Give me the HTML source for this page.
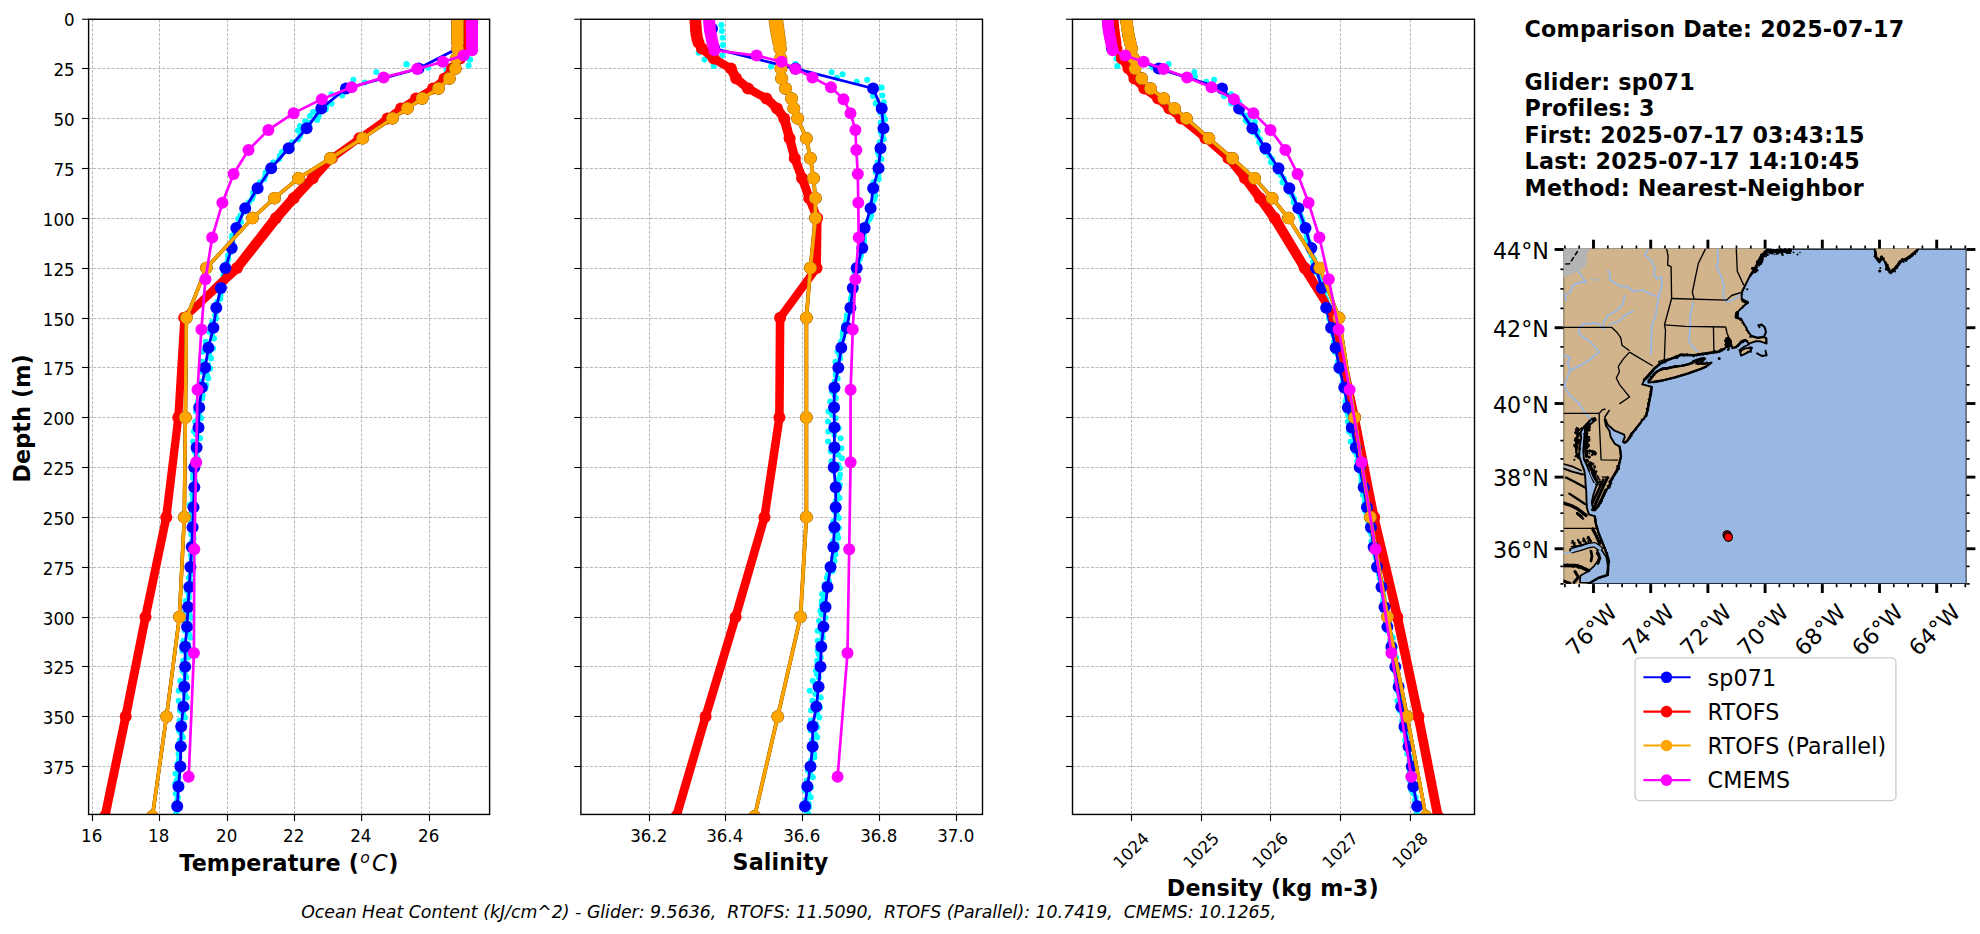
<!DOCTYPE html>
<html lang="en"><head><meta charset="utf-8"><title>Glider vs model comparison 2025-07-17</title>
<style>html,body{margin:0;padding:0;background:#fff}svg{display:block}text{white-space:pre}</style></head><body>
<svg width="1980" height="934" viewBox="0 0 1980 934">
<rect width="1980" height="934" fill="#fff"/>
<clipPath id="clip1"><rect x="88.6" y="19.25" width="401" height="795.2"/></clipPath>
<g stroke="#b0b0b0" stroke-width="0.9" stroke-dasharray="3.05 1.55" fill="none">
<line x1="92.5" y1="19.25" x2="92.5" y2="814.45"/>
<line x1="159.5" y1="19.25" x2="159.5" y2="814.45"/>
<line x1="227.5" y1="19.25" x2="227.5" y2="814.45"/>
<line x1="294.5" y1="19.25" x2="294.5" y2="814.45"/>
<line x1="361.6" y1="19.25" x2="361.6" y2="814.45"/>
<line x1="429.5" y1="19.25" x2="429.5" y2="814.45"/>
<line x1="88.6" y1="68.5" x2="489.6" y2="68.5"/>
<line x1="88.6" y1="118.5" x2="489.6" y2="118.5"/>
<line x1="88.6" y1="168.5" x2="489.6" y2="168.5"/>
<line x1="88.6" y1="218.5" x2="489.6" y2="218.5"/>
<line x1="88.6" y1="268.5" x2="489.6" y2="268.5"/>
<line x1="88.6" y1="318.5" x2="489.6" y2="318.5"/>
<line x1="88.6" y1="367.5" x2="489.6" y2="367.5"/>
<line x1="88.6" y1="417.5" x2="489.6" y2="417.5"/>
<line x1="88.6" y1="467.5" x2="489.6" y2="467.5"/>
<line x1="88.6" y1="517.5" x2="489.6" y2="517.5"/>
<line x1="88.6" y1="567.5" x2="489.6" y2="567.5"/>
<line x1="88.6" y1="617.5" x2="489.6" y2="617.5"/>
<line x1="88.6" y1="666.5" x2="489.6" y2="666.5"/>
<line x1="88.6" y1="716.5" x2="489.6" y2="716.5"/>
<line x1="88.6" y1="766.5" x2="489.6" y2="766.5"/>
</g>
<g clip-path="url(#clip1)">
<g fill="#00ffff">
<circle cx="324.94" cy="102.45" r="3"/>
<circle cx="316.29" cy="112.42" r="3"/>
<circle cx="308.81" cy="122.39" r="3"/>
<circle cx="301.18" cy="132.36" r="3"/>
<circle cx="292.11" cy="142.33" r="3"/>
<circle cx="281.86" cy="152.3" r="3"/>
<circle cx="273.34" cy="162.27" r="3"/>
<circle cx="265.71" cy="172.24" r="3"/>
<circle cx="260.01" cy="182.21" r="3"/>
<circle cx="253.31" cy="192.18" r="3"/>
<circle cx="248.85" cy="202.15" r="3"/>
<circle cx="243.83" cy="212.12" r="3"/>
<circle cx="241.02" cy="222.09" r="3"/>
<circle cx="236.73" cy="232.06" r="3"/>
<circle cx="232.29" cy="242.03" r="3"/>
<circle cx="230.8" cy="252" r="3"/>
<circle cx="227.34" cy="261.97" r="3"/>
<circle cx="224.21" cy="271.94" r="3"/>
<circle cx="222.52" cy="281.91" r="3"/>
<circle cx="219.89" cy="291.88" r="3"/>
<circle cx="217.37" cy="301.85" r="3"/>
<circle cx="215.81" cy="311.82" r="3"/>
<circle cx="212.22" cy="321.79" r="3"/>
<circle cx="209.24" cy="331.76" r="3"/>
<circle cx="205.77" cy="341.73" r="3"/>
<circle cx="202.75" cy="351.7" r="3"/>
<circle cx="202.24" cy="361.67" r="3"/>
<circle cx="201.23" cy="371.64" r="3"/>
<circle cx="201.05" cy="381.61" r="3"/>
<circle cx="199.16" cy="391.58" r="3"/>
<circle cx="197.8" cy="401.55" r="3"/>
<circle cx="195.89" cy="411.52" r="3"/>
<circle cx="195.17" cy="421.49" r="3"/>
<circle cx="193.91" cy="431.46" r="3"/>
<circle cx="193.04" cy="441.43" r="3"/>
<circle cx="194.52" cy="451.4" r="3"/>
<circle cx="194.75" cy="461.37" r="3"/>
<circle cx="194.93" cy="471.34" r="3"/>
<circle cx="195.28" cy="481.31" r="3"/>
<circle cx="194.26" cy="491.28" r="3"/>
<circle cx="193.14" cy="501.25" r="3"/>
<circle cx="192.23" cy="511.22" r="3"/>
<circle cx="191.1" cy="521.19" r="3"/>
<circle cx="192.35" cy="531.16" r="3"/>
<circle cx="191.94" cy="541.13" r="3"/>
<circle cx="193.15" cy="551.1" r="3"/>
<circle cx="192.06" cy="561.07" r="3"/>
<circle cx="192.39" cy="571.04" r="3"/>
<circle cx="190.7" cy="581.01" r="3"/>
<circle cx="187.11" cy="590.98" r="3"/>
<circle cx="185.63" cy="600.95" r="3"/>
<circle cx="185.69" cy="610.92" r="3"/>
<circle cx="184.22" cy="620.89" r="3"/>
<circle cx="184.99" cy="630.86" r="3"/>
<circle cx="183.43" cy="640.83" r="3"/>
<circle cx="182.46" cy="650.8" r="3"/>
<circle cx="183.26" cy="660.77" r="3"/>
<circle cx="182.57" cy="670.74" r="3"/>
<circle cx="180.16" cy="680.71" r="3"/>
<circle cx="178.68" cy="690.68" r="3"/>
<circle cx="178.68" cy="700.65" r="3"/>
<circle cx="179.93" cy="710.62" r="3"/>
<circle cx="179.61" cy="720.59" r="3"/>
<circle cx="178.83" cy="730.56" r="3"/>
<circle cx="179.73" cy="740.53" r="3"/>
<circle cx="179.45" cy="750.5" r="3"/>
<circle cx="178.84" cy="760.47" r="3"/>
<circle cx="179.3" cy="770.44" r="3"/>
<circle cx="176.84" cy="780.41" r="3"/>
<circle cx="177.06" cy="790.38" r="3"/>
<circle cx="177.04" cy="800.35" r="3"/>
<circle cx="177.24" cy="810.32" r="3"/>
<circle cx="326.37" cy="105.84" r="3"/>
<circle cx="318.65" cy="115.81" r="3"/>
<circle cx="309.44" cy="125.78" r="3"/>
<circle cx="300.23" cy="135.75" r="3"/>
<circle cx="289.53" cy="145.72" r="3"/>
<circle cx="279.92" cy="155.69" r="3"/>
<circle cx="272.33" cy="165.66" r="3"/>
<circle cx="265.05" cy="175.63" r="3"/>
<circle cx="257.89" cy="185.6" r="3"/>
<circle cx="253.16" cy="195.57" r="3"/>
<circle cx="245.57" cy="205.54" r="3"/>
<circle cx="240.44" cy="215.51" r="3"/>
<circle cx="236.04" cy="225.48" r="3"/>
<circle cx="232.05" cy="235.45" r="3"/>
<circle cx="228.53" cy="245.42" r="3"/>
<circle cx="227.98" cy="255.39" r="3"/>
<circle cx="224.45" cy="265.36" r="3"/>
<circle cx="223.39" cy="275.33" r="3"/>
<circle cx="223.2" cy="285.3" r="3"/>
<circle cx="220.43" cy="295.27" r="3"/>
<circle cx="217.84" cy="305.24" r="3"/>
<circle cx="215.17" cy="315.21" r="3"/>
<circle cx="213.32" cy="325.18" r="3"/>
<circle cx="212.11" cy="335.15" r="3"/>
<circle cx="209.54" cy="345.12" r="3"/>
<circle cx="209.35" cy="355.09" r="3"/>
<circle cx="208.14" cy="365.06" r="3"/>
<circle cx="207.03" cy="375.03" r="3"/>
<circle cx="206.04" cy="385" r="3"/>
<circle cx="202.69" cy="394.97" r="3"/>
<circle cx="200.29" cy="404.94" r="3"/>
<circle cx="199.2" cy="414.91" r="3"/>
<circle cx="196.96" cy="424.88" r="3"/>
<circle cx="196.22" cy="434.85" r="3"/>
<circle cx="197.26" cy="444.82" r="3"/>
<circle cx="196.41" cy="454.79" r="3"/>
<circle cx="194.12" cy="464.76" r="3"/>
<circle cx="193.1" cy="474.73" r="3"/>
<circle cx="193.16" cy="484.7" r="3"/>
<circle cx="192.2" cy="494.67" r="3"/>
<circle cx="189.69" cy="504.64" r="3"/>
<circle cx="190.85" cy="514.61" r="3"/>
<circle cx="191.06" cy="524.58" r="3"/>
<circle cx="191.23" cy="534.55" r="3"/>
<circle cx="191.49" cy="544.52" r="3"/>
<circle cx="190.85" cy="554.49" r="3"/>
<circle cx="190.05" cy="564.46" r="3"/>
<circle cx="190.88" cy="574.43" r="3"/>
<circle cx="188.43" cy="584.4" r="3"/>
<circle cx="188.68" cy="594.37" r="3"/>
<circle cx="187.7" cy="604.34" r="3"/>
<circle cx="189.36" cy="614.31" r="3"/>
<circle cx="189.61" cy="624.28" r="3"/>
<circle cx="189.03" cy="634.25" r="3"/>
<circle cx="188.02" cy="644.22" r="3"/>
<circle cx="188.31" cy="654.19" r="3"/>
<circle cx="185.98" cy="664.16" r="3"/>
<circle cx="184.97" cy="674.13" r="3"/>
<circle cx="184.61" cy="684.1" r="3"/>
<circle cx="184.72" cy="694.07" r="3"/>
<circle cx="184.22" cy="704.04" r="3"/>
<circle cx="183.12" cy="714.01" r="3"/>
<circle cx="183.44" cy="723.98" r="3"/>
<circle cx="181.1" cy="733.95" r="3"/>
<circle cx="179.47" cy="743.92" r="3"/>
<circle cx="178.48" cy="753.89" r="3"/>
<circle cx="177.57" cy="763.86" r="3"/>
<circle cx="175.61" cy="773.83" r="3"/>
<circle cx="175.2" cy="783.8" r="3"/>
<circle cx="175.71" cy="793.77" r="3"/>
<circle cx="176.42" cy="803.74" r="3"/>
<circle cx="175.99" cy="813.71" r="3"/>
<circle cx="325.75" cy="109.23" r="3"/>
<circle cx="317.5" cy="119.2" r="3"/>
<circle cx="308.09" cy="129.17" r="3"/>
<circle cx="298.19" cy="139.14" r="3"/>
<circle cx="288.6" cy="149.11" r="3"/>
<circle cx="279.13" cy="159.08" r="3"/>
<circle cx="270.83" cy="169.05" r="3"/>
<circle cx="264.4" cy="179.02" r="3"/>
<circle cx="259.36" cy="188.99" r="3"/>
<circle cx="252.07" cy="198.96" r="3"/>
<circle cx="245.48" cy="208.93" r="3"/>
<circle cx="238.12" cy="218.9" r="3"/>
<circle cx="234.54" cy="228.87" r="3"/>
<circle cx="232.13" cy="238.84" r="3"/>
<circle cx="231.13" cy="248.81" r="3"/>
<circle cx="228.35" cy="258.78" r="3"/>
<circle cx="227.68" cy="268.75" r="3"/>
<circle cx="224.1" cy="278.72" r="3"/>
<circle cx="222.7" cy="288.69" r="3"/>
<circle cx="220.31" cy="298.66" r="3"/>
<circle cx="217.98" cy="308.63" r="3"/>
<circle cx="216.22" cy="318.6" r="3"/>
<circle cx="215.26" cy="328.57" r="3"/>
<circle cx="214.04" cy="338.54" r="3"/>
<circle cx="213.03" cy="348.51" r="3"/>
<circle cx="211.03" cy="358.48" r="3"/>
<circle cx="210.11" cy="368.45" r="3"/>
<circle cx="208.25" cy="378.42" r="3"/>
<circle cx="205.51" cy="388.39" r="3"/>
<circle cx="202.29" cy="398.36" r="3"/>
<circle cx="201.25" cy="408.33" r="3"/>
<circle cx="201.08" cy="418.3" r="3"/>
<circle cx="200.56" cy="428.27" r="3"/>
<circle cx="200.19" cy="438.24" r="3"/>
<circle cx="198.81" cy="448.21" r="3"/>
<circle cx="197.5" cy="458.18" r="3"/>
<circle cx="195.39" cy="468.15" r="3"/>
<circle cx="193.04" cy="478.12" r="3"/>
<circle cx="193.14" cy="488.09" r="3"/>
<circle cx="193.12" cy="498.06" r="3"/>
<circle cx="192.89" cy="508.03" r="3"/>
<circle cx="193.03" cy="518" r="3"/>
<circle cx="192.85" cy="527.97" r="3"/>
<circle cx="193.66" cy="537.94" r="3"/>
<circle cx="192.87" cy="547.91" r="3"/>
<circle cx="191.47" cy="557.88" r="3"/>
<circle cx="191.08" cy="567.85" r="3"/>
<circle cx="188.82" cy="577.82" r="3"/>
<circle cx="190.04" cy="587.79" r="3"/>
<circle cx="189" cy="597.76" r="3"/>
<circle cx="190.85" cy="607.73" r="3"/>
<circle cx="191.27" cy="617.7" r="3"/>
<circle cx="190.81" cy="627.67" r="3"/>
<circle cx="190.63" cy="637.64" r="3"/>
<circle cx="188.64" cy="647.61" r="3"/>
<circle cx="188.02" cy="657.58" r="3"/>
<circle cx="188.06" cy="667.55" r="3"/>
<circle cx="186.33" cy="677.52" r="3"/>
<circle cx="185.94" cy="687.49" r="3"/>
<circle cx="186.71" cy="697.46" r="3"/>
<circle cx="187.31" cy="707.43" r="3"/>
<circle cx="184.98" cy="717.4" r="3"/>
<circle cx="182.94" cy="727.37" r="3"/>
<circle cx="182.87" cy="737.34" r="3"/>
<circle cx="180.89" cy="747.31" r="3"/>
<circle cx="179.48" cy="757.28" r="3"/>
<circle cx="180.06" cy="767.25" r="3"/>
<circle cx="178.51" cy="777.22" r="3"/>
<circle cx="179.01" cy="787.19" r="3"/>
<circle cx="177.94" cy="797.16" r="3"/>
<circle cx="177.79" cy="807.13" r="3"/>
<circle cx="406.4" cy="64.3" r="3"/>
<circle cx="428.1" cy="67.7" r="3"/>
<circle cx="470.1" cy="59.5" r="3"/>
<circle cx="468.6" cy="65.5" r="3"/>
<circle cx="446.5" cy="70" r="3"/>
<circle cx="469.8" cy="59.4" r="3"/>
<circle cx="406.6" cy="64.3" r="3"/>
<circle cx="376.3" cy="71.9" r="3"/>
<circle cx="353.3" cy="79.8" r="3"/>
<circle cx="365.1" cy="82.4" r="3"/>
<circle cx="342.1" cy="95.6" r="3"/>
<circle cx="331.5" cy="94.3" r="3"/>
<circle cx="331.5" cy="103.8" r="3"/>
<circle cx="313.1" cy="112.1" r="3"/>
<circle cx="305.2" cy="121.3" r="3"/>
<circle cx="317.1" cy="120" r="3"/>
<circle cx="298" cy="130.5" r="3"/>
<circle cx="322" cy="108" r="3"/>
<circle cx="300" cy="126" r="3"/>
<circle cx="310" cy="116" r="3"/>
</g>
<polyline points="457.5,28.67 457.5,48.61 418.5,68.55 346,88.49 321.3,108.43 306.6,128.37 288.7,148.31 271.2,168.25 257.6,188.19 245.2,208.13 236.3,228.07 231.7,248.01 225.4,267.95 220.9,287.89 216.3,307.83 213.4,327.77 208.4,347.71 205.1,367.65 201.8,387.59 199.2,407.53 198.5,427.47 196.6,447.41 194.3,467.35 194.3,487.29 193.5,507.23 192.6,527.17 191.7,547.11 190.4,567.05 189.3,586.99 188,606.93 187,626.87 185.1,646.81 185.1,666.75 184.3,686.69 183.4,706.63 181.2,726.57 180.8,746.51 180.4,766.45 178.5,786.39 177.2,806.33" fill="none" stroke="#0000ff" stroke-width="2.8" stroke-linejoin="round"/>
<polyline points="461.1,18.7 461.1,22.69 461.1,26.68 461.1,30.66 461.1,34.65 461.1,38.64 461.1,42.63 461.1,48.61 459.6,58.58 451.6,68.55 444.1,78.52 432.6,88.49 415.6,98.46 400.6,108.43 387.1,118.4 359,138.34 331.1,158.28 310.8,178.22 291.3,198.16 273.5,218.1 234.9,267.95 183.6,317.8 177.5,417.5 165.3,517.2 144.4,616.9 124.5,716.6 103.8,816.3" fill="none" stroke="#ff0000" stroke-width="6.6" stroke-linejoin="round" stroke-linecap="butt"/>
<polyline points="461.5,18.7 461.5,22.69 461.5,26.68 461.5,30.66 461.5,34.65 461.5,38.64 461.5,42.63 461.5,48.61 460,58.58 452,68.55 444.5,78.52 433,88.49 416,98.46 401,108.43 387.5,118.4 359.4,138.34 331.8,158.28 312.7,178.22 293.6,198.16 276,218.1 237,267.95 184.2,317.8 178.3,417.5 166.3,517.2 145.5,616.9 125.7,716.6 105,816.3" fill="none" stroke="#ff0000" stroke-width="6.6" stroke-linejoin="round" stroke-linecap="butt"/>
<polyline points="461.9,18.7 461.9,22.69 461.9,26.68 461.9,30.66 461.9,34.65 461.9,38.64 461.9,42.63 461.9,48.61 460.4,58.58 452.4,68.55 444.9,78.52 433.4,88.49 416.4,98.46 401.4,108.43 387.9,118.4 359.8,138.34 332.5,158.28 314.6,178.22 295.9,198.16 278.5,218.1 239.1,267.95 184.8,317.8 179.1,417.5 167.3,517.2 146.6,616.9 126.9,716.6 106.2,816.3" fill="none" stroke="#ff0000" stroke-width="6.6" stroke-linejoin="round" stroke-linecap="butt"/>
<g>
<circle cx="461.5" cy="18.7" r="6" fill="#ff0000"/>
<circle cx="461.5" cy="22.69" r="6" fill="#ff0000"/>
<circle cx="461.5" cy="26.68" r="6" fill="#ff0000"/>
<circle cx="461.5" cy="30.66" r="6" fill="#ff0000"/>
<circle cx="461.5" cy="34.65" r="6" fill="#ff0000"/>
<circle cx="461.5" cy="38.64" r="6" fill="#ff0000"/>
<circle cx="461.5" cy="42.63" r="6" fill="#ff0000"/>
<circle cx="461.5" cy="48.61" r="6" fill="#ff0000"/>
<circle cx="460" cy="58.58" r="6" fill="#ff0000"/>
<circle cx="452" cy="68.55" r="6" fill="#ff0000"/>
<circle cx="444.5" cy="78.52" r="6" fill="#ff0000"/>
<circle cx="433" cy="88.49" r="6" fill="#ff0000"/>
<circle cx="416" cy="98.46" r="6" fill="#ff0000"/>
<circle cx="401" cy="108.43" r="6" fill="#ff0000"/>
<circle cx="387.5" cy="118.4" r="6" fill="#ff0000"/>
<circle cx="359.4" cy="138.34" r="6" fill="#ff0000"/>
<circle cx="331.8" cy="158.28" r="6" fill="#ff0000"/>
<circle cx="312.7" cy="178.22" r="6" fill="#ff0000"/>
<circle cx="293.6" cy="198.16" r="6" fill="#ff0000"/>
<circle cx="276" cy="218.1" r="6" fill="#ff0000"/>
<circle cx="237" cy="267.95" r="6" fill="#ff0000"/>
<circle cx="184.2" cy="317.8" r="6" fill="#ff0000"/>
<circle cx="178.3" cy="417.5" r="6" fill="#ff0000"/>
<circle cx="166.3" cy="517.2" r="6" fill="#ff0000"/>
<circle cx="145.5" cy="616.9" r="6" fill="#ff0000"/>
<circle cx="125.7" cy="716.6" r="6" fill="#ff0000"/>
<circle cx="105" cy="816.3" r="6" fill="#ff0000"/>
</g>
<g>
<circle cx="457.5" cy="28.67" r="6" fill="#0000ff"/>
<circle cx="457.5" cy="48.61" r="6" fill="#0000ff"/>
<circle cx="418.5" cy="68.55" r="6" fill="#0000ff"/>
<circle cx="346" cy="88.49" r="6" fill="#0000ff"/>
<circle cx="321.3" cy="108.43" r="6" fill="#0000ff"/>
<circle cx="306.6" cy="128.37" r="6" fill="#0000ff"/>
<circle cx="288.7" cy="148.31" r="6" fill="#0000ff"/>
<circle cx="271.2" cy="168.25" r="6" fill="#0000ff"/>
<circle cx="257.6" cy="188.19" r="6" fill="#0000ff"/>
<circle cx="245.2" cy="208.13" r="6" fill="#0000ff"/>
<circle cx="236.3" cy="228.07" r="6" fill="#0000ff"/>
<circle cx="231.7" cy="248.01" r="6" fill="#0000ff"/>
<circle cx="225.4" cy="267.95" r="6" fill="#0000ff"/>
<circle cx="220.9" cy="287.89" r="6" fill="#0000ff"/>
<circle cx="216.3" cy="307.83" r="6" fill="#0000ff"/>
<circle cx="213.4" cy="327.77" r="6" fill="#0000ff"/>
<circle cx="208.4" cy="347.71" r="6" fill="#0000ff"/>
<circle cx="205.1" cy="367.65" r="6" fill="#0000ff"/>
<circle cx="201.8" cy="387.59" r="6" fill="#0000ff"/>
<circle cx="199.2" cy="407.53" r="6" fill="#0000ff"/>
<circle cx="198.5" cy="427.47" r="6" fill="#0000ff"/>
<circle cx="196.6" cy="447.41" r="6" fill="#0000ff"/>
<circle cx="194.3" cy="467.35" r="6" fill="#0000ff"/>
<circle cx="194.3" cy="487.29" r="6" fill="#0000ff"/>
<circle cx="193.5" cy="507.23" r="6" fill="#0000ff"/>
<circle cx="192.6" cy="527.17" r="6" fill="#0000ff"/>
<circle cx="191.7" cy="547.11" r="6" fill="#0000ff"/>
<circle cx="190.4" cy="567.05" r="6" fill="#0000ff"/>
<circle cx="189.3" cy="586.99" r="6" fill="#0000ff"/>
<circle cx="188" cy="606.93" r="6" fill="#0000ff"/>
<circle cx="187" cy="626.87" r="6" fill="#0000ff"/>
<circle cx="185.1" cy="646.81" r="6" fill="#0000ff"/>
<circle cx="185.1" cy="666.75" r="6" fill="#0000ff"/>
<circle cx="184.3" cy="686.69" r="6" fill="#0000ff"/>
<circle cx="183.4" cy="706.63" r="6" fill="#0000ff"/>
<circle cx="181.2" cy="726.57" r="6" fill="#0000ff"/>
<circle cx="180.8" cy="746.51" r="6" fill="#0000ff"/>
<circle cx="180.4" cy="766.45" r="6" fill="#0000ff"/>
<circle cx="178.5" cy="786.39" r="6" fill="#0000ff"/>
<circle cx="177.2" cy="806.33" r="6" fill="#0000ff"/>
</g>
<polyline points="457.5,18.7 457.5,22.69 457.5,26.68 457.5,30.66 457.5,34.65 457.5,38.64 457.5,42.63 457.5,48.61 456.3,58.58 455.4,68.55 449.4,78.52 438.5,88.49 422.2,98.46 407.4,108.43 392.5,118.4 362.7,138.34 330.5,158.28 298.6,178.22 274.5,198.16 252.5,218.1 206.4,267.95 186.4,317.8 185.4,417.5 184.3,517.2 179.4,616.9 166.5,716.6 152.4,816.3" fill="none" stroke="#b87a10" stroke-width="3.5" stroke-linejoin="round"/>
<polyline points="457.5,18.7 457.5,22.69 457.5,26.68 457.5,30.66 457.5,34.65 457.5,38.64 457.5,42.63 457.5,48.61 456.3,58.58 455.4,68.55 449.4,78.52 438.5,88.49 422.2,98.46 407.4,108.43 392.5,118.4 362.7,138.34 330.5,158.28 298.6,178.22 274.5,198.16 252.5,218.1 206.4,267.95 186.4,317.8 185.4,417.5 184.3,517.2 179.4,616.9 166.5,716.6 152.4,816.3" fill="none" stroke="#b87a10" stroke-width="3.5" stroke-linejoin="round"/>
<polyline points="457.5,18.7 457.5,22.69 457.5,26.68 457.5,30.66 457.5,34.65 457.5,38.64 457.5,42.63 457.5,48.61 456.3,58.58 455.4,68.55 449.4,78.52 438.5,88.49 422.2,98.46 407.4,108.43 392.5,118.4 362.7,138.34 330.5,158.28 298.6,178.22 274.5,198.16 252.5,218.1 206.4,267.95 186.4,317.8 185.4,417.5 184.3,517.2 179.4,616.9 166.5,716.6 152.4,816.3" fill="none" stroke="#b87a10" stroke-width="3.5" stroke-linejoin="round"/>
<g>
<circle cx="457.5" cy="18.7" r="6.25" fill="#b87a10"/>
<circle cx="457.5" cy="22.69" r="6.25" fill="#b87a10"/>
<circle cx="457.5" cy="26.68" r="6.25" fill="#b87a10"/>
<circle cx="457.5" cy="30.66" r="6.25" fill="#b87a10"/>
<circle cx="457.5" cy="34.65" r="6.25" fill="#b87a10"/>
<circle cx="457.5" cy="38.64" r="6.25" fill="#b87a10"/>
<circle cx="457.5" cy="42.63" r="6.25" fill="#b87a10"/>
<circle cx="457.5" cy="48.61" r="6.25" fill="#b87a10"/>
<circle cx="456.3" cy="58.58" r="6.25" fill="#b87a10"/>
<circle cx="455.4" cy="68.55" r="6.25" fill="#b87a10"/>
<circle cx="449.4" cy="78.52" r="6.25" fill="#b87a10"/>
<circle cx="438.5" cy="88.49" r="6.25" fill="#b87a10"/>
<circle cx="422.2" cy="98.46" r="6.25" fill="#b87a10"/>
<circle cx="407.4" cy="108.43" r="6.25" fill="#b87a10"/>
<circle cx="392.5" cy="118.4" r="6.25" fill="#b87a10"/>
<circle cx="362.7" cy="138.34" r="6.25" fill="#b87a10"/>
<circle cx="330.5" cy="158.28" r="6.25" fill="#b87a10"/>
<circle cx="298.6" cy="178.22" r="6.25" fill="#b87a10"/>
<circle cx="274.5" cy="198.16" r="6.25" fill="#b87a10"/>
<circle cx="252.5" cy="218.1" r="6.25" fill="#b87a10"/>
<circle cx="206.4" cy="267.95" r="6.25" fill="#b87a10"/>
<circle cx="186.4" cy="317.8" r="6.25" fill="#b87a10"/>
<circle cx="185.4" cy="417.5" r="6.25" fill="#b87a10"/>
<circle cx="184.3" cy="517.2" r="6.25" fill="#b87a10"/>
<circle cx="179.4" cy="616.9" r="6.25" fill="#b87a10"/>
<circle cx="166.5" cy="716.6" r="6.25" fill="#b87a10"/>
<circle cx="152.4" cy="816.3" r="6.25" fill="#b87a10"/>
<circle cx="457.5" cy="18.7" r="6.25" fill="#b87a10"/>
<circle cx="457.5" cy="22.69" r="6.25" fill="#b87a10"/>
<circle cx="457.5" cy="26.68" r="6.25" fill="#b87a10"/>
<circle cx="457.5" cy="30.66" r="6.25" fill="#b87a10"/>
<circle cx="457.5" cy="34.65" r="6.25" fill="#b87a10"/>
<circle cx="457.5" cy="38.64" r="6.25" fill="#b87a10"/>
<circle cx="457.5" cy="42.63" r="6.25" fill="#b87a10"/>
<circle cx="457.5" cy="48.61" r="6.25" fill="#b87a10"/>
<circle cx="456.3" cy="58.58" r="6.25" fill="#b87a10"/>
<circle cx="455.4" cy="68.55" r="6.25" fill="#b87a10"/>
<circle cx="449.4" cy="78.52" r="6.25" fill="#b87a10"/>
<circle cx="438.5" cy="88.49" r="6.25" fill="#b87a10"/>
<circle cx="422.2" cy="98.46" r="6.25" fill="#b87a10"/>
<circle cx="407.4" cy="108.43" r="6.25" fill="#b87a10"/>
<circle cx="392.5" cy="118.4" r="6.25" fill="#b87a10"/>
<circle cx="362.7" cy="138.34" r="6.25" fill="#b87a10"/>
<circle cx="330.5" cy="158.28" r="6.25" fill="#b87a10"/>
<circle cx="298.6" cy="178.22" r="6.25" fill="#b87a10"/>
<circle cx="274.5" cy="198.16" r="6.25" fill="#b87a10"/>
<circle cx="252.5" cy="218.1" r="6.25" fill="#b87a10"/>
<circle cx="206.4" cy="267.95" r="6.25" fill="#b87a10"/>
<circle cx="186.4" cy="317.8" r="6.25" fill="#b87a10"/>
<circle cx="185.4" cy="417.5" r="6.25" fill="#b87a10"/>
<circle cx="184.3" cy="517.2" r="6.25" fill="#b87a10"/>
<circle cx="179.4" cy="616.9" r="6.25" fill="#b87a10"/>
<circle cx="166.5" cy="716.6" r="6.25" fill="#b87a10"/>
<circle cx="152.4" cy="816.3" r="6.25" fill="#b87a10"/>
<circle cx="457.5" cy="18.7" r="6.25" fill="#b87a10"/>
<circle cx="457.5" cy="22.69" r="6.25" fill="#b87a10"/>
<circle cx="457.5" cy="26.68" r="6.25" fill="#b87a10"/>
<circle cx="457.5" cy="30.66" r="6.25" fill="#b87a10"/>
<circle cx="457.5" cy="34.65" r="6.25" fill="#b87a10"/>
<circle cx="457.5" cy="38.64" r="6.25" fill="#b87a10"/>
<circle cx="457.5" cy="42.63" r="6.25" fill="#b87a10"/>
<circle cx="457.5" cy="48.61" r="6.25" fill="#b87a10"/>
<circle cx="456.3" cy="58.58" r="6.25" fill="#b87a10"/>
<circle cx="455.4" cy="68.55" r="6.25" fill="#b87a10"/>
<circle cx="449.4" cy="78.52" r="6.25" fill="#b87a10"/>
<circle cx="438.5" cy="88.49" r="6.25" fill="#b87a10"/>
<circle cx="422.2" cy="98.46" r="6.25" fill="#b87a10"/>
<circle cx="407.4" cy="108.43" r="6.25" fill="#b87a10"/>
<circle cx="392.5" cy="118.4" r="6.25" fill="#b87a10"/>
<circle cx="362.7" cy="138.34" r="6.25" fill="#b87a10"/>
<circle cx="330.5" cy="158.28" r="6.25" fill="#b87a10"/>
<circle cx="298.6" cy="178.22" r="6.25" fill="#b87a10"/>
<circle cx="274.5" cy="198.16" r="6.25" fill="#b87a10"/>
<circle cx="252.5" cy="218.1" r="6.25" fill="#b87a10"/>
<circle cx="206.4" cy="267.95" r="6.25" fill="#b87a10"/>
<circle cx="186.4" cy="317.8" r="6.25" fill="#b87a10"/>
<circle cx="185.4" cy="417.5" r="6.25" fill="#b87a10"/>
<circle cx="184.3" cy="517.2" r="6.25" fill="#b87a10"/>
<circle cx="179.4" cy="616.9" r="6.25" fill="#b87a10"/>
<circle cx="166.5" cy="716.6" r="6.25" fill="#b87a10"/>
<circle cx="152.4" cy="816.3" r="6.25" fill="#b87a10"/>
</g>
<polyline points="457.5,18.7 457.5,22.69 457.5,26.68 457.5,30.66 457.5,34.65 457.5,38.64 457.5,42.63 457.5,48.61 456.3,58.58 455.4,68.55 449.4,78.52 438.5,88.49 422.2,98.46 407.4,108.43 392.5,118.4 362.7,138.34 330.5,158.28 298.6,178.22 274.5,198.16 252.5,218.1 206.4,267.95 186.4,317.8 185.4,417.5 184.3,517.2 179.4,616.9 166.5,716.6 152.4,816.3" fill="none" stroke="#ffa500" stroke-width="2.3" stroke-linejoin="round"/>
<polyline points="457.5,18.7 457.5,22.69 457.5,26.68 457.5,30.66 457.5,34.65 457.5,38.64 457.5,42.63 457.5,48.61 456.3,58.58 455.4,68.55 449.4,78.52 438.5,88.49 422.2,98.46 407.4,108.43 392.5,118.4 362.7,138.34 330.5,158.28 298.6,178.22 274.5,198.16 252.5,218.1 206.4,267.95 186.4,317.8 185.4,417.5 184.3,517.2 179.4,616.9 166.5,716.6 152.4,816.3" fill="none" stroke="#ffa500" stroke-width="2.3" stroke-linejoin="round"/>
<polyline points="457.5,18.7 457.5,22.69 457.5,26.68 457.5,30.66 457.5,34.65 457.5,38.64 457.5,42.63 457.5,48.61 456.3,58.58 455.4,68.55 449.4,78.52 438.5,88.49 422.2,98.46 407.4,108.43 392.5,118.4 362.7,138.34 330.5,158.28 298.6,178.22 274.5,198.16 252.5,218.1 206.4,267.95 186.4,317.8 185.4,417.5 184.3,517.2 179.4,616.9 166.5,716.6 152.4,816.3" fill="none" stroke="#ffa500" stroke-width="2.3" stroke-linejoin="round"/>
<g>
<circle cx="457.5" cy="18.7" r="5.6" fill="#ffa500"/>
<circle cx="457.5" cy="22.69" r="5.6" fill="#ffa500"/>
<circle cx="457.5" cy="26.68" r="5.6" fill="#ffa500"/>
<circle cx="457.5" cy="30.66" r="5.6" fill="#ffa500"/>
<circle cx="457.5" cy="34.65" r="5.6" fill="#ffa500"/>
<circle cx="457.5" cy="38.64" r="5.6" fill="#ffa500"/>
<circle cx="457.5" cy="42.63" r="5.6" fill="#ffa500"/>
<circle cx="457.5" cy="48.61" r="5.6" fill="#ffa500"/>
<circle cx="456.3" cy="58.58" r="5.6" fill="#ffa500"/>
<circle cx="455.4" cy="68.55" r="5.6" fill="#ffa500"/>
<circle cx="449.4" cy="78.52" r="5.6" fill="#ffa500"/>
<circle cx="438.5" cy="88.49" r="5.6" fill="#ffa500"/>
<circle cx="422.2" cy="98.46" r="5.6" fill="#ffa500"/>
<circle cx="407.4" cy="108.43" r="5.6" fill="#ffa500"/>
<circle cx="392.5" cy="118.4" r="5.6" fill="#ffa500"/>
<circle cx="362.7" cy="138.34" r="5.6" fill="#ffa500"/>
<circle cx="330.5" cy="158.28" r="5.6" fill="#ffa500"/>
<circle cx="298.6" cy="178.22" r="5.6" fill="#ffa500"/>
<circle cx="274.5" cy="198.16" r="5.6" fill="#ffa500"/>
<circle cx="252.5" cy="218.1" r="5.6" fill="#ffa500"/>
<circle cx="206.4" cy="267.95" r="5.6" fill="#ffa500"/>
<circle cx="186.4" cy="317.8" r="5.6" fill="#ffa500"/>
<circle cx="185.4" cy="417.5" r="5.6" fill="#ffa500"/>
<circle cx="184.3" cy="517.2" r="5.6" fill="#ffa500"/>
<circle cx="179.4" cy="616.9" r="5.6" fill="#ffa500"/>
<circle cx="166.5" cy="716.6" r="5.6" fill="#ffa500"/>
<circle cx="152.4" cy="816.3" r="5.6" fill="#ffa500"/>
<circle cx="457.5" cy="18.7" r="5.6" fill="#ffa500"/>
<circle cx="457.5" cy="22.69" r="5.6" fill="#ffa500"/>
<circle cx="457.5" cy="26.68" r="5.6" fill="#ffa500"/>
<circle cx="457.5" cy="30.66" r="5.6" fill="#ffa500"/>
<circle cx="457.5" cy="34.65" r="5.6" fill="#ffa500"/>
<circle cx="457.5" cy="38.64" r="5.6" fill="#ffa500"/>
<circle cx="457.5" cy="42.63" r="5.6" fill="#ffa500"/>
<circle cx="457.5" cy="48.61" r="5.6" fill="#ffa500"/>
<circle cx="456.3" cy="58.58" r="5.6" fill="#ffa500"/>
<circle cx="455.4" cy="68.55" r="5.6" fill="#ffa500"/>
<circle cx="449.4" cy="78.52" r="5.6" fill="#ffa500"/>
<circle cx="438.5" cy="88.49" r="5.6" fill="#ffa500"/>
<circle cx="422.2" cy="98.46" r="5.6" fill="#ffa500"/>
<circle cx="407.4" cy="108.43" r="5.6" fill="#ffa500"/>
<circle cx="392.5" cy="118.4" r="5.6" fill="#ffa500"/>
<circle cx="362.7" cy="138.34" r="5.6" fill="#ffa500"/>
<circle cx="330.5" cy="158.28" r="5.6" fill="#ffa500"/>
<circle cx="298.6" cy="178.22" r="5.6" fill="#ffa500"/>
<circle cx="274.5" cy="198.16" r="5.6" fill="#ffa500"/>
<circle cx="252.5" cy="218.1" r="5.6" fill="#ffa500"/>
<circle cx="206.4" cy="267.95" r="5.6" fill="#ffa500"/>
<circle cx="186.4" cy="317.8" r="5.6" fill="#ffa500"/>
<circle cx="185.4" cy="417.5" r="5.6" fill="#ffa500"/>
<circle cx="184.3" cy="517.2" r="5.6" fill="#ffa500"/>
<circle cx="179.4" cy="616.9" r="5.6" fill="#ffa500"/>
<circle cx="166.5" cy="716.6" r="5.6" fill="#ffa500"/>
<circle cx="152.4" cy="816.3" r="5.6" fill="#ffa500"/>
<circle cx="457.5" cy="18.7" r="5.6" fill="#ffa500"/>
<circle cx="457.5" cy="22.69" r="5.6" fill="#ffa500"/>
<circle cx="457.5" cy="26.68" r="5.6" fill="#ffa500"/>
<circle cx="457.5" cy="30.66" r="5.6" fill="#ffa500"/>
<circle cx="457.5" cy="34.65" r="5.6" fill="#ffa500"/>
<circle cx="457.5" cy="38.64" r="5.6" fill="#ffa500"/>
<circle cx="457.5" cy="42.63" r="5.6" fill="#ffa500"/>
<circle cx="457.5" cy="48.61" r="5.6" fill="#ffa500"/>
<circle cx="456.3" cy="58.58" r="5.6" fill="#ffa500"/>
<circle cx="455.4" cy="68.55" r="5.6" fill="#ffa500"/>
<circle cx="449.4" cy="78.52" r="5.6" fill="#ffa500"/>
<circle cx="438.5" cy="88.49" r="5.6" fill="#ffa500"/>
<circle cx="422.2" cy="98.46" r="5.6" fill="#ffa500"/>
<circle cx="407.4" cy="108.43" r="5.6" fill="#ffa500"/>
<circle cx="392.5" cy="118.4" r="5.6" fill="#ffa500"/>
<circle cx="362.7" cy="138.34" r="5.6" fill="#ffa500"/>
<circle cx="330.5" cy="158.28" r="5.6" fill="#ffa500"/>
<circle cx="298.6" cy="178.22" r="5.6" fill="#ffa500"/>
<circle cx="274.5" cy="198.16" r="5.6" fill="#ffa500"/>
<circle cx="252.5" cy="218.1" r="5.6" fill="#ffa500"/>
<circle cx="206.4" cy="267.95" r="5.6" fill="#ffa500"/>
<circle cx="186.4" cy="317.8" r="5.6" fill="#ffa500"/>
<circle cx="185.4" cy="417.5" r="5.6" fill="#ffa500"/>
<circle cx="184.3" cy="517.2" r="5.6" fill="#ffa500"/>
<circle cx="179.4" cy="616.9" r="5.6" fill="#ffa500"/>
<circle cx="166.5" cy="716.6" r="5.6" fill="#ffa500"/>
<circle cx="152.4" cy="816.3" r="5.6" fill="#ffa500"/>
</g>
<polyline points="472.1,19.68 472.1,21.77 472.1,23.98 472.1,26.32 472.1,28.83 472.1,31.54 472.1,34.51 472.1,37.78 472.1,41.43 472.1,45.56 472.1,50.23 463.6,55.59 442.8,61.77 417.2,68.97 383.6,77.4 351.6,87.35 321.8,99.14 293.6,113.16 268.4,129.89 248.5,149.93 233.6,173.93 222.4,202.81 212.2,237.5 205.4,279.26 201.4,329.46 197.5,389.84 196.2,462.33 194.3,549.18 193.9,653.05 188.7,776.84" fill="none" stroke="#ff00ff" stroke-width="2.7" stroke-linejoin="round"/>
<g>
<circle cx="472.1" cy="19.68" r="6" fill="#ff00ff"/>
<circle cx="472.1" cy="21.77" r="6" fill="#ff00ff"/>
<circle cx="472.1" cy="23.98" r="6" fill="#ff00ff"/>
<circle cx="472.1" cy="26.32" r="6" fill="#ff00ff"/>
<circle cx="472.1" cy="28.83" r="6" fill="#ff00ff"/>
<circle cx="472.1" cy="31.54" r="6" fill="#ff00ff"/>
<circle cx="472.1" cy="34.51" r="6" fill="#ff00ff"/>
<circle cx="472.1" cy="37.78" r="6" fill="#ff00ff"/>
<circle cx="472.1" cy="41.43" r="6" fill="#ff00ff"/>
<circle cx="472.1" cy="45.56" r="6" fill="#ff00ff"/>
<circle cx="472.1" cy="50.23" r="6" fill="#ff00ff"/>
<circle cx="463.6" cy="55.59" r="6" fill="#ff00ff"/>
<circle cx="442.8" cy="61.77" r="6" fill="#ff00ff"/>
<circle cx="417.2" cy="68.97" r="6" fill="#ff00ff"/>
<circle cx="383.6" cy="77.4" r="6" fill="#ff00ff"/>
<circle cx="351.6" cy="87.35" r="6" fill="#ff00ff"/>
<circle cx="321.8" cy="99.14" r="6" fill="#ff00ff"/>
<circle cx="293.6" cy="113.16" r="6" fill="#ff00ff"/>
<circle cx="268.4" cy="129.89" r="6" fill="#ff00ff"/>
<circle cx="248.5" cy="149.93" r="6" fill="#ff00ff"/>
<circle cx="233.6" cy="173.93" r="6" fill="#ff00ff"/>
<circle cx="222.4" cy="202.81" r="6" fill="#ff00ff"/>
<circle cx="212.2" cy="237.5" r="6" fill="#ff00ff"/>
<circle cx="205.4" cy="279.26" r="6" fill="#ff00ff"/>
<circle cx="201.4" cy="329.46" r="6" fill="#ff00ff"/>
<circle cx="197.5" cy="389.84" r="6" fill="#ff00ff"/>
<circle cx="196.2" cy="462.33" r="6" fill="#ff00ff"/>
<circle cx="194.3" cy="549.18" r="6" fill="#ff00ff"/>
<circle cx="193.9" cy="653.05" r="6" fill="#ff00ff"/>
<circle cx="188.7" cy="776.84" r="6" fill="#ff00ff"/>
</g>
</g>
<g stroke="#000" stroke-width="1.1" fill="none">
<line x1="92.5" y1="814.45" x2="92.5" y2="821.05"/>
<line x1="159.5" y1="814.45" x2="159.5" y2="821.05"/>
<line x1="227.5" y1="814.45" x2="227.5" y2="821.05"/>
<line x1="294.5" y1="814.45" x2="294.5" y2="821.05"/>
<line x1="361.6" y1="814.45" x2="361.6" y2="821.05"/>
<line x1="429.5" y1="814.45" x2="429.5" y2="821.05"/>
<line x1="82" y1="19.25" x2="88.6" y2="19.25"/>
<line x1="82" y1="68.5" x2="88.6" y2="68.5"/>
<line x1="82" y1="118.5" x2="88.6" y2="118.5"/>
<line x1="82" y1="168.5" x2="88.6" y2="168.5"/>
<line x1="82" y1="218.5" x2="88.6" y2="218.5"/>
<line x1="82" y1="268.5" x2="88.6" y2="268.5"/>
<line x1="82" y1="318.5" x2="88.6" y2="318.5"/>
<line x1="82" y1="367.5" x2="88.6" y2="367.5"/>
<line x1="82" y1="417.5" x2="88.6" y2="417.5"/>
<line x1="82" y1="467.5" x2="88.6" y2="467.5"/>
<line x1="82" y1="517.5" x2="88.6" y2="517.5"/>
<line x1="82" y1="567.5" x2="88.6" y2="567.5"/>
<line x1="82" y1="617.5" x2="88.6" y2="617.5"/>
<line x1="82" y1="666.5" x2="88.6" y2="666.5"/>
<line x1="82" y1="716.5" x2="88.6" y2="716.5"/>
<line x1="82" y1="766.5" x2="88.6" y2="766.5"/>
</g>
<rect x="88.6" y="19.25" width="401" height="795.2" fill="none" stroke="#000" stroke-width="1.4"/>
<g font-family="'DejaVu Sans','Liberation Sans',sans-serif" font-size="16.67" fill="#000">
<text transform="translate(91.7,841.9) scale(1,1.05)" text-anchor="middle">16</text>
<text transform="translate(158.7,841.9) scale(1,1.05)" text-anchor="middle">18</text>
<text transform="translate(226.7,841.9) scale(1,1.05)" text-anchor="middle">20</text>
<text transform="translate(293.7,841.9) scale(1,1.05)" text-anchor="middle">22</text>
<text transform="translate(360.8,841.9) scale(1,1.05)" text-anchor="middle">24</text>
<text transform="translate(428.7,841.9) scale(1,1.05)" text-anchor="middle">26</text>
<text transform="translate(74.6,26.45) scale(1,1.05)" text-anchor="end">0</text>
<text transform="translate(74.6,75.7) scale(1,1.05)" text-anchor="end">25</text>
<text transform="translate(74.6,125.7) scale(1,1.05)" text-anchor="end">50</text>
<text transform="translate(74.6,175.7) scale(1,1.05)" text-anchor="end">75</text>
<text transform="translate(74.6,225.7) scale(1,1.05)" text-anchor="end">100</text>
<text transform="translate(74.6,275.7) scale(1,1.05)" text-anchor="end">125</text>
<text transform="translate(74.6,325.7) scale(1,1.05)" text-anchor="end">150</text>
<text transform="translate(74.6,374.7) scale(1,1.05)" text-anchor="end">175</text>
<text transform="translate(74.6,424.7) scale(1,1.05)" text-anchor="end">200</text>
<text transform="translate(74.6,474.7) scale(1,1.05)" text-anchor="end">225</text>
<text transform="translate(74.6,524.7) scale(1,1.05)" text-anchor="end">250</text>
<text transform="translate(74.6,574.7) scale(1,1.05)" text-anchor="end">275</text>
<text transform="translate(74.6,624.7) scale(1,1.05)" text-anchor="end">300</text>
<text transform="translate(74.6,673.7) scale(1,1.05)" text-anchor="end">325</text>
<text transform="translate(74.6,723.7) scale(1,1.05)" text-anchor="end">350</text>
<text transform="translate(74.6,773.7) scale(1,1.05)" text-anchor="end">375</text>
</g>
<clipPath id="clip2"><rect x="580.9" y="19.25" width="401.6" height="795.2"/></clipPath>
<g stroke="#b0b0b0" stroke-width="0.9" stroke-dasharray="3.05 1.55" fill="none">
<line x1="649.5" y1="19.25" x2="649.5" y2="814.45"/>
<line x1="725.5" y1="19.25" x2="725.5" y2="814.45"/>
<line x1="802.5" y1="19.25" x2="802.5" y2="814.45"/>
<line x1="879.5" y1="19.25" x2="879.5" y2="814.45"/>
<line x1="956.5" y1="19.25" x2="956.5" y2="814.45"/>
<line x1="580.9" y1="68.5" x2="982.5" y2="68.5"/>
<line x1="580.9" y1="118.5" x2="982.5" y2="118.5"/>
<line x1="580.9" y1="168.5" x2="982.5" y2="168.5"/>
<line x1="580.9" y1="218.5" x2="982.5" y2="218.5"/>
<line x1="580.9" y1="268.5" x2="982.5" y2="268.5"/>
<line x1="580.9" y1="318.5" x2="982.5" y2="318.5"/>
<line x1="580.9" y1="367.5" x2="982.5" y2="367.5"/>
<line x1="580.9" y1="417.5" x2="982.5" y2="417.5"/>
<line x1="580.9" y1="467.5" x2="982.5" y2="467.5"/>
<line x1="580.9" y1="517.5" x2="982.5" y2="517.5"/>
<line x1="580.9" y1="567.5" x2="982.5" y2="567.5"/>
<line x1="580.9" y1="617.5" x2="982.5" y2="617.5"/>
<line x1="580.9" y1="666.5" x2="982.5" y2="666.5"/>
<line x1="580.9" y1="716.5" x2="982.5" y2="716.5"/>
<line x1="580.9" y1="766.5" x2="982.5" y2="766.5"/>
</g>
<g clip-path="url(#clip2)">
<g fill="#00ffff">
<circle cx="876.59" cy="102.45" r="3"/>
<circle cx="880.3" cy="112.42" r="3"/>
<circle cx="880.78" cy="122.39" r="3"/>
<circle cx="880.69" cy="132.36" r="3"/>
<circle cx="879.75" cy="142.33" r="3"/>
<circle cx="877.85" cy="152.3" r="3"/>
<circle cx="877.63" cy="162.27" r="3"/>
<circle cx="875.81" cy="172.24" r="3"/>
<circle cx="873.54" cy="182.21" r="3"/>
<circle cx="872.26" cy="192.18" r="3"/>
<circle cx="872.11" cy="202.15" r="3"/>
<circle cx="869.73" cy="212.12" r="3"/>
<circle cx="867.43" cy="222.09" r="3"/>
<circle cx="864.23" cy="232.06" r="3"/>
<circle cx="863.91" cy="242.03" r="3"/>
<circle cx="859.82" cy="252" r="3"/>
<circle cx="858.3" cy="261.97" r="3"/>
<circle cx="854.52" cy="271.94" r="3"/>
<circle cx="854.23" cy="281.91" r="3"/>
<circle cx="852.26" cy="291.88" r="3"/>
<circle cx="851.22" cy="301.85" r="3"/>
<circle cx="850.2" cy="311.82" r="3"/>
<circle cx="845.93" cy="321.79" r="3"/>
<circle cx="842.84" cy="331.76" r="3"/>
<circle cx="840.98" cy="341.73" r="3"/>
<circle cx="837.6" cy="351.7" r="3"/>
<circle cx="835.49" cy="361.67" r="3"/>
<circle cx="836.15" cy="371.64" r="3"/>
<circle cx="834.65" cy="381.61" r="3"/>
<circle cx="831.99" cy="391.58" r="3"/>
<circle cx="830.14" cy="401.55" r="3"/>
<circle cx="828.49" cy="411.52" r="3"/>
<circle cx="827.93" cy="421.49" r="3"/>
<circle cx="828.28" cy="431.46" r="3"/>
<circle cx="828.13" cy="441.43" r="3"/>
<circle cx="830.85" cy="451.4" r="3"/>
<circle cx="831.46" cy="461.37" r="3"/>
<circle cx="833.81" cy="471.34" r="3"/>
<circle cx="837.07" cy="481.31" r="3"/>
<circle cx="836.67" cy="491.28" r="3"/>
<circle cx="835.74" cy="501.25" r="3"/>
<circle cx="834.76" cy="511.22" r="3"/>
<circle cx="833.38" cy="521.19" r="3"/>
<circle cx="833.02" cy="531.16" r="3"/>
<circle cx="832.96" cy="541.13" r="3"/>
<circle cx="834.77" cy="551.1" r="3"/>
<circle cx="834.49" cy="561.07" r="3"/>
<circle cx="832.62" cy="571.04" r="3"/>
<circle cx="828.95" cy="581.01" r="3"/>
<circle cx="824.86" cy="590.98" r="3"/>
<circle cx="821.83" cy="600.95" r="3"/>
<circle cx="820.25" cy="610.92" r="3"/>
<circle cx="819.1" cy="620.89" r="3"/>
<circle cx="817.68" cy="630.86" r="3"/>
<circle cx="817.78" cy="640.83" r="3"/>
<circle cx="817.7" cy="650.8" r="3"/>
<circle cx="817.17" cy="660.77" r="3"/>
<circle cx="815.91" cy="670.74" r="3"/>
<circle cx="812.82" cy="680.71" r="3"/>
<circle cx="809.81" cy="690.68" r="3"/>
<circle cx="812.48" cy="700.65" r="3"/>
<circle cx="811.11" cy="710.62" r="3"/>
<circle cx="810.85" cy="720.59" r="3"/>
<circle cx="810.6" cy="730.56" r="3"/>
<circle cx="811.99" cy="740.53" r="3"/>
<circle cx="811.74" cy="750.5" r="3"/>
<circle cx="811.07" cy="760.47" r="3"/>
<circle cx="807.85" cy="770.44" r="3"/>
<circle cx="806.81" cy="780.41" r="3"/>
<circle cx="804.92" cy="790.38" r="3"/>
<circle cx="805.72" cy="800.35" r="3"/>
<circle cx="804.91" cy="810.32" r="3"/>
<circle cx="880.31" cy="105.84" r="3"/>
<circle cx="883.14" cy="115.81" r="3"/>
<circle cx="882.88" cy="125.78" r="3"/>
<circle cx="882.5" cy="135.75" r="3"/>
<circle cx="880.16" cy="145.72" r="3"/>
<circle cx="879.11" cy="155.69" r="3"/>
<circle cx="878.88" cy="165.66" r="3"/>
<circle cx="878.37" cy="175.63" r="3"/>
<circle cx="875.61" cy="185.6" r="3"/>
<circle cx="875.5" cy="195.57" r="3"/>
<circle cx="872.72" cy="205.54" r="3"/>
<circle cx="871.22" cy="215.51" r="3"/>
<circle cx="866.31" cy="225.48" r="3"/>
<circle cx="863.53" cy="235.45" r="3"/>
<circle cx="863" cy="245.42" r="3"/>
<circle cx="860.9" cy="255.39" r="3"/>
<circle cx="856.58" cy="265.36" r="3"/>
<circle cx="855.29" cy="275.33" r="3"/>
<circle cx="854.46" cy="285.3" r="3"/>
<circle cx="851.87" cy="295.27" r="3"/>
<circle cx="849.73" cy="305.24" r="3"/>
<circle cx="846.73" cy="315.21" r="3"/>
<circle cx="844.3" cy="325.18" r="3"/>
<circle cx="842.65" cy="335.15" r="3"/>
<circle cx="840.84" cy="345.12" r="3"/>
<circle cx="839.69" cy="355.09" r="3"/>
<circle cx="837.95" cy="365.06" r="3"/>
<circle cx="835.66" cy="375.03" r="3"/>
<circle cx="834.4" cy="385" r="3"/>
<circle cx="834.43" cy="394.97" r="3"/>
<circle cx="832.95" cy="404.94" r="3"/>
<circle cx="832.22" cy="414.91" r="3"/>
<circle cx="832.11" cy="424.88" r="3"/>
<circle cx="834.32" cy="434.85" r="3"/>
<circle cx="836.36" cy="444.82" r="3"/>
<circle cx="838.33" cy="454.79" r="3"/>
<circle cx="838.29" cy="464.76" r="3"/>
<circle cx="840.13" cy="474.73" r="3"/>
<circle cx="839.87" cy="484.7" r="3"/>
<circle cx="837.18" cy="494.67" r="3"/>
<circle cx="836.35" cy="504.64" r="3"/>
<circle cx="836.82" cy="514.61" r="3"/>
<circle cx="835.62" cy="524.58" r="3"/>
<circle cx="837.41" cy="534.55" r="3"/>
<circle cx="836.68" cy="544.52" r="3"/>
<circle cx="835.52" cy="554.49" r="3"/>
<circle cx="832.68" cy="564.46" r="3"/>
<circle cx="828.07" cy="574.43" r="3"/>
<circle cx="824.59" cy="584.4" r="3"/>
<circle cx="822.02" cy="594.37" r="3"/>
<circle cx="821.66" cy="604.34" r="3"/>
<circle cx="821.51" cy="614.31" r="3"/>
<circle cx="820.68" cy="624.28" r="3"/>
<circle cx="822.14" cy="634.25" r="3"/>
<circle cx="820.32" cy="644.22" r="3"/>
<circle cx="818.7" cy="654.19" r="3"/>
<circle cx="817.55" cy="664.16" r="3"/>
<circle cx="816.95" cy="674.13" r="3"/>
<circle cx="815.17" cy="684.1" r="3"/>
<circle cx="815.37" cy="694.07" r="3"/>
<circle cx="817.03" cy="704.04" r="3"/>
<circle cx="817" cy="714.01" r="3"/>
<circle cx="815.9" cy="723.98" r="3"/>
<circle cx="815.12" cy="733.95" r="3"/>
<circle cx="815.1" cy="743.92" r="3"/>
<circle cx="814.19" cy="753.89" r="3"/>
<circle cx="812.25" cy="763.86" r="3"/>
<circle cx="810.24" cy="773.83" r="3"/>
<circle cx="808.68" cy="783.8" r="3"/>
<circle cx="808.35" cy="793.77" r="3"/>
<circle cx="808.74" cy="803.74" r="3"/>
<circle cx="808.33" cy="813.71" r="3"/>
<circle cx="884.08" cy="109.23" r="3"/>
<circle cx="885.11" cy="119.2" r="3"/>
<circle cx="885.22" cy="129.17" r="3"/>
<circle cx="883.74" cy="139.14" r="3"/>
<circle cx="882.53" cy="149.11" r="3"/>
<circle cx="881.41" cy="159.08" r="3"/>
<circle cx="881.59" cy="169.05" r="3"/>
<circle cx="878.76" cy="179.02" r="3"/>
<circle cx="875.83" cy="188.99" r="3"/>
<circle cx="874.67" cy="198.96" r="3"/>
<circle cx="872.38" cy="208.93" r="3"/>
<circle cx="869.74" cy="218.9" r="3"/>
<circle cx="865.77" cy="228.87" r="3"/>
<circle cx="864.12" cy="238.84" r="3"/>
<circle cx="863.21" cy="248.81" r="3"/>
<circle cx="859.78" cy="258.78" r="3"/>
<circle cx="858.08" cy="268.75" r="3"/>
<circle cx="856.27" cy="278.72" r="3"/>
<circle cx="853.15" cy="288.69" r="3"/>
<circle cx="850.78" cy="298.66" r="3"/>
<circle cx="849.08" cy="308.63" r="3"/>
<circle cx="846.79" cy="318.6" r="3"/>
<circle cx="845.86" cy="328.57" r="3"/>
<circle cx="842.61" cy="338.54" r="3"/>
<circle cx="840.62" cy="348.51" r="3"/>
<circle cx="840.2" cy="358.48" r="3"/>
<circle cx="839.68" cy="368.45" r="3"/>
<circle cx="837.68" cy="378.42" r="3"/>
<circle cx="835.3" cy="388.39" r="3"/>
<circle cx="835.83" cy="398.36" r="3"/>
<circle cx="834.84" cy="408.33" r="3"/>
<circle cx="835.63" cy="418.3" r="3"/>
<circle cx="838.69" cy="428.27" r="3"/>
<circle cx="840.59" cy="438.24" r="3"/>
<circle cx="841.25" cy="448.21" r="3"/>
<circle cx="841.91" cy="458.18" r="3"/>
<circle cx="839.95" cy="468.15" r="3"/>
<circle cx="839.15" cy="478.12" r="3"/>
<circle cx="838.88" cy="488.09" r="3"/>
<circle cx="839.54" cy="498.06" r="3"/>
<circle cx="837.97" cy="508.03" r="3"/>
<circle cx="838.92" cy="518" r="3"/>
<circle cx="838.86" cy="527.97" r="3"/>
<circle cx="838.14" cy="537.94" r="3"/>
<circle cx="836.87" cy="547.91" r="3"/>
<circle cx="833.01" cy="557.88" r="3"/>
<circle cx="830.79" cy="567.85" r="3"/>
<circle cx="826.89" cy="577.82" r="3"/>
<circle cx="825.39" cy="587.79" r="3"/>
<circle cx="824.01" cy="597.76" r="3"/>
<circle cx="824.97" cy="607.73" r="3"/>
<circle cx="825.53" cy="617.7" r="3"/>
<circle cx="825.57" cy="627.67" r="3"/>
<circle cx="822.92" cy="637.64" r="3"/>
<circle cx="821.32" cy="647.61" r="3"/>
<circle cx="820.78" cy="657.58" r="3"/>
<circle cx="820.09" cy="667.55" r="3"/>
<circle cx="818.84" cy="677.52" r="3"/>
<circle cx="820.38" cy="687.49" r="3"/>
<circle cx="820.71" cy="697.46" r="3"/>
<circle cx="820.05" cy="707.43" r="3"/>
<circle cx="819.32" cy="717.4" r="3"/>
<circle cx="817.36" cy="727.37" r="3"/>
<circle cx="817.2" cy="737.34" r="3"/>
<circle cx="815.47" cy="747.31" r="3"/>
<circle cx="814.29" cy="757.28" r="3"/>
<circle cx="812.8" cy="767.25" r="3"/>
<circle cx="812.72" cy="777.22" r="3"/>
<circle cx="811.14" cy="787.19" r="3"/>
<circle cx="810.7" cy="797.16" r="3"/>
<circle cx="808.95" cy="807.13" r="3"/>
<circle cx="721.4" cy="25.1" r="3"/>
<circle cx="721.9" cy="31.1" r="3"/>
<circle cx="722.7" cy="37.7" r="3"/>
<circle cx="723" cy="44.9" r="3"/>
<circle cx="722.3" cy="55.4" r="3"/>
<circle cx="698.6" cy="52.8" r="3"/>
<circle cx="704.5" cy="59.4" r="3"/>
<circle cx="713.8" cy="66" r="3"/>
<circle cx="771.1" cy="66.6" r="3"/>
<circle cx="795.4" cy="64" r="3"/>
<circle cx="831.6" cy="72.2" r="3"/>
<circle cx="836.9" cy="77.8" r="3"/>
<circle cx="842.6" cy="74.3" r="3"/>
<circle cx="856.7" cy="81.8" r="3"/>
<circle cx="867.2" cy="79.8" r="3"/>
<circle cx="881.7" cy="87.4" r="3"/>
<circle cx="882.4" cy="95.6" r="3"/>
<circle cx="873.1" cy="96.3" r="3"/>
<circle cx="875.8" cy="103.5" r="3"/>
<circle cx="883.7" cy="102.2" r="3"/>
</g>
<polyline points="712,28.67 714.3,48.61 795.5,68.55 873.1,88.49 881.7,108.43 883.5,128.37 880.5,148.31 878.5,168.25 873.2,188.19 870.6,208.13 864.6,228.07 862.3,248.01 856.7,267.95 852.8,287.89 850.4,307.83 846.9,327.77 841.3,347.71 838.3,367.65 834.4,387.59 834.1,407.53 834.4,427.47 834.4,447.41 833.7,467.35 835.7,487.29 835.7,507.23 834.4,527.17 833.4,547.11 830.5,567.05 827.5,586.99 825.5,606.93 823.5,626.87 821.3,646.81 820.5,666.75 818.6,686.69 816.3,706.63 812.6,726.57 812.6,746.51 810.5,766.45 807.3,786.39 805,806.33" fill="none" stroke="#0000ff" stroke-width="2.8" stroke-linejoin="round"/>
<polyline points="693.7,18.7 693.9,22.69 694.2,26.68 694.4,30.66 694.9,34.65 695.7,38.64 696.9,42.63 700.3,48.61 711.9,58.58 729,68.55 734.3,78.52 746.1,88.49 764.5,98.46 775.1,108.43 782.5,118.4 788.2,138.34 793.5,158.28 800.8,178.22 808.1,198.16 816.1,218.1 815.6,267.95 779.1,317.8 778.4,417.5 763.5,517.2 734.5,616.9 704.5,716.6 675.3,816.3" fill="none" stroke="#ff0000" stroke-width="6.6" stroke-linejoin="round" stroke-linecap="butt"/>
<polyline points="695.3,18.7 695.5,22.69 695.8,26.68 696,30.66 696.5,34.65 697.3,38.64 698.5,42.63 701.9,48.61 713.8,58.58 730.9,68.55 736.2,78.52 748,88.49 766.4,98.46 777,108.43 784.2,118.4 789.6,138.34 794.8,158.28 802.1,178.22 809.3,198.16 817.2,218.1 816.6,267.95 780.1,317.8 779.4,417.5 764.5,517.2 735.6,616.9 705.6,716.6 676.4,816.3" fill="none" stroke="#ff0000" stroke-width="6.6" stroke-linejoin="round" stroke-linecap="butt"/>
<polyline points="696.9,18.7 697.1,22.69 697.4,26.68 697.6,30.66 698.1,34.65 698.9,38.64 700.1,42.63 703.5,48.61 715.7,58.58 732.8,68.55 738.1,78.52 749.9,88.49 768.3,98.46 778.9,108.43 785.9,118.4 791,138.34 796.1,158.28 803.4,178.22 810.5,198.16 818.3,218.1 817.6,267.95 781.1,317.8 780.4,417.5 765.5,517.2 736.7,616.9 706.7,716.6 677.5,816.3" fill="none" stroke="#ff0000" stroke-width="6.6" stroke-linejoin="round" stroke-linecap="butt"/>
<g>
<circle cx="695.3" cy="18.7" r="6" fill="#ff0000"/>
<circle cx="695.5" cy="22.69" r="6" fill="#ff0000"/>
<circle cx="695.8" cy="26.68" r="6" fill="#ff0000"/>
<circle cx="696" cy="30.66" r="6" fill="#ff0000"/>
<circle cx="696.5" cy="34.65" r="6" fill="#ff0000"/>
<circle cx="697.3" cy="38.64" r="6" fill="#ff0000"/>
<circle cx="698.5" cy="42.63" r="6" fill="#ff0000"/>
<circle cx="701.9" cy="48.61" r="6" fill="#ff0000"/>
<circle cx="713.8" cy="58.58" r="6" fill="#ff0000"/>
<circle cx="730.9" cy="68.55" r="6" fill="#ff0000"/>
<circle cx="736.2" cy="78.52" r="6" fill="#ff0000"/>
<circle cx="748" cy="88.49" r="6" fill="#ff0000"/>
<circle cx="766.4" cy="98.46" r="6" fill="#ff0000"/>
<circle cx="777" cy="108.43" r="6" fill="#ff0000"/>
<circle cx="784.2" cy="118.4" r="6" fill="#ff0000"/>
<circle cx="789.6" cy="138.34" r="6" fill="#ff0000"/>
<circle cx="794.8" cy="158.28" r="6" fill="#ff0000"/>
<circle cx="802.1" cy="178.22" r="6" fill="#ff0000"/>
<circle cx="809.3" cy="198.16" r="6" fill="#ff0000"/>
<circle cx="817.2" cy="218.1" r="6" fill="#ff0000"/>
<circle cx="816.6" cy="267.95" r="6" fill="#ff0000"/>
<circle cx="780.1" cy="317.8" r="6" fill="#ff0000"/>
<circle cx="779.4" cy="417.5" r="6" fill="#ff0000"/>
<circle cx="764.5" cy="517.2" r="6" fill="#ff0000"/>
<circle cx="735.6" cy="616.9" r="6" fill="#ff0000"/>
<circle cx="705.6" cy="716.6" r="6" fill="#ff0000"/>
<circle cx="676.4" cy="816.3" r="6" fill="#ff0000"/>
</g>
<g>
<circle cx="712" cy="28.67" r="6" fill="#0000ff"/>
<circle cx="714.3" cy="48.61" r="6" fill="#0000ff"/>
<circle cx="795.5" cy="68.55" r="6" fill="#0000ff"/>
<circle cx="873.1" cy="88.49" r="6" fill="#0000ff"/>
<circle cx="881.7" cy="108.43" r="6" fill="#0000ff"/>
<circle cx="883.5" cy="128.37" r="6" fill="#0000ff"/>
<circle cx="880.5" cy="148.31" r="6" fill="#0000ff"/>
<circle cx="878.5" cy="168.25" r="6" fill="#0000ff"/>
<circle cx="873.2" cy="188.19" r="6" fill="#0000ff"/>
<circle cx="870.6" cy="208.13" r="6" fill="#0000ff"/>
<circle cx="864.6" cy="228.07" r="6" fill="#0000ff"/>
<circle cx="862.3" cy="248.01" r="6" fill="#0000ff"/>
<circle cx="856.7" cy="267.95" r="6" fill="#0000ff"/>
<circle cx="852.8" cy="287.89" r="6" fill="#0000ff"/>
<circle cx="850.4" cy="307.83" r="6" fill="#0000ff"/>
<circle cx="846.9" cy="327.77" r="6" fill="#0000ff"/>
<circle cx="841.3" cy="347.71" r="6" fill="#0000ff"/>
<circle cx="838.3" cy="367.65" r="6" fill="#0000ff"/>
<circle cx="834.4" cy="387.59" r="6" fill="#0000ff"/>
<circle cx="834.1" cy="407.53" r="6" fill="#0000ff"/>
<circle cx="834.4" cy="427.47" r="6" fill="#0000ff"/>
<circle cx="834.4" cy="447.41" r="6" fill="#0000ff"/>
<circle cx="833.7" cy="467.35" r="6" fill="#0000ff"/>
<circle cx="835.7" cy="487.29" r="6" fill="#0000ff"/>
<circle cx="835.7" cy="507.23" r="6" fill="#0000ff"/>
<circle cx="834.4" cy="527.17" r="6" fill="#0000ff"/>
<circle cx="833.4" cy="547.11" r="6" fill="#0000ff"/>
<circle cx="830.5" cy="567.05" r="6" fill="#0000ff"/>
<circle cx="827.5" cy="586.99" r="6" fill="#0000ff"/>
<circle cx="825.5" cy="606.93" r="6" fill="#0000ff"/>
<circle cx="823.5" cy="626.87" r="6" fill="#0000ff"/>
<circle cx="821.3" cy="646.81" r="6" fill="#0000ff"/>
<circle cx="820.5" cy="666.75" r="6" fill="#0000ff"/>
<circle cx="818.6" cy="686.69" r="6" fill="#0000ff"/>
<circle cx="816.3" cy="706.63" r="6" fill="#0000ff"/>
<circle cx="812.6" cy="726.57" r="6" fill="#0000ff"/>
<circle cx="812.6" cy="746.51" r="6" fill="#0000ff"/>
<circle cx="810.5" cy="766.45" r="6" fill="#0000ff"/>
<circle cx="807.3" cy="786.39" r="6" fill="#0000ff"/>
<circle cx="805" cy="806.33" r="6" fill="#0000ff"/>
</g>
<polyline points="774.5,18.7 775,22.69 775.6,26.68 776.2,30.66 776.9,34.65 777.7,38.64 778.5,42.63 779.5,48.61 780.2,58.58 780.5,68.55 781.3,78.52 785.2,88.49 791.2,98.46 793.5,108.43 797.3,118.4 806.2,138.34 810.2,158.28 813.3,178.22 815.2,198.16 815.2,218.1 810.2,267.95 806.2,317.8 806.2,417.5 806.2,517.2 800.3,616.9 777.5,716.6 754.4,816.3" fill="none" stroke="#b87a10" stroke-width="3.5" stroke-linejoin="round"/>
<polyline points="775.7,18.7 776.2,22.69 776.8,26.68 777.4,30.66 778,34.65 778.7,38.64 779.4,42.63 780.2,48.61 780.7,58.58 780.9,68.55 781.6,78.52 785.5,88.49 791.5,98.46 793.8,108.43 797.6,118.4 806.4,138.34 810.4,158.28 813.5,178.22 815.4,198.16 815.4,218.1 810.4,267.95 806.4,317.8 806.4,417.5 806.4,517.2 800.5,616.9 777.7,716.6 754.6,816.3" fill="none" stroke="#b87a10" stroke-width="3.5" stroke-linejoin="round"/>
<polyline points="776.9,18.7 777.4,22.69 778,26.68 778.6,30.66 779.1,34.65 779.7,38.64 780.3,42.63 780.9,48.61 781.2,58.58 781.3,68.55 781.9,78.52 785.8,88.49 791.8,98.46 794.1,108.43 797.9,118.4 806.6,138.34 810.6,158.28 813.7,178.22 815.6,198.16 815.6,218.1 810.6,267.95 806.6,317.8 806.6,417.5 806.6,517.2 800.7,616.9 777.9,716.6 754.8,816.3" fill="none" stroke="#b87a10" stroke-width="3.5" stroke-linejoin="round"/>
<g>
<circle cx="774.5" cy="18.7" r="6.25" fill="#b87a10"/>
<circle cx="775" cy="22.69" r="6.25" fill="#b87a10"/>
<circle cx="775.6" cy="26.68" r="6.25" fill="#b87a10"/>
<circle cx="776.2" cy="30.66" r="6.25" fill="#b87a10"/>
<circle cx="776.9" cy="34.65" r="6.25" fill="#b87a10"/>
<circle cx="777.7" cy="38.64" r="6.25" fill="#b87a10"/>
<circle cx="778.5" cy="42.63" r="6.25" fill="#b87a10"/>
<circle cx="779.5" cy="48.61" r="6.25" fill="#b87a10"/>
<circle cx="780.2" cy="58.58" r="6.25" fill="#b87a10"/>
<circle cx="780.5" cy="68.55" r="6.25" fill="#b87a10"/>
<circle cx="781.3" cy="78.52" r="6.25" fill="#b87a10"/>
<circle cx="785.2" cy="88.49" r="6.25" fill="#b87a10"/>
<circle cx="791.2" cy="98.46" r="6.25" fill="#b87a10"/>
<circle cx="793.5" cy="108.43" r="6.25" fill="#b87a10"/>
<circle cx="797.3" cy="118.4" r="6.25" fill="#b87a10"/>
<circle cx="806.2" cy="138.34" r="6.25" fill="#b87a10"/>
<circle cx="810.2" cy="158.28" r="6.25" fill="#b87a10"/>
<circle cx="813.3" cy="178.22" r="6.25" fill="#b87a10"/>
<circle cx="815.2" cy="198.16" r="6.25" fill="#b87a10"/>
<circle cx="815.2" cy="218.1" r="6.25" fill="#b87a10"/>
<circle cx="810.2" cy="267.95" r="6.25" fill="#b87a10"/>
<circle cx="806.2" cy="317.8" r="6.25" fill="#b87a10"/>
<circle cx="806.2" cy="417.5" r="6.25" fill="#b87a10"/>
<circle cx="806.2" cy="517.2" r="6.25" fill="#b87a10"/>
<circle cx="800.3" cy="616.9" r="6.25" fill="#b87a10"/>
<circle cx="777.5" cy="716.6" r="6.25" fill="#b87a10"/>
<circle cx="754.4" cy="816.3" r="6.25" fill="#b87a10"/>
<circle cx="775.7" cy="18.7" r="6.25" fill="#b87a10"/>
<circle cx="776.2" cy="22.69" r="6.25" fill="#b87a10"/>
<circle cx="776.8" cy="26.68" r="6.25" fill="#b87a10"/>
<circle cx="777.4" cy="30.66" r="6.25" fill="#b87a10"/>
<circle cx="778" cy="34.65" r="6.25" fill="#b87a10"/>
<circle cx="778.7" cy="38.64" r="6.25" fill="#b87a10"/>
<circle cx="779.4" cy="42.63" r="6.25" fill="#b87a10"/>
<circle cx="780.2" cy="48.61" r="6.25" fill="#b87a10"/>
<circle cx="780.7" cy="58.58" r="6.25" fill="#b87a10"/>
<circle cx="780.9" cy="68.55" r="6.25" fill="#b87a10"/>
<circle cx="781.6" cy="78.52" r="6.25" fill="#b87a10"/>
<circle cx="785.5" cy="88.49" r="6.25" fill="#b87a10"/>
<circle cx="791.5" cy="98.46" r="6.25" fill="#b87a10"/>
<circle cx="793.8" cy="108.43" r="6.25" fill="#b87a10"/>
<circle cx="797.6" cy="118.4" r="6.25" fill="#b87a10"/>
<circle cx="806.4" cy="138.34" r="6.25" fill="#b87a10"/>
<circle cx="810.4" cy="158.28" r="6.25" fill="#b87a10"/>
<circle cx="813.5" cy="178.22" r="6.25" fill="#b87a10"/>
<circle cx="815.4" cy="198.16" r="6.25" fill="#b87a10"/>
<circle cx="815.4" cy="218.1" r="6.25" fill="#b87a10"/>
<circle cx="810.4" cy="267.95" r="6.25" fill="#b87a10"/>
<circle cx="806.4" cy="317.8" r="6.25" fill="#b87a10"/>
<circle cx="806.4" cy="417.5" r="6.25" fill="#b87a10"/>
<circle cx="806.4" cy="517.2" r="6.25" fill="#b87a10"/>
<circle cx="800.5" cy="616.9" r="6.25" fill="#b87a10"/>
<circle cx="777.7" cy="716.6" r="6.25" fill="#b87a10"/>
<circle cx="754.6" cy="816.3" r="6.25" fill="#b87a10"/>
<circle cx="776.9" cy="18.7" r="6.25" fill="#b87a10"/>
<circle cx="777.4" cy="22.69" r="6.25" fill="#b87a10"/>
<circle cx="778" cy="26.68" r="6.25" fill="#b87a10"/>
<circle cx="778.6" cy="30.66" r="6.25" fill="#b87a10"/>
<circle cx="779.1" cy="34.65" r="6.25" fill="#b87a10"/>
<circle cx="779.7" cy="38.64" r="6.25" fill="#b87a10"/>
<circle cx="780.3" cy="42.63" r="6.25" fill="#b87a10"/>
<circle cx="780.9" cy="48.61" r="6.25" fill="#b87a10"/>
<circle cx="781.2" cy="58.58" r="6.25" fill="#b87a10"/>
<circle cx="781.3" cy="68.55" r="6.25" fill="#b87a10"/>
<circle cx="781.9" cy="78.52" r="6.25" fill="#b87a10"/>
<circle cx="785.8" cy="88.49" r="6.25" fill="#b87a10"/>
<circle cx="791.8" cy="98.46" r="6.25" fill="#b87a10"/>
<circle cx="794.1" cy="108.43" r="6.25" fill="#b87a10"/>
<circle cx="797.9" cy="118.4" r="6.25" fill="#b87a10"/>
<circle cx="806.6" cy="138.34" r="6.25" fill="#b87a10"/>
<circle cx="810.6" cy="158.28" r="6.25" fill="#b87a10"/>
<circle cx="813.7" cy="178.22" r="6.25" fill="#b87a10"/>
<circle cx="815.6" cy="198.16" r="6.25" fill="#b87a10"/>
<circle cx="815.6" cy="218.1" r="6.25" fill="#b87a10"/>
<circle cx="810.6" cy="267.95" r="6.25" fill="#b87a10"/>
<circle cx="806.6" cy="317.8" r="6.25" fill="#b87a10"/>
<circle cx="806.6" cy="417.5" r="6.25" fill="#b87a10"/>
<circle cx="806.6" cy="517.2" r="6.25" fill="#b87a10"/>
<circle cx="800.7" cy="616.9" r="6.25" fill="#b87a10"/>
<circle cx="777.9" cy="716.6" r="6.25" fill="#b87a10"/>
<circle cx="754.8" cy="816.3" r="6.25" fill="#b87a10"/>
</g>
<polyline points="774.5,18.7 775,22.69 775.6,26.68 776.2,30.66 776.9,34.65 777.7,38.64 778.5,42.63 779.5,48.61 780.2,58.58 780.5,68.55 781.3,78.52 785.2,88.49 791.2,98.46 793.5,108.43 797.3,118.4 806.2,138.34 810.2,158.28 813.3,178.22 815.2,198.16 815.2,218.1 810.2,267.95 806.2,317.8 806.2,417.5 806.2,517.2 800.3,616.9 777.5,716.6 754.4,816.3" fill="none" stroke="#ffa500" stroke-width="2.3" stroke-linejoin="round"/>
<polyline points="775.7,18.7 776.2,22.69 776.8,26.68 777.4,30.66 778,34.65 778.7,38.64 779.4,42.63 780.2,48.61 780.7,58.58 780.9,68.55 781.6,78.52 785.5,88.49 791.5,98.46 793.8,108.43 797.6,118.4 806.4,138.34 810.4,158.28 813.5,178.22 815.4,198.16 815.4,218.1 810.4,267.95 806.4,317.8 806.4,417.5 806.4,517.2 800.5,616.9 777.7,716.6 754.6,816.3" fill="none" stroke="#ffa500" stroke-width="2.3" stroke-linejoin="round"/>
<polyline points="776.9,18.7 777.4,22.69 778,26.68 778.6,30.66 779.1,34.65 779.7,38.64 780.3,42.63 780.9,48.61 781.2,58.58 781.3,68.55 781.9,78.52 785.8,88.49 791.8,98.46 794.1,108.43 797.9,118.4 806.6,138.34 810.6,158.28 813.7,178.22 815.6,198.16 815.6,218.1 810.6,267.95 806.6,317.8 806.6,417.5 806.6,517.2 800.7,616.9 777.9,716.6 754.8,816.3" fill="none" stroke="#ffa500" stroke-width="2.3" stroke-linejoin="round"/>
<g>
<circle cx="774.5" cy="18.7" r="5.6" fill="#ffa500"/>
<circle cx="775" cy="22.69" r="5.6" fill="#ffa500"/>
<circle cx="775.6" cy="26.68" r="5.6" fill="#ffa500"/>
<circle cx="776.2" cy="30.66" r="5.6" fill="#ffa500"/>
<circle cx="776.9" cy="34.65" r="5.6" fill="#ffa500"/>
<circle cx="777.7" cy="38.64" r="5.6" fill="#ffa500"/>
<circle cx="778.5" cy="42.63" r="5.6" fill="#ffa500"/>
<circle cx="779.5" cy="48.61" r="5.6" fill="#ffa500"/>
<circle cx="780.2" cy="58.58" r="5.6" fill="#ffa500"/>
<circle cx="780.5" cy="68.55" r="5.6" fill="#ffa500"/>
<circle cx="781.3" cy="78.52" r="5.6" fill="#ffa500"/>
<circle cx="785.2" cy="88.49" r="5.6" fill="#ffa500"/>
<circle cx="791.2" cy="98.46" r="5.6" fill="#ffa500"/>
<circle cx="793.5" cy="108.43" r="5.6" fill="#ffa500"/>
<circle cx="797.3" cy="118.4" r="5.6" fill="#ffa500"/>
<circle cx="806.2" cy="138.34" r="5.6" fill="#ffa500"/>
<circle cx="810.2" cy="158.28" r="5.6" fill="#ffa500"/>
<circle cx="813.3" cy="178.22" r="5.6" fill="#ffa500"/>
<circle cx="815.2" cy="198.16" r="5.6" fill="#ffa500"/>
<circle cx="815.2" cy="218.1" r="5.6" fill="#ffa500"/>
<circle cx="810.2" cy="267.95" r="5.6" fill="#ffa500"/>
<circle cx="806.2" cy="317.8" r="5.6" fill="#ffa500"/>
<circle cx="806.2" cy="417.5" r="5.6" fill="#ffa500"/>
<circle cx="806.2" cy="517.2" r="5.6" fill="#ffa500"/>
<circle cx="800.3" cy="616.9" r="5.6" fill="#ffa500"/>
<circle cx="777.5" cy="716.6" r="5.6" fill="#ffa500"/>
<circle cx="754.4" cy="816.3" r="5.6" fill="#ffa500"/>
<circle cx="775.7" cy="18.7" r="5.6" fill="#ffa500"/>
<circle cx="776.2" cy="22.69" r="5.6" fill="#ffa500"/>
<circle cx="776.8" cy="26.68" r="5.6" fill="#ffa500"/>
<circle cx="777.4" cy="30.66" r="5.6" fill="#ffa500"/>
<circle cx="778" cy="34.65" r="5.6" fill="#ffa500"/>
<circle cx="778.7" cy="38.64" r="5.6" fill="#ffa500"/>
<circle cx="779.4" cy="42.63" r="5.6" fill="#ffa500"/>
<circle cx="780.2" cy="48.61" r="5.6" fill="#ffa500"/>
<circle cx="780.7" cy="58.58" r="5.6" fill="#ffa500"/>
<circle cx="780.9" cy="68.55" r="5.6" fill="#ffa500"/>
<circle cx="781.6" cy="78.52" r="5.6" fill="#ffa500"/>
<circle cx="785.5" cy="88.49" r="5.6" fill="#ffa500"/>
<circle cx="791.5" cy="98.46" r="5.6" fill="#ffa500"/>
<circle cx="793.8" cy="108.43" r="5.6" fill="#ffa500"/>
<circle cx="797.6" cy="118.4" r="5.6" fill="#ffa500"/>
<circle cx="806.4" cy="138.34" r="5.6" fill="#ffa500"/>
<circle cx="810.4" cy="158.28" r="5.6" fill="#ffa500"/>
<circle cx="813.5" cy="178.22" r="5.6" fill="#ffa500"/>
<circle cx="815.4" cy="198.16" r="5.6" fill="#ffa500"/>
<circle cx="815.4" cy="218.1" r="5.6" fill="#ffa500"/>
<circle cx="810.4" cy="267.95" r="5.6" fill="#ffa500"/>
<circle cx="806.4" cy="317.8" r="5.6" fill="#ffa500"/>
<circle cx="806.4" cy="417.5" r="5.6" fill="#ffa500"/>
<circle cx="806.4" cy="517.2" r="5.6" fill="#ffa500"/>
<circle cx="800.5" cy="616.9" r="5.6" fill="#ffa500"/>
<circle cx="777.7" cy="716.6" r="5.6" fill="#ffa500"/>
<circle cx="754.6" cy="816.3" r="5.6" fill="#ffa500"/>
<circle cx="776.9" cy="18.7" r="5.6" fill="#ffa500"/>
<circle cx="777.4" cy="22.69" r="5.6" fill="#ffa500"/>
<circle cx="778" cy="26.68" r="5.6" fill="#ffa500"/>
<circle cx="778.6" cy="30.66" r="5.6" fill="#ffa500"/>
<circle cx="779.1" cy="34.65" r="5.6" fill="#ffa500"/>
<circle cx="779.7" cy="38.64" r="5.6" fill="#ffa500"/>
<circle cx="780.3" cy="42.63" r="5.6" fill="#ffa500"/>
<circle cx="780.9" cy="48.61" r="5.6" fill="#ffa500"/>
<circle cx="781.2" cy="58.58" r="5.6" fill="#ffa500"/>
<circle cx="781.3" cy="68.55" r="5.6" fill="#ffa500"/>
<circle cx="781.9" cy="78.52" r="5.6" fill="#ffa500"/>
<circle cx="785.8" cy="88.49" r="5.6" fill="#ffa500"/>
<circle cx="791.8" cy="98.46" r="5.6" fill="#ffa500"/>
<circle cx="794.1" cy="108.43" r="5.6" fill="#ffa500"/>
<circle cx="797.9" cy="118.4" r="5.6" fill="#ffa500"/>
<circle cx="806.6" cy="138.34" r="5.6" fill="#ffa500"/>
<circle cx="810.6" cy="158.28" r="5.6" fill="#ffa500"/>
<circle cx="813.7" cy="178.22" r="5.6" fill="#ffa500"/>
<circle cx="815.6" cy="198.16" r="5.6" fill="#ffa500"/>
<circle cx="815.6" cy="218.1" r="5.6" fill="#ffa500"/>
<circle cx="810.6" cy="267.95" r="5.6" fill="#ffa500"/>
<circle cx="806.6" cy="317.8" r="5.6" fill="#ffa500"/>
<circle cx="806.6" cy="417.5" r="5.6" fill="#ffa500"/>
<circle cx="806.6" cy="517.2" r="5.6" fill="#ffa500"/>
<circle cx="800.7" cy="616.9" r="5.6" fill="#ffa500"/>
<circle cx="777.9" cy="716.6" r="5.6" fill="#ffa500"/>
<circle cx="754.8" cy="816.3" r="5.6" fill="#ffa500"/>
</g>
<polyline points="709.2,19.68 709.3,21.77 709.4,23.98 709.6,26.32 709.8,28.83 710.2,31.54 710.8,34.51 711.5,37.78 712.3,41.43 713.3,45.56 714.4,50.23 756.6,55.59 781.6,61.77 795.4,68.97 812.5,77.4 831,87.35 843.5,99.14 850.5,113.16 855.4,129.89 856.3,149.93 857.8,173.93 858.3,202.81 858.7,237.5 855.4,279.26 852.8,329.46 850.6,389.84 850.6,462.33 849.2,549.18 847.5,653.05 837.6,776.84" fill="none" stroke="#ff00ff" stroke-width="2.7" stroke-linejoin="round"/>
<g>
<circle cx="709.2" cy="19.68" r="6" fill="#ff00ff"/>
<circle cx="709.3" cy="21.77" r="6" fill="#ff00ff"/>
<circle cx="709.4" cy="23.98" r="6" fill="#ff00ff"/>
<circle cx="709.6" cy="26.32" r="6" fill="#ff00ff"/>
<circle cx="709.8" cy="28.83" r="6" fill="#ff00ff"/>
<circle cx="710.2" cy="31.54" r="6" fill="#ff00ff"/>
<circle cx="710.8" cy="34.51" r="6" fill="#ff00ff"/>
<circle cx="711.5" cy="37.78" r="6" fill="#ff00ff"/>
<circle cx="712.3" cy="41.43" r="6" fill="#ff00ff"/>
<circle cx="713.3" cy="45.56" r="6" fill="#ff00ff"/>
<circle cx="714.4" cy="50.23" r="6" fill="#ff00ff"/>
<circle cx="756.6" cy="55.59" r="6" fill="#ff00ff"/>
<circle cx="781.6" cy="61.77" r="6" fill="#ff00ff"/>
<circle cx="795.4" cy="68.97" r="6" fill="#ff00ff"/>
<circle cx="812.5" cy="77.4" r="6" fill="#ff00ff"/>
<circle cx="831" cy="87.35" r="6" fill="#ff00ff"/>
<circle cx="843.5" cy="99.14" r="6" fill="#ff00ff"/>
<circle cx="850.5" cy="113.16" r="6" fill="#ff00ff"/>
<circle cx="855.4" cy="129.89" r="6" fill="#ff00ff"/>
<circle cx="856.3" cy="149.93" r="6" fill="#ff00ff"/>
<circle cx="857.8" cy="173.93" r="6" fill="#ff00ff"/>
<circle cx="858.3" cy="202.81" r="6" fill="#ff00ff"/>
<circle cx="858.7" cy="237.5" r="6" fill="#ff00ff"/>
<circle cx="855.4" cy="279.26" r="6" fill="#ff00ff"/>
<circle cx="852.8" cy="329.46" r="6" fill="#ff00ff"/>
<circle cx="850.6" cy="389.84" r="6" fill="#ff00ff"/>
<circle cx="850.6" cy="462.33" r="6" fill="#ff00ff"/>
<circle cx="849.2" cy="549.18" r="6" fill="#ff00ff"/>
<circle cx="847.5" cy="653.05" r="6" fill="#ff00ff"/>
<circle cx="837.6" cy="776.84" r="6" fill="#ff00ff"/>
</g>
</g>
<g stroke="#000" stroke-width="1.1" fill="none">
<line x1="649.5" y1="814.45" x2="649.5" y2="821.05"/>
<line x1="725.5" y1="814.45" x2="725.5" y2="821.05"/>
<line x1="802.5" y1="814.45" x2="802.5" y2="821.05"/>
<line x1="879.5" y1="814.45" x2="879.5" y2="821.05"/>
<line x1="956.5" y1="814.45" x2="956.5" y2="821.05"/>
<line x1="574.3" y1="19.25" x2="580.9" y2="19.25"/>
<line x1="574.3" y1="68.5" x2="580.9" y2="68.5"/>
<line x1="574.3" y1="118.5" x2="580.9" y2="118.5"/>
<line x1="574.3" y1="168.5" x2="580.9" y2="168.5"/>
<line x1="574.3" y1="218.5" x2="580.9" y2="218.5"/>
<line x1="574.3" y1="268.5" x2="580.9" y2="268.5"/>
<line x1="574.3" y1="318.5" x2="580.9" y2="318.5"/>
<line x1="574.3" y1="367.5" x2="580.9" y2="367.5"/>
<line x1="574.3" y1="417.5" x2="580.9" y2="417.5"/>
<line x1="574.3" y1="467.5" x2="580.9" y2="467.5"/>
<line x1="574.3" y1="517.5" x2="580.9" y2="517.5"/>
<line x1="574.3" y1="567.5" x2="580.9" y2="567.5"/>
<line x1="574.3" y1="617.5" x2="580.9" y2="617.5"/>
<line x1="574.3" y1="666.5" x2="580.9" y2="666.5"/>
<line x1="574.3" y1="716.5" x2="580.9" y2="716.5"/>
<line x1="574.3" y1="766.5" x2="580.9" y2="766.5"/>
</g>
<rect x="580.9" y="19.25" width="401.6" height="795.2" fill="none" stroke="#000" stroke-width="1.4"/>
<g font-family="'DejaVu Sans','Liberation Sans',sans-serif" font-size="16.67" fill="#000">
<text transform="translate(648.7,841.9) scale(1,1.05)" text-anchor="middle">36.2</text>
<text transform="translate(724.7,841.9) scale(1,1.05)" text-anchor="middle">36.4</text>
<text transform="translate(801.7,841.9) scale(1,1.05)" text-anchor="middle">36.6</text>
<text transform="translate(878.7,841.9) scale(1,1.05)" text-anchor="middle">36.8</text>
<text transform="translate(955.7,841.9) scale(1,1.05)" text-anchor="middle">37.0</text>
</g>
<clipPath id="clip3"><rect x="1072.5" y="19.25" width="402" height="795.2"/></clipPath>
<g stroke="#b0b0b0" stroke-width="0.9" stroke-dasharray="3.05 1.55" fill="none">
<line x1="1131.5" y1="19.25" x2="1131.5" y2="814.45"/>
<line x1="1201.5" y1="19.25" x2="1201.5" y2="814.45"/>
<line x1="1270.5" y1="19.25" x2="1270.5" y2="814.45"/>
<line x1="1340.5" y1="19.25" x2="1340.5" y2="814.45"/>
<line x1="1410.4" y1="19.25" x2="1410.4" y2="814.45"/>
<line x1="1072.5" y1="68.5" x2="1474.5" y2="68.5"/>
<line x1="1072.5" y1="118.5" x2="1474.5" y2="118.5"/>
<line x1="1072.5" y1="168.5" x2="1474.5" y2="168.5"/>
<line x1="1072.5" y1="218.5" x2="1474.5" y2="218.5"/>
<line x1="1072.5" y1="268.5" x2="1474.5" y2="268.5"/>
<line x1="1072.5" y1="318.5" x2="1474.5" y2="318.5"/>
<line x1="1072.5" y1="367.5" x2="1474.5" y2="367.5"/>
<line x1="1072.5" y1="417.5" x2="1474.5" y2="417.5"/>
<line x1="1072.5" y1="467.5" x2="1474.5" y2="467.5"/>
<line x1="1072.5" y1="517.5" x2="1474.5" y2="517.5"/>
<line x1="1072.5" y1="567.5" x2="1474.5" y2="567.5"/>
<line x1="1072.5" y1="617.5" x2="1474.5" y2="617.5"/>
<line x1="1072.5" y1="666.5" x2="1474.5" y2="666.5"/>
<line x1="1072.5" y1="716.5" x2="1474.5" y2="716.5"/>
<line x1="1072.5" y1="766.5" x2="1474.5" y2="766.5"/>
</g>
<g clip-path="url(#clip3)">
<g fill="#00ffff">
<circle cx="1232.69" cy="102.45" r="3"/>
<circle cx="1240.83" cy="112.42" r="3"/>
<circle cx="1248.02" cy="122.39" r="3"/>
<circle cx="1253.14" cy="132.36" r="3"/>
<circle cx="1259.21" cy="142.33" r="3"/>
<circle cx="1264.86" cy="152.3" r="3"/>
<circle cx="1271" cy="162.27" r="3"/>
<circle cx="1277.93" cy="172.24" r="3"/>
<circle cx="1282.46" cy="182.21" r="3"/>
<circle cx="1289.01" cy="192.18" r="3"/>
<circle cx="1293.7" cy="202.15" r="3"/>
<circle cx="1298.63" cy="212.12" r="3"/>
<circle cx="1302.73" cy="222.09" r="3"/>
<circle cx="1306.71" cy="232.06" r="3"/>
<circle cx="1308.81" cy="242.03" r="3"/>
<circle cx="1310.06" cy="252" r="3"/>
<circle cx="1313.01" cy="261.97" r="3"/>
<circle cx="1315.83" cy="271.94" r="3"/>
<circle cx="1320.98" cy="281.91" r="3"/>
<circle cx="1324.2" cy="291.88" r="3"/>
<circle cx="1326.74" cy="301.85" r="3"/>
<circle cx="1328.93" cy="311.82" r="3"/>
<circle cx="1330.63" cy="321.79" r="3"/>
<circle cx="1332.64" cy="331.76" r="3"/>
<circle cx="1333.95" cy="341.73" r="3"/>
<circle cx="1334.69" cy="351.7" r="3"/>
<circle cx="1337.85" cy="361.67" r="3"/>
<circle cx="1339.56" cy="371.64" r="3"/>
<circle cx="1342.85" cy="381.61" r="3"/>
<circle cx="1344.62" cy="391.58" r="3"/>
<circle cx="1345.66" cy="401.55" r="3"/>
<circle cx="1346.6" cy="411.52" r="3"/>
<circle cx="1347.88" cy="421.49" r="3"/>
<circle cx="1349.11" cy="431.46" r="3"/>
<circle cx="1350.7" cy="441.43" r="3"/>
<circle cx="1354.52" cy="451.4" r="3"/>
<circle cx="1357.1" cy="461.37" r="3"/>
<circle cx="1360.06" cy="471.34" r="3"/>
<circle cx="1361.76" cy="481.31" r="3"/>
<circle cx="1363.26" cy="491.28" r="3"/>
<circle cx="1364.96" cy="501.25" r="3"/>
<circle cx="1365.19" cy="511.22" r="3"/>
<circle cx="1368.22" cy="521.19" r="3"/>
<circle cx="1369.9" cy="531.16" r="3"/>
<circle cx="1371.5" cy="541.13" r="3"/>
<circle cx="1373.92" cy="551.1" r="3"/>
<circle cx="1376.91" cy="561.07" r="3"/>
<circle cx="1378.48" cy="571.04" r="3"/>
<circle cx="1380.86" cy="581.01" r="3"/>
<circle cx="1382.53" cy="590.98" r="3"/>
<circle cx="1383.04" cy="600.95" r="3"/>
<circle cx="1383.69" cy="610.92" r="3"/>
<circle cx="1385.95" cy="620.89" r="3"/>
<circle cx="1387.47" cy="630.86" r="3"/>
<circle cx="1389.85" cy="640.83" r="3"/>
<circle cx="1391.84" cy="650.8" r="3"/>
<circle cx="1393.79" cy="660.77" r="3"/>
<circle cx="1394.29" cy="670.74" r="3"/>
<circle cx="1396.19" cy="680.71" r="3"/>
<circle cx="1397.54" cy="690.68" r="3"/>
<circle cx="1397.36" cy="700.65" r="3"/>
<circle cx="1399.59" cy="710.62" r="3"/>
<circle cx="1402.14" cy="720.59" r="3"/>
<circle cx="1402.66" cy="730.56" r="3"/>
<circle cx="1405.14" cy="740.53" r="3"/>
<circle cx="1408.24" cy="750.5" r="3"/>
<circle cx="1409.56" cy="760.47" r="3"/>
<circle cx="1410" cy="770.44" r="3"/>
<circle cx="1409.57" cy="780.41" r="3"/>
<circle cx="1411.54" cy="790.38" r="3"/>
<circle cx="1415.07" cy="800.35" r="3"/>
<circle cx="1417.18" cy="810.32" r="3"/>
<circle cx="1237.52" cy="105.84" r="3"/>
<circle cx="1245.84" cy="115.81" r="3"/>
<circle cx="1250.96" cy="125.78" r="3"/>
<circle cx="1257.32" cy="135.75" r="3"/>
<circle cx="1261.79" cy="145.72" r="3"/>
<circle cx="1269.43" cy="155.69" r="3"/>
<circle cx="1275.15" cy="165.66" r="3"/>
<circle cx="1281.43" cy="175.63" r="3"/>
<circle cx="1286.34" cy="185.6" r="3"/>
<circle cx="1292.32" cy="195.57" r="3"/>
<circle cx="1296.85" cy="205.54" r="3"/>
<circle cx="1300.44" cy="215.51" r="3"/>
<circle cx="1303.12" cy="225.48" r="3"/>
<circle cx="1306.58" cy="235.45" r="3"/>
<circle cx="1308.71" cy="245.42" r="3"/>
<circle cx="1311.54" cy="255.39" r="3"/>
<circle cx="1314.41" cy="265.36" r="3"/>
<circle cx="1319.14" cy="275.33" r="3"/>
<circle cx="1321.63" cy="285.3" r="3"/>
<circle cx="1324.48" cy="295.27" r="3"/>
<circle cx="1326.16" cy="305.24" r="3"/>
<circle cx="1329.24" cy="315.21" r="3"/>
<circle cx="1331.12" cy="325.18" r="3"/>
<circle cx="1333.3" cy="335.15" r="3"/>
<circle cx="1334.82" cy="345.12" r="3"/>
<circle cx="1338.09" cy="355.09" r="3"/>
<circle cx="1340.22" cy="365.06" r="3"/>
<circle cx="1342.18" cy="375.03" r="3"/>
<circle cx="1344.16" cy="385" r="3"/>
<circle cx="1347.38" cy="394.97" r="3"/>
<circle cx="1346.52" cy="404.94" r="3"/>
<circle cx="1348.04" cy="414.91" r="3"/>
<circle cx="1349.57" cy="424.88" r="3"/>
<circle cx="1352.31" cy="434.85" r="3"/>
<circle cx="1353.64" cy="444.82" r="3"/>
<circle cx="1356.75" cy="454.79" r="3"/>
<circle cx="1358.59" cy="464.76" r="3"/>
<circle cx="1361.22" cy="474.73" r="3"/>
<circle cx="1361" cy="484.7" r="3"/>
<circle cx="1362.82" cy="494.67" r="3"/>
<circle cx="1364.5" cy="504.64" r="3"/>
<circle cx="1367.5" cy="514.61" r="3"/>
<circle cx="1369.19" cy="524.58" r="3"/>
<circle cx="1371.48" cy="534.55" r="3"/>
<circle cx="1374.01" cy="544.52" r="3"/>
<circle cx="1375.31" cy="554.49" r="3"/>
<circle cx="1376.49" cy="564.46" r="3"/>
<circle cx="1379.23" cy="574.43" r="3"/>
<circle cx="1381.96" cy="584.4" r="3"/>
<circle cx="1383.21" cy="594.37" r="3"/>
<circle cx="1384.04" cy="604.34" r="3"/>
<circle cx="1386.96" cy="614.31" r="3"/>
<circle cx="1389.42" cy="624.28" r="3"/>
<circle cx="1390.54" cy="634.25" r="3"/>
<circle cx="1393.19" cy="644.22" r="3"/>
<circle cx="1394.19" cy="654.19" r="3"/>
<circle cx="1395.12" cy="664.16" r="3"/>
<circle cx="1396.14" cy="674.13" r="3"/>
<circle cx="1397.13" cy="684.1" r="3"/>
<circle cx="1398.73" cy="694.07" r="3"/>
<circle cx="1399.66" cy="704.04" r="3"/>
<circle cx="1402.27" cy="714.01" r="3"/>
<circle cx="1403.42" cy="723.98" r="3"/>
<circle cx="1406.4" cy="733.95" r="3"/>
<circle cx="1407.46" cy="743.92" r="3"/>
<circle cx="1407.24" cy="753.89" r="3"/>
<circle cx="1409.84" cy="763.86" r="3"/>
<circle cx="1409.49" cy="773.83" r="3"/>
<circle cx="1411.16" cy="783.8" r="3"/>
<circle cx="1413.64" cy="793.77" r="3"/>
<circle cx="1415.9" cy="803.74" r="3"/>
<circle cx="1416.85" cy="813.71" r="3"/>
<circle cx="1241.29" cy="109.23" r="3"/>
<circle cx="1248.6" cy="119.2" r="3"/>
<circle cx="1252.82" cy="129.17" r="3"/>
<circle cx="1260.04" cy="139.14" r="3"/>
<circle cx="1265.04" cy="149.11" r="3"/>
<circle cx="1271.91" cy="159.08" r="3"/>
<circle cx="1278.93" cy="169.05" r="3"/>
<circle cx="1283.97" cy="179.02" r="3"/>
<circle cx="1289.54" cy="188.99" r="3"/>
<circle cx="1294.18" cy="198.96" r="3"/>
<circle cx="1298.19" cy="208.93" r="3"/>
<circle cx="1302.11" cy="218.9" r="3"/>
<circle cx="1305.65" cy="228.87" r="3"/>
<circle cx="1306.92" cy="238.84" r="3"/>
<circle cx="1311.44" cy="248.81" r="3"/>
<circle cx="1313.82" cy="258.78" r="3"/>
<circle cx="1318.28" cy="268.75" r="3"/>
<circle cx="1320.65" cy="278.72" r="3"/>
<circle cx="1324.63" cy="288.69" r="3"/>
<circle cx="1325.81" cy="298.66" r="3"/>
<circle cx="1326.86" cy="308.63" r="3"/>
<circle cx="1329.01" cy="318.6" r="3"/>
<circle cx="1332.26" cy="328.57" r="3"/>
<circle cx="1336.37" cy="338.54" r="3"/>
<circle cx="1337.82" cy="348.51" r="3"/>
<circle cx="1340.71" cy="358.48" r="3"/>
<circle cx="1342.31" cy="368.45" r="3"/>
<circle cx="1344.2" cy="378.42" r="3"/>
<circle cx="1346.73" cy="388.39" r="3"/>
<circle cx="1346.59" cy="398.36" r="3"/>
<circle cx="1348.96" cy="408.33" r="3"/>
<circle cx="1350.78" cy="418.3" r="3"/>
<circle cx="1353.55" cy="428.27" r="3"/>
<circle cx="1355.04" cy="438.24" r="3"/>
<circle cx="1357.92" cy="448.21" r="3"/>
<circle cx="1358.59" cy="458.18" r="3"/>
<circle cx="1360.16" cy="468.15" r="3"/>
<circle cx="1361.5" cy="478.12" r="3"/>
<circle cx="1363.37" cy="488.09" r="3"/>
<circle cx="1365.05" cy="498.06" r="3"/>
<circle cx="1365.56" cy="508.03" r="3"/>
<circle cx="1368.28" cy="518" r="3"/>
<circle cx="1371.72" cy="527.97" r="3"/>
<circle cx="1374.11" cy="537.94" r="3"/>
<circle cx="1375.01" cy="547.91" r="3"/>
<circle cx="1376" cy="557.88" r="3"/>
<circle cx="1378.74" cy="567.85" r="3"/>
<circle cx="1379.54" cy="577.82" r="3"/>
<circle cx="1381.58" cy="587.79" r="3"/>
<circle cx="1383.66" cy="597.76" r="3"/>
<circle cx="1385.94" cy="607.73" r="3"/>
<circle cx="1389.46" cy="617.7" r="3"/>
<circle cx="1389.98" cy="627.67" r="3"/>
<circle cx="1392.97" cy="637.64" r="3"/>
<circle cx="1394.65" cy="647.61" r="3"/>
<circle cx="1396.17" cy="657.58" r="3"/>
<circle cx="1397.23" cy="667.55" r="3"/>
<circle cx="1398" cy="677.52" r="3"/>
<circle cx="1400.25" cy="687.49" r="3"/>
<circle cx="1402.33" cy="697.46" r="3"/>
<circle cx="1403.6" cy="707.43" r="3"/>
<circle cx="1404.2" cy="717.4" r="3"/>
<circle cx="1406.19" cy="727.37" r="3"/>
<circle cx="1406.02" cy="737.34" r="3"/>
<circle cx="1407.6" cy="747.31" r="3"/>
<circle cx="1410.2" cy="757.28" r="3"/>
<circle cx="1410.79" cy="767.25" r="3"/>
<circle cx="1411.61" cy="777.22" r="3"/>
<circle cx="1414.11" cy="787.19" r="3"/>
<circle cx="1415.87" cy="797.16" r="3"/>
<circle cx="1416.89" cy="807.13" r="3"/>
<circle cx="1116.6" cy="58.7" r="3"/>
<circle cx="1117.3" cy="66" r="3"/>
<circle cx="1168.7" cy="64" r="3"/>
<circle cx="1152.2" cy="67.3" r="3"/>
<circle cx="1194.4" cy="71.9" r="3"/>
<circle cx="1195" cy="76.5" r="3"/>
<circle cx="1214.1" cy="79.8" r="3"/>
<circle cx="1206.2" cy="81.8" r="3"/>
<circle cx="1224" cy="96.3" r="3"/>
<circle cx="1231.2" cy="94.3" r="3"/>
<circle cx="1231.2" cy="103.5" r="3"/>
<circle cx="1241.8" cy="112.7" r="3"/>
<circle cx="1239.1" cy="102.2" r="3"/>
<circle cx="1245.7" cy="120.6" r="3"/>
<circle cx="1254.9" cy="122" r="3"/>
<circle cx="1257.6" cy="131.2" r="3"/>
</g>
<polyline points="1108.8,28.67 1112,48.61 1158.8,68.55 1222,88.49 1239.1,108.43 1252.4,128.37 1265.4,148.31 1278.5,168.25 1289.3,188.19 1298.3,208.13 1305.5,228.07 1311.3,248.01 1315.9,267.95 1321.8,287.89 1326.2,307.83 1331.1,327.77 1335.6,347.71 1339.3,367.65 1344.3,387.59 1347.9,407.53 1351.8,427.47 1355.8,447.41 1359.7,467.35 1363.7,487.29 1367,507.23 1370.9,527.17 1373.6,547.11 1377,567.05 1381.5,586.99 1384.5,606.93 1387.4,626.87 1391.4,646.81 1395.3,666.75 1398.6,686.69 1401.2,706.63 1404.5,726.57 1408.5,746.51 1411.8,766.45 1413.3,786.39 1417.2,806.33" fill="none" stroke="#0000ff" stroke-width="2.8" stroke-linejoin="round"/>
<polyline points="1112,18.7 1112.3,22.69 1112.7,26.68 1113.2,30.66 1113.7,34.65 1114.3,38.64 1114.9,42.63 1115.8,48.61 1120.9,58.58 1127.3,68.55 1133.2,78.52 1143.1,88.49 1156.9,98.46 1168.1,108.43 1180.2,118.4 1204.7,138.34 1227.6,158.28 1243.4,178.22 1258.1,198.16 1272.4,218.1 1302.9,267.95 1334.2,317.8 1354.6,417.5 1373.1,517.2 1395.8,616.9 1416.9,716.6 1436.4,816.3" fill="none" stroke="#ff0000" stroke-width="6.6" stroke-linejoin="round" stroke-linecap="butt"/>
<polyline points="1112.6,18.7 1112.9,22.69 1113.3,26.68 1113.8,30.66 1114.3,34.65 1114.9,38.64 1115.5,42.63 1116.4,48.61 1121.9,58.58 1128.5,68.55 1134.4,78.52 1144.3,88.49 1158.1,98.46 1169.3,108.43 1181.2,118.4 1205.4,138.34 1228.5,158.28 1245,178.22 1260.1,198.16 1274.6,218.1 1304.7,267.95 1334.4,317.8 1355.1,417.5 1374.2,517.2 1397.3,616.9 1418.4,716.6 1437.9,816.3" fill="none" stroke="#ff0000" stroke-width="6.6" stroke-linejoin="round" stroke-linecap="butt"/>
<polyline points="1113.2,18.7 1113.5,22.69 1113.9,26.68 1114.4,30.66 1114.9,34.65 1115.5,38.64 1116.1,42.63 1117,48.61 1122.9,58.58 1129.7,68.55 1135.6,78.52 1145.5,88.49 1159.3,98.46 1170.5,108.43 1182.2,118.4 1206.1,138.34 1229.4,158.28 1246.6,178.22 1262.1,198.16 1276.8,218.1 1306.5,267.95 1334.6,317.8 1355.6,417.5 1375.3,517.2 1398.8,616.9 1419.9,716.6 1439.4,816.3" fill="none" stroke="#ff0000" stroke-width="6.6" stroke-linejoin="round" stroke-linecap="butt"/>
<g>
<circle cx="1112.6" cy="18.7" r="6" fill="#ff0000"/>
<circle cx="1112.9" cy="22.69" r="6" fill="#ff0000"/>
<circle cx="1113.3" cy="26.68" r="6" fill="#ff0000"/>
<circle cx="1113.8" cy="30.66" r="6" fill="#ff0000"/>
<circle cx="1114.3" cy="34.65" r="6" fill="#ff0000"/>
<circle cx="1114.9" cy="38.64" r="6" fill="#ff0000"/>
<circle cx="1115.5" cy="42.63" r="6" fill="#ff0000"/>
<circle cx="1116.4" cy="48.61" r="6" fill="#ff0000"/>
<circle cx="1121.9" cy="58.58" r="6" fill="#ff0000"/>
<circle cx="1128.5" cy="68.55" r="6" fill="#ff0000"/>
<circle cx="1134.4" cy="78.52" r="6" fill="#ff0000"/>
<circle cx="1144.3" cy="88.49" r="6" fill="#ff0000"/>
<circle cx="1158.1" cy="98.46" r="6" fill="#ff0000"/>
<circle cx="1169.3" cy="108.43" r="6" fill="#ff0000"/>
<circle cx="1181.2" cy="118.4" r="6" fill="#ff0000"/>
<circle cx="1205.4" cy="138.34" r="6" fill="#ff0000"/>
<circle cx="1228.5" cy="158.28" r="6" fill="#ff0000"/>
<circle cx="1245" cy="178.22" r="6" fill="#ff0000"/>
<circle cx="1260.1" cy="198.16" r="6" fill="#ff0000"/>
<circle cx="1274.6" cy="218.1" r="6" fill="#ff0000"/>
<circle cx="1304.7" cy="267.95" r="6" fill="#ff0000"/>
<circle cx="1334.4" cy="317.8" r="6" fill="#ff0000"/>
<circle cx="1355.1" cy="417.5" r="6" fill="#ff0000"/>
<circle cx="1374.2" cy="517.2" r="6" fill="#ff0000"/>
<circle cx="1397.3" cy="616.9" r="6" fill="#ff0000"/>
<circle cx="1418.4" cy="716.6" r="6" fill="#ff0000"/>
<circle cx="1437.9" cy="816.3" r="6" fill="#ff0000"/>
</g>
<g>
<circle cx="1108.8" cy="28.67" r="6" fill="#0000ff"/>
<circle cx="1112" cy="48.61" r="6" fill="#0000ff"/>
<circle cx="1158.8" cy="68.55" r="6" fill="#0000ff"/>
<circle cx="1222" cy="88.49" r="6" fill="#0000ff"/>
<circle cx="1239.1" cy="108.43" r="6" fill="#0000ff"/>
<circle cx="1252.4" cy="128.37" r="6" fill="#0000ff"/>
<circle cx="1265.4" cy="148.31" r="6" fill="#0000ff"/>
<circle cx="1278.5" cy="168.25" r="6" fill="#0000ff"/>
<circle cx="1289.3" cy="188.19" r="6" fill="#0000ff"/>
<circle cx="1298.3" cy="208.13" r="6" fill="#0000ff"/>
<circle cx="1305.5" cy="228.07" r="6" fill="#0000ff"/>
<circle cx="1311.3" cy="248.01" r="6" fill="#0000ff"/>
<circle cx="1315.9" cy="267.95" r="6" fill="#0000ff"/>
<circle cx="1321.8" cy="287.89" r="6" fill="#0000ff"/>
<circle cx="1326.2" cy="307.83" r="6" fill="#0000ff"/>
<circle cx="1331.1" cy="327.77" r="6" fill="#0000ff"/>
<circle cx="1335.6" cy="347.71" r="6" fill="#0000ff"/>
<circle cx="1339.3" cy="367.65" r="6" fill="#0000ff"/>
<circle cx="1344.3" cy="387.59" r="6" fill="#0000ff"/>
<circle cx="1347.9" cy="407.53" r="6" fill="#0000ff"/>
<circle cx="1351.8" cy="427.47" r="6" fill="#0000ff"/>
<circle cx="1355.8" cy="447.41" r="6" fill="#0000ff"/>
<circle cx="1359.7" cy="467.35" r="6" fill="#0000ff"/>
<circle cx="1363.7" cy="487.29" r="6" fill="#0000ff"/>
<circle cx="1367" cy="507.23" r="6" fill="#0000ff"/>
<circle cx="1370.9" cy="527.17" r="6" fill="#0000ff"/>
<circle cx="1373.6" cy="547.11" r="6" fill="#0000ff"/>
<circle cx="1377" cy="567.05" r="6" fill="#0000ff"/>
<circle cx="1381.5" cy="586.99" r="6" fill="#0000ff"/>
<circle cx="1384.5" cy="606.93" r="6" fill="#0000ff"/>
<circle cx="1387.4" cy="626.87" r="6" fill="#0000ff"/>
<circle cx="1391.4" cy="646.81" r="6" fill="#0000ff"/>
<circle cx="1395.3" cy="666.75" r="6" fill="#0000ff"/>
<circle cx="1398.6" cy="686.69" r="6" fill="#0000ff"/>
<circle cx="1401.2" cy="706.63" r="6" fill="#0000ff"/>
<circle cx="1404.5" cy="726.57" r="6" fill="#0000ff"/>
<circle cx="1408.5" cy="746.51" r="6" fill="#0000ff"/>
<circle cx="1411.8" cy="766.45" r="6" fill="#0000ff"/>
<circle cx="1413.3" cy="786.39" r="6" fill="#0000ff"/>
<circle cx="1417.2" cy="806.33" r="6" fill="#0000ff"/>
</g>
<polyline points="1126.3,18.7 1126.7,22.69 1127.2,26.68 1127.8,30.66 1128.4,34.65 1129.2,38.64 1130.2,42.63 1131.8,48.61 1133.8,58.58 1135.1,68.55 1141.7,78.52 1150.6,88.49 1163.8,98.46 1174.6,108.43 1186.4,118.4 1209,138.34 1232.4,158.28 1254.6,178.22 1272.2,198.16 1288.4,218.1 1319.9,267.95 1339,317.8 1354.5,417.5 1370.3,517.2 1387.4,616.9 1407.2,716.6 1425.9,816.3" fill="none" stroke="#b87a10" stroke-width="3.5" stroke-linejoin="round"/>
<polyline points="1126.3,18.7 1126.7,22.69 1127.2,26.68 1127.8,30.66 1128.4,34.65 1129.2,38.64 1130.2,42.63 1131.8,48.61 1133.8,58.58 1135.1,68.55 1141.7,78.52 1150.6,88.49 1163.8,98.46 1174.6,108.43 1186.4,118.4 1209,138.34 1232.4,158.28 1254.6,178.22 1272.2,198.16 1288.4,218.1 1319.9,267.95 1339,317.8 1354.5,417.5 1370.3,517.2 1387.4,616.9 1407.2,716.6 1425.9,816.3" fill="none" stroke="#b87a10" stroke-width="3.5" stroke-linejoin="round"/>
<polyline points="1126.3,18.7 1126.7,22.69 1127.2,26.68 1127.8,30.66 1128.4,34.65 1129.2,38.64 1130.2,42.63 1131.8,48.61 1133.8,58.58 1135.1,68.55 1141.7,78.52 1150.6,88.49 1163.8,98.46 1174.6,108.43 1186.4,118.4 1209,138.34 1232.4,158.28 1254.6,178.22 1272.2,198.16 1288.4,218.1 1319.9,267.95 1339,317.8 1354.5,417.5 1370.3,517.2 1387.4,616.9 1407.2,716.6 1425.9,816.3" fill="none" stroke="#b87a10" stroke-width="3.5" stroke-linejoin="round"/>
<g>
<circle cx="1126.3" cy="18.7" r="6.25" fill="#b87a10"/>
<circle cx="1126.7" cy="22.69" r="6.25" fill="#b87a10"/>
<circle cx="1127.2" cy="26.68" r="6.25" fill="#b87a10"/>
<circle cx="1127.8" cy="30.66" r="6.25" fill="#b87a10"/>
<circle cx="1128.4" cy="34.65" r="6.25" fill="#b87a10"/>
<circle cx="1129.2" cy="38.64" r="6.25" fill="#b87a10"/>
<circle cx="1130.2" cy="42.63" r="6.25" fill="#b87a10"/>
<circle cx="1131.8" cy="48.61" r="6.25" fill="#b87a10"/>
<circle cx="1133.8" cy="58.58" r="6.25" fill="#b87a10"/>
<circle cx="1135.1" cy="68.55" r="6.25" fill="#b87a10"/>
<circle cx="1141.7" cy="78.52" r="6.25" fill="#b87a10"/>
<circle cx="1150.6" cy="88.49" r="6.25" fill="#b87a10"/>
<circle cx="1163.8" cy="98.46" r="6.25" fill="#b87a10"/>
<circle cx="1174.6" cy="108.43" r="6.25" fill="#b87a10"/>
<circle cx="1186.4" cy="118.4" r="6.25" fill="#b87a10"/>
<circle cx="1209" cy="138.34" r="6.25" fill="#b87a10"/>
<circle cx="1232.4" cy="158.28" r="6.25" fill="#b87a10"/>
<circle cx="1254.6" cy="178.22" r="6.25" fill="#b87a10"/>
<circle cx="1272.2" cy="198.16" r="6.25" fill="#b87a10"/>
<circle cx="1288.4" cy="218.1" r="6.25" fill="#b87a10"/>
<circle cx="1319.9" cy="267.95" r="6.25" fill="#b87a10"/>
<circle cx="1339" cy="317.8" r="6.25" fill="#b87a10"/>
<circle cx="1354.5" cy="417.5" r="6.25" fill="#b87a10"/>
<circle cx="1370.3" cy="517.2" r="6.25" fill="#b87a10"/>
<circle cx="1387.4" cy="616.9" r="6.25" fill="#b87a10"/>
<circle cx="1407.2" cy="716.6" r="6.25" fill="#b87a10"/>
<circle cx="1425.9" cy="816.3" r="6.25" fill="#b87a10"/>
<circle cx="1126.3" cy="18.7" r="6.25" fill="#b87a10"/>
<circle cx="1126.7" cy="22.69" r="6.25" fill="#b87a10"/>
<circle cx="1127.2" cy="26.68" r="6.25" fill="#b87a10"/>
<circle cx="1127.8" cy="30.66" r="6.25" fill="#b87a10"/>
<circle cx="1128.4" cy="34.65" r="6.25" fill="#b87a10"/>
<circle cx="1129.2" cy="38.64" r="6.25" fill="#b87a10"/>
<circle cx="1130.2" cy="42.63" r="6.25" fill="#b87a10"/>
<circle cx="1131.8" cy="48.61" r="6.25" fill="#b87a10"/>
<circle cx="1133.8" cy="58.58" r="6.25" fill="#b87a10"/>
<circle cx="1135.1" cy="68.55" r="6.25" fill="#b87a10"/>
<circle cx="1141.7" cy="78.52" r="6.25" fill="#b87a10"/>
<circle cx="1150.6" cy="88.49" r="6.25" fill="#b87a10"/>
<circle cx="1163.8" cy="98.46" r="6.25" fill="#b87a10"/>
<circle cx="1174.6" cy="108.43" r="6.25" fill="#b87a10"/>
<circle cx="1186.4" cy="118.4" r="6.25" fill="#b87a10"/>
<circle cx="1209" cy="138.34" r="6.25" fill="#b87a10"/>
<circle cx="1232.4" cy="158.28" r="6.25" fill="#b87a10"/>
<circle cx="1254.6" cy="178.22" r="6.25" fill="#b87a10"/>
<circle cx="1272.2" cy="198.16" r="6.25" fill="#b87a10"/>
<circle cx="1288.4" cy="218.1" r="6.25" fill="#b87a10"/>
<circle cx="1319.9" cy="267.95" r="6.25" fill="#b87a10"/>
<circle cx="1339" cy="317.8" r="6.25" fill="#b87a10"/>
<circle cx="1354.5" cy="417.5" r="6.25" fill="#b87a10"/>
<circle cx="1370.3" cy="517.2" r="6.25" fill="#b87a10"/>
<circle cx="1387.4" cy="616.9" r="6.25" fill="#b87a10"/>
<circle cx="1407.2" cy="716.6" r="6.25" fill="#b87a10"/>
<circle cx="1425.9" cy="816.3" r="6.25" fill="#b87a10"/>
<circle cx="1126.3" cy="18.7" r="6.25" fill="#b87a10"/>
<circle cx="1126.7" cy="22.69" r="6.25" fill="#b87a10"/>
<circle cx="1127.2" cy="26.68" r="6.25" fill="#b87a10"/>
<circle cx="1127.8" cy="30.66" r="6.25" fill="#b87a10"/>
<circle cx="1128.4" cy="34.65" r="6.25" fill="#b87a10"/>
<circle cx="1129.2" cy="38.64" r="6.25" fill="#b87a10"/>
<circle cx="1130.2" cy="42.63" r="6.25" fill="#b87a10"/>
<circle cx="1131.8" cy="48.61" r="6.25" fill="#b87a10"/>
<circle cx="1133.8" cy="58.58" r="6.25" fill="#b87a10"/>
<circle cx="1135.1" cy="68.55" r="6.25" fill="#b87a10"/>
<circle cx="1141.7" cy="78.52" r="6.25" fill="#b87a10"/>
<circle cx="1150.6" cy="88.49" r="6.25" fill="#b87a10"/>
<circle cx="1163.8" cy="98.46" r="6.25" fill="#b87a10"/>
<circle cx="1174.6" cy="108.43" r="6.25" fill="#b87a10"/>
<circle cx="1186.4" cy="118.4" r="6.25" fill="#b87a10"/>
<circle cx="1209" cy="138.34" r="6.25" fill="#b87a10"/>
<circle cx="1232.4" cy="158.28" r="6.25" fill="#b87a10"/>
<circle cx="1254.6" cy="178.22" r="6.25" fill="#b87a10"/>
<circle cx="1272.2" cy="198.16" r="6.25" fill="#b87a10"/>
<circle cx="1288.4" cy="218.1" r="6.25" fill="#b87a10"/>
<circle cx="1319.9" cy="267.95" r="6.25" fill="#b87a10"/>
<circle cx="1339" cy="317.8" r="6.25" fill="#b87a10"/>
<circle cx="1354.5" cy="417.5" r="6.25" fill="#b87a10"/>
<circle cx="1370.3" cy="517.2" r="6.25" fill="#b87a10"/>
<circle cx="1387.4" cy="616.9" r="6.25" fill="#b87a10"/>
<circle cx="1407.2" cy="716.6" r="6.25" fill="#b87a10"/>
<circle cx="1425.9" cy="816.3" r="6.25" fill="#b87a10"/>
</g>
<polyline points="1126.3,18.7 1126.7,22.69 1127.2,26.68 1127.8,30.66 1128.4,34.65 1129.2,38.64 1130.2,42.63 1131.8,48.61 1133.8,58.58 1135.1,68.55 1141.7,78.52 1150.6,88.49 1163.8,98.46 1174.6,108.43 1186.4,118.4 1209,138.34 1232.4,158.28 1254.6,178.22 1272.2,198.16 1288.4,218.1 1319.9,267.95 1339,317.8 1354.5,417.5 1370.3,517.2 1387.4,616.9 1407.2,716.6 1425.9,816.3" fill="none" stroke="#ffa500" stroke-width="2.3" stroke-linejoin="round"/>
<polyline points="1126.3,18.7 1126.7,22.69 1127.2,26.68 1127.8,30.66 1128.4,34.65 1129.2,38.64 1130.2,42.63 1131.8,48.61 1133.8,58.58 1135.1,68.55 1141.7,78.52 1150.6,88.49 1163.8,98.46 1174.6,108.43 1186.4,118.4 1209,138.34 1232.4,158.28 1254.6,178.22 1272.2,198.16 1288.4,218.1 1319.9,267.95 1339,317.8 1354.5,417.5 1370.3,517.2 1387.4,616.9 1407.2,716.6 1425.9,816.3" fill="none" stroke="#ffa500" stroke-width="2.3" stroke-linejoin="round"/>
<polyline points="1126.3,18.7 1126.7,22.69 1127.2,26.68 1127.8,30.66 1128.4,34.65 1129.2,38.64 1130.2,42.63 1131.8,48.61 1133.8,58.58 1135.1,68.55 1141.7,78.52 1150.6,88.49 1163.8,98.46 1174.6,108.43 1186.4,118.4 1209,138.34 1232.4,158.28 1254.6,178.22 1272.2,198.16 1288.4,218.1 1319.9,267.95 1339,317.8 1354.5,417.5 1370.3,517.2 1387.4,616.9 1407.2,716.6 1425.9,816.3" fill="none" stroke="#ffa500" stroke-width="2.3" stroke-linejoin="round"/>
<g>
<circle cx="1126.3" cy="18.7" r="5.6" fill="#ffa500"/>
<circle cx="1126.7" cy="22.69" r="5.6" fill="#ffa500"/>
<circle cx="1127.2" cy="26.68" r="5.6" fill="#ffa500"/>
<circle cx="1127.8" cy="30.66" r="5.6" fill="#ffa500"/>
<circle cx="1128.4" cy="34.65" r="5.6" fill="#ffa500"/>
<circle cx="1129.2" cy="38.64" r="5.6" fill="#ffa500"/>
<circle cx="1130.2" cy="42.63" r="5.6" fill="#ffa500"/>
<circle cx="1131.8" cy="48.61" r="5.6" fill="#ffa500"/>
<circle cx="1133.8" cy="58.58" r="5.6" fill="#ffa500"/>
<circle cx="1135.1" cy="68.55" r="5.6" fill="#ffa500"/>
<circle cx="1141.7" cy="78.52" r="5.6" fill="#ffa500"/>
<circle cx="1150.6" cy="88.49" r="5.6" fill="#ffa500"/>
<circle cx="1163.8" cy="98.46" r="5.6" fill="#ffa500"/>
<circle cx="1174.6" cy="108.43" r="5.6" fill="#ffa500"/>
<circle cx="1186.4" cy="118.4" r="5.6" fill="#ffa500"/>
<circle cx="1209" cy="138.34" r="5.6" fill="#ffa500"/>
<circle cx="1232.4" cy="158.28" r="5.6" fill="#ffa500"/>
<circle cx="1254.6" cy="178.22" r="5.6" fill="#ffa500"/>
<circle cx="1272.2" cy="198.16" r="5.6" fill="#ffa500"/>
<circle cx="1288.4" cy="218.1" r="5.6" fill="#ffa500"/>
<circle cx="1319.9" cy="267.95" r="5.6" fill="#ffa500"/>
<circle cx="1339" cy="317.8" r="5.6" fill="#ffa500"/>
<circle cx="1354.5" cy="417.5" r="5.6" fill="#ffa500"/>
<circle cx="1370.3" cy="517.2" r="5.6" fill="#ffa500"/>
<circle cx="1387.4" cy="616.9" r="5.6" fill="#ffa500"/>
<circle cx="1407.2" cy="716.6" r="5.6" fill="#ffa500"/>
<circle cx="1425.9" cy="816.3" r="5.6" fill="#ffa500"/>
<circle cx="1126.3" cy="18.7" r="5.6" fill="#ffa500"/>
<circle cx="1126.7" cy="22.69" r="5.6" fill="#ffa500"/>
<circle cx="1127.2" cy="26.68" r="5.6" fill="#ffa500"/>
<circle cx="1127.8" cy="30.66" r="5.6" fill="#ffa500"/>
<circle cx="1128.4" cy="34.65" r="5.6" fill="#ffa500"/>
<circle cx="1129.2" cy="38.64" r="5.6" fill="#ffa500"/>
<circle cx="1130.2" cy="42.63" r="5.6" fill="#ffa500"/>
<circle cx="1131.8" cy="48.61" r="5.6" fill="#ffa500"/>
<circle cx="1133.8" cy="58.58" r="5.6" fill="#ffa500"/>
<circle cx="1135.1" cy="68.55" r="5.6" fill="#ffa500"/>
<circle cx="1141.7" cy="78.52" r="5.6" fill="#ffa500"/>
<circle cx="1150.6" cy="88.49" r="5.6" fill="#ffa500"/>
<circle cx="1163.8" cy="98.46" r="5.6" fill="#ffa500"/>
<circle cx="1174.6" cy="108.43" r="5.6" fill="#ffa500"/>
<circle cx="1186.4" cy="118.4" r="5.6" fill="#ffa500"/>
<circle cx="1209" cy="138.34" r="5.6" fill="#ffa500"/>
<circle cx="1232.4" cy="158.28" r="5.6" fill="#ffa500"/>
<circle cx="1254.6" cy="178.22" r="5.6" fill="#ffa500"/>
<circle cx="1272.2" cy="198.16" r="5.6" fill="#ffa500"/>
<circle cx="1288.4" cy="218.1" r="5.6" fill="#ffa500"/>
<circle cx="1319.9" cy="267.95" r="5.6" fill="#ffa500"/>
<circle cx="1339" cy="317.8" r="5.6" fill="#ffa500"/>
<circle cx="1354.5" cy="417.5" r="5.6" fill="#ffa500"/>
<circle cx="1370.3" cy="517.2" r="5.6" fill="#ffa500"/>
<circle cx="1387.4" cy="616.9" r="5.6" fill="#ffa500"/>
<circle cx="1407.2" cy="716.6" r="5.6" fill="#ffa500"/>
<circle cx="1425.9" cy="816.3" r="5.6" fill="#ffa500"/>
<circle cx="1126.3" cy="18.7" r="5.6" fill="#ffa500"/>
<circle cx="1126.7" cy="22.69" r="5.6" fill="#ffa500"/>
<circle cx="1127.2" cy="26.68" r="5.6" fill="#ffa500"/>
<circle cx="1127.8" cy="30.66" r="5.6" fill="#ffa500"/>
<circle cx="1128.4" cy="34.65" r="5.6" fill="#ffa500"/>
<circle cx="1129.2" cy="38.64" r="5.6" fill="#ffa500"/>
<circle cx="1130.2" cy="42.63" r="5.6" fill="#ffa500"/>
<circle cx="1131.8" cy="48.61" r="5.6" fill="#ffa500"/>
<circle cx="1133.8" cy="58.58" r="5.6" fill="#ffa500"/>
<circle cx="1135.1" cy="68.55" r="5.6" fill="#ffa500"/>
<circle cx="1141.7" cy="78.52" r="5.6" fill="#ffa500"/>
<circle cx="1150.6" cy="88.49" r="5.6" fill="#ffa500"/>
<circle cx="1163.8" cy="98.46" r="5.6" fill="#ffa500"/>
<circle cx="1174.6" cy="108.43" r="5.6" fill="#ffa500"/>
<circle cx="1186.4" cy="118.4" r="5.6" fill="#ffa500"/>
<circle cx="1209" cy="138.34" r="5.6" fill="#ffa500"/>
<circle cx="1232.4" cy="158.28" r="5.6" fill="#ffa500"/>
<circle cx="1254.6" cy="178.22" r="5.6" fill="#ffa500"/>
<circle cx="1272.2" cy="198.16" r="5.6" fill="#ffa500"/>
<circle cx="1288.4" cy="218.1" r="5.6" fill="#ffa500"/>
<circle cx="1319.9" cy="267.95" r="5.6" fill="#ffa500"/>
<circle cx="1339" cy="317.8" r="5.6" fill="#ffa500"/>
<circle cx="1354.5" cy="417.5" r="5.6" fill="#ffa500"/>
<circle cx="1370.3" cy="517.2" r="5.6" fill="#ffa500"/>
<circle cx="1387.4" cy="616.9" r="5.6" fill="#ffa500"/>
<circle cx="1407.2" cy="716.6" r="5.6" fill="#ffa500"/>
<circle cx="1425.9" cy="816.3" r="5.6" fill="#ffa500"/>
</g>
<polyline points="1107.7,19.68 1107.8,21.77 1108,23.98 1108.2,26.32 1108.5,28.83 1108.9,31.54 1109.4,34.51 1110,37.78 1110.8,41.43 1111.7,45.56 1112.7,50.23 1125.2,55.59 1143.6,61.77 1163.4,68.97 1187.1,77.4 1211.5,87.35 1233.9,99.14 1253.4,113.16 1270.5,129.89 1285.4,149.93 1297.6,173.93 1308.6,202.81 1319.4,237.5 1328.8,279.26 1338.6,329.46 1349.6,389.84 1361.6,462.33 1375.5,549.18 1391.4,653.05 1411.3,776.84" fill="none" stroke="#ff00ff" stroke-width="2.7" stroke-linejoin="round"/>
<g>
<circle cx="1107.7" cy="19.68" r="6" fill="#ff00ff"/>
<circle cx="1107.8" cy="21.77" r="6" fill="#ff00ff"/>
<circle cx="1108" cy="23.98" r="6" fill="#ff00ff"/>
<circle cx="1108.2" cy="26.32" r="6" fill="#ff00ff"/>
<circle cx="1108.5" cy="28.83" r="6" fill="#ff00ff"/>
<circle cx="1108.9" cy="31.54" r="6" fill="#ff00ff"/>
<circle cx="1109.4" cy="34.51" r="6" fill="#ff00ff"/>
<circle cx="1110" cy="37.78" r="6" fill="#ff00ff"/>
<circle cx="1110.8" cy="41.43" r="6" fill="#ff00ff"/>
<circle cx="1111.7" cy="45.56" r="6" fill="#ff00ff"/>
<circle cx="1112.7" cy="50.23" r="6" fill="#ff00ff"/>
<circle cx="1125.2" cy="55.59" r="6" fill="#ff00ff"/>
<circle cx="1143.6" cy="61.77" r="6" fill="#ff00ff"/>
<circle cx="1163.4" cy="68.97" r="6" fill="#ff00ff"/>
<circle cx="1187.1" cy="77.4" r="6" fill="#ff00ff"/>
<circle cx="1211.5" cy="87.35" r="6" fill="#ff00ff"/>
<circle cx="1233.9" cy="99.14" r="6" fill="#ff00ff"/>
<circle cx="1253.4" cy="113.16" r="6" fill="#ff00ff"/>
<circle cx="1270.5" cy="129.89" r="6" fill="#ff00ff"/>
<circle cx="1285.4" cy="149.93" r="6" fill="#ff00ff"/>
<circle cx="1297.6" cy="173.93" r="6" fill="#ff00ff"/>
<circle cx="1308.6" cy="202.81" r="6" fill="#ff00ff"/>
<circle cx="1319.4" cy="237.5" r="6" fill="#ff00ff"/>
<circle cx="1328.8" cy="279.26" r="6" fill="#ff00ff"/>
<circle cx="1338.6" cy="329.46" r="6" fill="#ff00ff"/>
<circle cx="1349.6" cy="389.84" r="6" fill="#ff00ff"/>
<circle cx="1361.6" cy="462.33" r="6" fill="#ff00ff"/>
<circle cx="1375.5" cy="549.18" r="6" fill="#ff00ff"/>
<circle cx="1391.4" cy="653.05" r="6" fill="#ff00ff"/>
<circle cx="1411.3" cy="776.84" r="6" fill="#ff00ff"/>
</g>
</g>
<g stroke="#000" stroke-width="1.1" fill="none">
<line x1="1131.5" y1="814.45" x2="1131.5" y2="821.05"/>
<line x1="1201.5" y1="814.45" x2="1201.5" y2="821.05"/>
<line x1="1270.5" y1="814.45" x2="1270.5" y2="821.05"/>
<line x1="1340.5" y1="814.45" x2="1340.5" y2="821.05"/>
<line x1="1410.4" y1="814.45" x2="1410.4" y2="821.05"/>
<line x1="1065.9" y1="19.25" x2="1072.5" y2="19.25"/>
<line x1="1065.9" y1="68.5" x2="1072.5" y2="68.5"/>
<line x1="1065.9" y1="118.5" x2="1072.5" y2="118.5"/>
<line x1="1065.9" y1="168.5" x2="1072.5" y2="168.5"/>
<line x1="1065.9" y1="218.5" x2="1072.5" y2="218.5"/>
<line x1="1065.9" y1="268.5" x2="1072.5" y2="268.5"/>
<line x1="1065.9" y1="318.5" x2="1072.5" y2="318.5"/>
<line x1="1065.9" y1="367.5" x2="1072.5" y2="367.5"/>
<line x1="1065.9" y1="417.5" x2="1072.5" y2="417.5"/>
<line x1="1065.9" y1="467.5" x2="1072.5" y2="467.5"/>
<line x1="1065.9" y1="517.5" x2="1072.5" y2="517.5"/>
<line x1="1065.9" y1="567.5" x2="1072.5" y2="567.5"/>
<line x1="1065.9" y1="617.5" x2="1072.5" y2="617.5"/>
<line x1="1065.9" y1="666.5" x2="1072.5" y2="666.5"/>
<line x1="1065.9" y1="716.5" x2="1072.5" y2="716.5"/>
<line x1="1065.9" y1="766.5" x2="1072.5" y2="766.5"/>
</g>
<rect x="1072.5" y="19.25" width="402" height="795.2" fill="none" stroke="#000" stroke-width="1.4"/>
<g font-family="'DejaVu Sans','Liberation Sans',sans-serif" font-size="16.67" fill="#000">
<text transform="translate(1130.9,850.2) rotate(-45)" text-anchor="middle" y="6.1">1024</text>
<text transform="translate(1200.9,850.2) rotate(-45)" text-anchor="middle" y="6.1">1025</text>
<text transform="translate(1269.9,850.2) rotate(-45)" text-anchor="middle" y="6.1">1026</text>
<text transform="translate(1339.9,850.2) rotate(-45)" text-anchor="middle" y="6.1">1027</text>
<text transform="translate(1409.8,850.2) rotate(-45)" text-anchor="middle" y="6.1">1028</text>
</g>
<g font-family="'DejaVu Sans','Liberation Sans',sans-serif" font-weight="bold" font-size="22.22" fill="#000" letter-spacing="0.15">
<text transform="translate(30.1,418.3) rotate(-90)" text-anchor="middle">Depth (m)</text>
<text x="179.3" y="871.4">Temperature (<tspan font-weight="normal" font-style="italic" font-size="15.55" dy="-8.1" dx="1.2">o</tspan><tspan font-weight="normal" font-style="italic" dy="8.1" dx="2.2">C</tspan><tspan dx="0.6">)</tspan></text>
<text x="780.5" y="870.2" text-anchor="middle">Salinity</text>
<text x="1272.8" y="895.9" text-anchor="middle">Density (kg m-3)</text>
</g>
<g font-family="'DejaVu Sans','Liberation Sans',sans-serif" font-weight="bold" font-size="22.22" fill="#000" letter-spacing="0.21">
<text x="1524.6" y="36.6">Comparison Date: 2025-07-17</text>
<text x="1524.6" y="89.7">Glider: sp071</text>
<text x="1524.6" y="116">Profiles: 3</text>
<text x="1524.6" y="142.6">First: 2025-07-17 03:43:15</text>
<text x="1524.6" y="169.3">Last: 2025-07-17 14:10:45</text>
<text x="1524.6" y="195.7">Method: Nearest-Neighbor</text>
</g>
<text x="301.2" y="917.6" font-family="'DejaVu Sans','Liberation Sans',sans-serif" font-style="italic" font-size="17.33" fill="#000" xml:space="preserve">Ocean Heat Content (kJ/cm^2) - Glider: 9.5636,  RTOFS: 11.5090,  RTOFS (Parallel): 10.7419,  CMEMS: 10.1265,</text>
<clipPath id="mapclip"><rect x="1563.5" y="248.6" width="403" height="335.5"/></clipPath>
<g clip-path="url(#mapclip)">
<rect x="1563.5" y="248.6" width="403" height="335.5" fill="#98b7e2"/>
<g fill="#d2b48c" stroke="#000" stroke-width="1.9" stroke-linejoin="round">
<polygon points="1563.5,248.9 1767.9,248.9 1764.0,253.0 1760.3,257.7 1757.2,264.0 1754.0,270.3 1750.2,275.4 1746.4,283.0 1742.6,290.5 1741.4,295.6 1742.6,300.6 1747.7,302.5 1741.4,308.2 1736.3,313.3 1736.3,317.1 1741.4,319.6 1745.2,325.9 1747.7,331.0 1751.5,336.0 1757.8,337.9 1764.1,337.0 1766.3,338.6 1766.3,343.4 1760.0,341.3 1755.3,341.3 1748.9,343.6 1745.2,339.8 1741.4,341.1 1737.6,346.1 1732.5,348.2 1731.2,344.0 1729.6,338.6 1727.3,339.5 1726.8,346.0 1724.3,348.9 1719.2,351.5 1706.6,353.4 1694.0,355.3 1681.3,354.6 1675.0,357.2 1666.2,360.3 1659.9,363.5 1654.8,367.9 1649.7,373.6 1644.7,379.3 1642.2,384.3 1647.2,385.6 1651.6,386.8 1651.0,393.2 1649.1,400.7 1647.9,408.3 1646.0,415.9 1640.9,422.2 1635.8,428.5 1630.8,434.9 1627.0,441.2 1624.8,442.9 1622.9,441.6 1624.8,437.1 1624.2,434.6 1614.6,430.7 1607.8,424.8 1605.6,419.6 1604.7,419.6 1606.0,425.8 1609.4,430.7 1610.7,437.1 1614.6,443.6 1619.7,446.6 1621.0,456.4 1618.4,466.7 1613.3,477.0 1608.1,487.3 1603.0,497.5 1597.8,506.5 1593.6,510.2 1591.7,502.7 1593.3,495.0 1595.9,487.3 1598.5,482.1 1596.6,480.8 1594.0,482.1 1591.7,477.0 1589.5,471.8 1586.9,465.4 1583.9,459.0 1583.3,450.0 1583.9,442.3 1584.5,434.6 1585.8,429.4 1590.1,424.5 1595.9,419.8 1594.6,417.9 1588.8,421.7 1583.7,426.9 1580.7,432.0 1581.1,438.4 1579.6,447.4 1579.2,456.4 1581.8,464.1 1584.3,470.6 1585.2,477.0 1585.6,484.7 1586.3,492.4 1586.5,500.1 1586.9,507.8 1588.8,514.3 1594.6,516.2 1595.7,523.4 1598.7,533.5 1602.8,543.7 1606.8,553.9 1608.9,561.0 1608.0,575.2 1598.7,578.0 1589.0,584.0 1563.5,584.0"/>
<polygon points="1648.5,380.5 1656.1,371.9 1662.4,368.4 1668.7,367.6 1675.0,366.4 1681.3,365.6 1687.6,364.3 1694.0,361.8 1700.3,359.9 1705.3,358.6 1702.0,361.8 1697.7,364.0 1704.1,363.7 1711.6,362.6 1706.0,366.6 1700.3,369.2 1687.6,373.6 1675.0,377.4 1662.4,380.5 1653.5,382.0 1648.5,382.6"/>
<polygon points="1874.6,248.9 1875.3,256.4 1879.1,261.5 1881.6,256.4 1885.4,262.7 1887.9,269.1 1890.4,272.8 1894.2,269.7 1898.0,265.3 1900.5,261.5 1906.9,258.9 1911.9,255.2 1917.0,250.7 1918.2,248.9"/>
<polygon points="1740.0,351.2 1745.0,348.4 1752.0,347.7 1750.0,351.0 1744.0,354.3 1741.0,355.6"/>
</g>
<g stroke="#d2b48c" stroke-width="2.4" fill="none">
<polyline points="1588.0,584.0 1563.5,584.0 1563.5,248.9 1765.5,248.9"/>
<polyline points="1876.5,248.9 1916.5,248.9"/>
</g>
<polygon points="1560.0,245.0 1590.3,245.0 1590.3,248.9 1586.8,254.1 1587.3,263.2 1583.2,268.2 1577.2,271.3 1572.1,274.3 1563.5,277.8 1560.0,278.5" fill="#b4b4b4"/>
<polyline points="1577.7,251.1 1569.6,263.7 1563.5,264.2" fill="none" stroke="#000" stroke-width="1.6" stroke-dasharray="5 2.2"/>
<ellipse cx="1595.4" cy="279.6" rx="5" ry="1.1" fill="#b4b4b4" transform="rotate(8 1595.4 279.6)"/>
<g fill="none" stroke="#98b7e2" stroke-width="1.75" stroke-linejoin="round" stroke-linecap="round">
<polyline points="1647.9,249.6 1644.8,255.1 1650.9,260.2 1654.9,268.2 1653.9,274.3 1657.0,278.8 1661.5,276.8 1662.0,284.4 1659.0,295.5 1657.0,304.6 1656.0,314.7 1651.9,324.8 1651.4,338.0 1651.0,354.0"/>
<polyline points="1608.0,270.8 1610.5,275.3 1609.5,279.4 1620.6,286.4 1626.7,286.4 1633.7,291.5 1642.8,290.0 1650.9,294.5 1658.0,296.5"/>
<polyline points="1693.3,302.6 1690.3,314.7 1690.3,324.8 1689.3,338.0 1689.5,342.6 1697.1,351.5"/>
<polyline points="1717.6,249.1 1718.1,263.2 1716.1,265.7 1721.6,277.3 1724.1,286.4 1723.1,294.5 1725.7,301.6 1731.7,300.6 1739.8,295.5"/>
<polyline points="1578.2,270.8 1584.2,279.4 1586.3,282.4 1581.2,281.9 1573.1,285.4 1570.1,292.5 1565.1,294.5 1566.1,300.6"/>
<polyline points="1624.6,296.0 1622.6,304.6 1616.6,310.7 1607.5,315.7 1603.4,322.8 1603.9,328.8 1598.4,323.8 1593.3,322.8 1589.3,323.8 1584.2,323.3 1579.2,327.8 1579.2,333.9 1584.2,338.0 1590.4,342.0 1599.2,352.1 1589.1,360.3 1580.3,365.4 1570.2,370.4"/>
<polyline points="1632.7,311.2 1624.6,315.7 1619.6,320.8 1609.5,324.8"/>
<polyline points="1563.5,355.9 1570.2,357.2 1567.6,362.8 1570.2,370.4 1566.4,379.3 1564.5,386.8 1570.2,395.7 1579.0,403.3 1585.3,413.4 1591.6,419.7"/>
</g>
<g fill="#000">
<circle cx="1575.8" cy="438.6" r="0.9"/>
<circle cx="1576.7" cy="444.4" r="1.3"/>
<circle cx="1577.8" cy="428.5" r="0.9"/>
<circle cx="1579.3" cy="441.0" r="1.0"/>
<circle cx="1579.7" cy="448.2" r="1.2"/>
<circle cx="1574.3" cy="459.8" r="1.1"/>
<circle cx="1575.9" cy="432.3" r="1.5"/>
<circle cx="1578.4" cy="434.0" r="1.1"/>
<circle cx="1575.0" cy="444.8" r="1.0"/>
<circle cx="1576.8" cy="449.5" r="1.3"/>
<circle cx="1576.4" cy="443.0" r="1.4"/>
<circle cx="1578.2" cy="435.9" r="1.6"/>
<circle cx="1576.0" cy="452.1" r="0.9"/>
<circle cx="1579.0" cy="440.8" r="1.2"/>
<circle cx="1579.0" cy="429.7" r="1.3"/>
<circle cx="1575.9" cy="456.3" r="1.3"/>
<circle cx="1577.1" cy="447.1" r="1.7"/>
<circle cx="1578.4" cy="442.5" r="1.4"/>
<circle cx="1579.9" cy="449.2" r="1.1"/>
<circle cx="1578.5" cy="439.6" r="1.2"/>
<circle cx="1575.9" cy="432.7" r="1.5"/>
<circle cx="1576.6" cy="432.0" r="1.6"/>
<circle cx="1577.8" cy="430.7" r="1.6"/>
<circle cx="1578.9" cy="453.9" r="1.2"/>
<circle cx="1579.7" cy="440.2" r="0.9"/>
<circle cx="1576.5" cy="433.2" r="1.2"/>
<circle cx="1576.0" cy="446.1" r="1.2"/>
<circle cx="1578.0" cy="440.5" r="1.4"/>
<circle cx="1578.1" cy="444.8" r="0.8"/>
<circle cx="1578.4" cy="457.4" r="1.5"/>
<circle cx="1577.1" cy="439.9" r="1.4"/>
<circle cx="1575.8" cy="429.5" r="0.9"/>
<circle cx="1575.3" cy="438.1" r="0.9"/>
<circle cx="1577.3" cy="430.5" r="1.6"/>
<circle cx="1575.4" cy="447.3" r="1.1"/>
<circle cx="1575.6" cy="440.2" r="1.7"/>
<circle cx="1577.4" cy="442.2" r="0.9"/>
<circle cx="1576.4" cy="439.5" r="0.9"/>
<circle cx="1580.6" cy="428.8" r="0.9"/>
<circle cx="1574.8" cy="445.4" r="1.7"/>
<circle cx="1578.0" cy="455.2" r="1.1"/>
<circle cx="1579.4" cy="433.4" r="1.5"/>
<circle cx="1576.2" cy="439.0" r="1.7"/>
<circle cx="1578.6" cy="455.8" r="1.5"/>
<circle cx="1578.0" cy="435.0" r="0.8"/>
<circle cx="1577.0" cy="428.5" r="1.4"/>
<circle cx="1586.5" cy="461.0" r="1.7"/>
<circle cx="1586.1" cy="459.8" r="1.0"/>
<circle cx="1585.6" cy="431.7" r="1.6"/>
<circle cx="1586.7" cy="456.2" r="1.5"/>
<circle cx="1588.0" cy="427.9" r="1.5"/>
<circle cx="1586.8" cy="452.0" r="1.5"/>
<circle cx="1588.6" cy="437.4" r="1.2"/>
<circle cx="1589.3" cy="439.6" r="1.0"/>
<circle cx="1585.4" cy="429.5" r="1.5"/>
<circle cx="1588.8" cy="430.3" r="1.4"/>
<circle cx="1587.3" cy="436.7" r="0.8"/>
<circle cx="1587.5" cy="460.9" r="1.6"/>
<circle cx="1588.9" cy="441.0" r="1.0"/>
<circle cx="1586.1" cy="433.2" r="1.3"/>
<circle cx="1586.7" cy="433.3" r="1.6"/>
<circle cx="1586.9" cy="437.6" r="1.6"/>
<circle cx="1589.2" cy="440.0" r="1.3"/>
<circle cx="1584.5" cy="443.8" r="1.0"/>
<circle cx="1588.8" cy="423.6" r="1.2"/>
<circle cx="1587.2" cy="451.3" r="1.3"/>
<circle cx="1588.4" cy="444.5" r="1.3"/>
<circle cx="1586.0" cy="433.9" r="1.3"/>
<circle cx="1588.3" cy="446.0" r="1.2"/>
<circle cx="1587.0" cy="447.3" r="1.4"/>
<circle cx="1587.2" cy="441.2" r="1.6"/>
<circle cx="1588.8" cy="451.3" r="1.0"/>
<circle cx="1589.2" cy="445.8" r="0.9"/>
<circle cx="1586.9" cy="427.9" r="1.0"/>
<circle cx="1588.1" cy="427.2" r="1.6"/>
<circle cx="1588.3" cy="430.1" r="0.9"/>
<circle cx="1589.2" cy="457.1" r="1.7"/>
<circle cx="1587.0" cy="439.9" r="1.5"/>
<circle cx="1586.8" cy="430.2" r="1.1"/>
<circle cx="1586.2" cy="431.8" r="0.8"/>
<circle cx="1586.7" cy="444.3" r="1.1"/>
<circle cx="1587.0" cy="447.0" r="1.7"/>
<circle cx="1589.3" cy="453.3" r="1.0"/>
<circle cx="1588.7" cy="425.1" r="0.9"/>
<circle cx="1589.1" cy="440.6" r="1.0"/>
<circle cx="1589.3" cy="429.8" r="1.4"/>
<circle cx="1584.9" cy="427.7" r="1.2"/>
<circle cx="1589.4" cy="427.0" r="1.5"/>
<circle cx="1589.0" cy="426.5" r="1.6"/>
<circle cx="1586.2" cy="441.3" r="1.6"/>
<circle cx="1585.2" cy="434.2" r="1.0"/>
<circle cx="1585.5" cy="427.4" r="1.0"/>
<circle cx="1586.1" cy="436.3" r="1.1"/>
<circle cx="1585.4" cy="442.8" r="0.8"/>
<circle cx="1584.7" cy="433.9" r="1.3"/>
<circle cx="1587.0" cy="431.9" r="0.9"/>
<circle cx="1586.5" cy="455.1" r="1.6"/>
<circle cx="1587.1" cy="439.2" r="1.7"/>
<circle cx="1588.8" cy="437.4" r="1.4"/>
<circle cx="1586.3" cy="438.7" r="0.9"/>
<circle cx="1588.4" cy="426.3" r="0.9"/>
<circle cx="1588.9" cy="427.8" r="1.4"/>
<circle cx="1585.8" cy="434.4" r="1.2"/>
<circle cx="1586.9" cy="429.6" r="1.7"/>
<circle cx="1587.0" cy="460.6" r="1.7"/>
<circle cx="1586.4" cy="435.0" r="1.1"/>
<circle cx="1588.3" cy="422.8" r="1.1"/>
<circle cx="1592.2" cy="418.4" r="1.0"/>
<circle cx="1591.2" cy="419.1" r="0.9"/>
<circle cx="1587.2" cy="424.7" r="1.2"/>
<circle cx="1587.0" cy="425.3" r="1.0"/>
<circle cx="1582.1" cy="428.2" r="1.2"/>
<circle cx="1593.6" cy="420.0" r="1.2"/>
<circle cx="1586.6" cy="425.0" r="1.1"/>
<circle cx="1589.0" cy="424.0" r="1.4"/>
<circle cx="1588.3" cy="424.5" r="1.3"/>
<circle cx="1589.3" cy="420.5" r="1.0"/>
<circle cx="1593.0" cy="420.0" r="1.2"/>
<circle cx="1587.3" cy="424.6" r="0.7"/>
<circle cx="1585.8" cy="426.2" r="1.1"/>
<circle cx="1593.3" cy="478.2" r="1.0"/>
<circle cx="1589.3" cy="464.2" r="1.0"/>
<circle cx="1599.5" cy="479.7" r="1.1"/>
<circle cx="1595.4" cy="473.9" r="1.3"/>
<circle cx="1593.2" cy="476.9" r="1.0"/>
<circle cx="1595.5" cy="479.9" r="0.8"/>
<circle cx="1589.2" cy="463.7" r="1.4"/>
<circle cx="1594.8" cy="478.2" r="1.2"/>
<circle cx="1591.9" cy="473.8" r="1.0"/>
<circle cx="1601.4" cy="484.7" r="1.2"/>
<circle cx="1600.2" cy="481.6" r="1.0"/>
<circle cx="1594.6" cy="466.6" r="1.3"/>
<circle cx="1591.4" cy="466.1" r="0.9"/>
<circle cx="1597.4" cy="482.3" r="1.4"/>
<circle cx="1594.5" cy="467.5" r="0.8"/>
<circle cx="1590.0" cy="462.0" r="1.0"/>
<circle cx="1590.3" cy="465.1" r="1.5"/>
<circle cx="1591.5" cy="462.6" r="0.9"/>
<circle cx="1599.6" cy="484.9" r="1.0"/>
<circle cx="1592.7" cy="471.7" r="1.3"/>
<circle cx="1592.8" cy="470.3" r="0.8"/>
<circle cx="1592.9" cy="464.1" r="1.5"/>
<circle cx="1590.8" cy="468.0" r="1.0"/>
<circle cx="1596.1" cy="471.6" r="1.4"/>
<circle cx="1598.2" cy="477.8" r="1.2"/>
<circle cx="1593.8" cy="479.6" r="1.2"/>
<circle cx="1597.6" cy="479.7" r="0.8"/>
<circle cx="1596.1" cy="484.2" r="1.1"/>
<circle cx="1594.1" cy="469.9" r="1.0"/>
<circle cx="1594.7" cy="477.8" r="1.1"/>
<circle cx="1589.5" cy="465.5" r="1.5"/>
<circle cx="1592.8" cy="474.6" r="1.6"/>
<circle cx="1591.9" cy="472.3" r="0.9"/>
<circle cx="1590.6" cy="469.8" r="1.0"/>
<circle cx="1597.5" cy="476.1" r="1.1"/>
<circle cx="1593.9" cy="471.7" r="1.1"/>
<circle cx="1589.2" cy="464.2" r="0.9"/>
<circle cx="1595.3" cy="474.7" r="1.0"/>
<circle cx="1590.9" cy="468.3" r="1.2"/>
<circle cx="1600.7" cy="485.5" r="0.8"/>
<circle cx="1591.5" cy="463.4" r="1.2"/>
<circle cx="1592.3" cy="475.9" r="1.5"/>
<circle cx="1599.6" cy="482.6" r="1.0"/>
<circle cx="1588.9" cy="464.7" r="1.3"/>
<circle cx="1599.8" cy="484.8" r="1.4"/>
<circle cx="1594.4" cy="472.2" r="1.4"/>
<circle cx="1594.6" cy="467.8" r="1.0"/>
<circle cx="1589.7" cy="465.3" r="1.4"/>
<circle cx="1588.4" cy="464.7" r="1.3"/>
<circle cx="1591.8" cy="471.5" r="0.8"/>
<circle cx="1592.2" cy="451.2" r="1.5"/>
<circle cx="1595.1" cy="453.0" r="1.2"/>
<circle cx="1596.1" cy="453.5" r="1.0"/>
<circle cx="1593.7" cy="451.4" r="1.2"/>
<circle cx="1595.1" cy="451.9" r="1.0"/>
<circle cx="1592.2" cy="451.0" r="1.1"/>
<circle cx="1595.3" cy="453.0" r="1.1"/>
<circle cx="1595.1" cy="454.4" r="1.2"/>
</g>
<g fill="none" stroke="#000" stroke-linecap="round" stroke-linejoin="round">
<polyline points="1586,432 1586.6,440 1585.6,448 1586.6,456" stroke-width="3.4"/>
<polyline points="1589.5,450.5 1594.3,452.6 1592,455" stroke-width="2.4"/>
<polyline points="1590,466 1593.5,472 1595.5,479" stroke-width="3.2"/>
<polyline points="1577.6,431 1577,440 1576,449 1577,456" stroke-width="2.2"/>
<polyline points="1607.5,477.5 1603,487 1598.6,497 1594.4,506.5 1592.6,509.8" stroke-width="3.0"/>
<polyline points="1603.4,479.5 1599.4,488 1595.6,496 1592.6,503" stroke-width="2.6"/>
<polyline points="1563.5,464 1572,466.3 1581,470.5" stroke-width="1.8"/>
<polyline points="1563.5,468.5 1572,471.6 1583,474.5" stroke-width="2.0"/>
<polyline points="1566,477.5 1574,481.5 1584.6,487.2" stroke-width="2.3"/>
<polyline points="1569.3,493.6 1576,498 1585,504" stroke-width="2.3"/>
<polyline points="1563.5,503 1571,505.5 1577,508.5 1586,515.4" stroke-width="3.4"/>
<polyline points="1577,513 1582,516.5" stroke-width="2.2"/>
</g>
<g fill="none" stroke="#98b7e2" stroke-linecap="round">
<polyline points="1563.5,466.3 1572,468.9 1581.5,472.4" stroke-width="1.1"/>
<polyline points="1590,472 1592.5,478 1595.6,483" stroke-width="1.0"/>
</g>
<polyline points="1572,550.5 1580.4,548.3 1588.5,545.6 1594.6,544.8 1600,548.5" fill="none" stroke="#000" stroke-width="5.6" stroke-linecap="round" stroke-linejoin="round"/>
<polygon points="1600.7,548.8 1606.3,556.9 1607.8,566.1 1606.8,574.7 1598.7,577.2 1589.6,582.8 1579.9,582.5 1580.4,575.7 1588.5,571.1 1594.1,566.1 1597.7,561 1599.7,554.9 1597,550.5" fill="#98b7e2" stroke="#000" stroke-width="1.7" stroke-linejoin="round"/>
<polyline points="1572.4,550.5 1580.4,548.3 1588.5,545.6 1594.6,544.8 1600,548.6" fill="none" stroke="#98b7e2" stroke-width="3.0" stroke-linecap="round" stroke-linejoin="round"/>
<polyline points="1564,552.5 1567,553.5 1570,552.2 1573,551.2" fill="none" stroke="#98b7e2" stroke-width="1.6" stroke-linecap="round"/>
<g fill="none" stroke="#000" stroke-linecap="round" stroke-linejoin="round">
<polyline points="1592.6,528.8 1596,535.2 1599.7,543.5" stroke-width="3.2"/>
<polyline points="1572.5,541 1575,546" stroke-width="2.3"/>
<polyline points="1578,540 1581,545" stroke-width="2.3"/>
<polyline points="1583.5,538.5 1586,543" stroke-width="2.3"/>
<polyline points="1588,537 1591,541.5" stroke-width="2.3"/>
<polyline points="1571.5,546.8 1580,545.6 1590,542.6" stroke-width="1.6"/>
<polyline points="1591,551.2 1592,556 1591,561" stroke-width="2.8"/>
<polyline points="1597,553 1600,558 1598,563.5" stroke-width="2.6"/>
<polyline points="1563.5,565.5 1575,565.6 1582,567.6 1588.5,570.6" stroke-width="3.6"/>
<polyline points="1575,571.5 1578.4,577.2 1574,582.5" stroke-width="3.0"/>
<polyline points="1563.5,581 1570,583.4" stroke-width="3.2"/>
<polyline points="1577,513.5 1583,518.6" stroke-width="2.4"/>
</g>
<g fill="none" stroke="#000" stroke-linecap="round" stroke-linejoin="round">
<polyline points="1768.5,250 1776,251.2 1783,250.4 1790,250.3" stroke-width="4.2"/>
<polyline points="1766,252 1761.5,256.5 1758.6,262" stroke-width="3.6"/>
<polyline points="1757,264.5 1753.5,271 1750,276" stroke-width="2.4"/>
<polyline points="1743,300.6 1747.4,302.5" stroke-width="3.4"/>
<polyline points="1737.2,313 1736.6,317" stroke-width="4"/>
<polyline points="1751.5,336 1757.8,337.9 1764.1,336.6 1766,332.2 1764.7,327.2 1761.6,324.6 1758.4,325.3 1759.6,327.2" stroke-width="2.1"/>
<polyline points="1766.3,338 1766.5,343.5" stroke-width="1.8"/>
<polyline points="1727.6,339 1727.2,346.2" stroke-width="4.6"/>
<polyline points="1730.5,341 1729.6,346" stroke-width="3"/>
<polyline points="1737,346.2 1741.8,341.8 1745.5,340.3" stroke-width="2.6"/>
<polyline points="1739.5,350 1744.5,346.4 1749,344.4" stroke-width="1.6"/>
<polyline points="1757.1,353.4 1762.2,356.1 1766.6,355.3 1765.5,350.8" stroke-width="2"/>
<polyline points="1693,361.5 1700.5,358.8 1704,358.2" stroke-width="2.6"/>
<polyline points="1724.3,348.9 1719.2,351.5 1706.6,353.4 1694,355.3 1681.3,354.8 1675,357.4 1666.2,360.6 1659.9,363.9 1654.8,368.2 1649.7,373.8 1644.7,379.5" stroke-width="2.6"/>
<polyline points="1648.8,381.3 1656.1,372.3 1662.4,368.8 1668.7,367.9 1675,366.7 1681.3,365.9 1687.6,364.6 1694,362.1" stroke-width="2.4"/>
<polyline points="1711,362.8 1706,366.6 1700.3,369.2 1687.6,373.6 1675,377.4 1662.4,380.5 1653.5,382" stroke-width="2.3"/>
<polyline points="1651.6,387 1651,393.2 1649.5,400" stroke-width="2.4"/>
<polyline points="1631,435 1627.2,441 1624.6,442.6" stroke-width="2.4"/>
<polyline points="1619.7,446.8 1621,456.4 1618.5,467" stroke-width="2.3"/>
<polyline points="1660,370 1668,368 1676,366.4" stroke-width="2.2"/>
<polyline points="1644,380 1648,376.5 1653,371" stroke-width="2.6"/>
<polyline points="1649.5,400 1648,408.5 1646.2,416" stroke-width="2.4"/>
<polyline points="1640.5,423 1636,428.5 1631,435" stroke-width="2.2"/>
<polyline points="1618.5,468 1614.6,474.5 1609.6,482" stroke-width="2.6"/>
<polyline points="1605.6,490 1602,498.5 1598.2,506 1594.6,510" stroke-width="3"/>
<polyline points="1602,488 1598.5,496 1596,503" stroke-width="1.6"/>
<polyline points="1594.8,516.4 1595.8,523.4 1598.8,533.5 1602.9,543.7 1606.9,553.9 1609,561" stroke-width="2.3"/>
<polyline points="1875.4,252 1876,257.5 1879.4,262 1881.6,257" stroke-width="2.8"/>
<polyline points="1885.6,263 1888,269.3 1890.6,272.6 1894.2,269.5 1898,265 1900.7,261.4 1907,258.7 1912,255 1916.6,250.8" stroke-width="3"/>
</g>
<g fill="#000">
<circle cx="1784.0" cy="251.4" r="1.3"/>
<circle cx="1781.7" cy="252.2" r="1.3"/>
<circle cx="1764.6" cy="251.9" r="1.2"/>
<circle cx="1760.5" cy="258.5" r="1.0"/>
<circle cx="1777.2" cy="253.2" r="1.5"/>
<circle cx="1754.8" cy="268.1" r="1.1"/>
<circle cx="1764.3" cy="256.2" r="1.2"/>
<circle cx="1785.2" cy="248.9" r="1.7"/>
<circle cx="1768.3" cy="251.8" r="1.3"/>
<circle cx="1779.7" cy="252.5" r="1.0"/>
<circle cx="1755.4" cy="268.2" r="1.7"/>
<circle cx="1758.8" cy="265.1" r="1.5"/>
<circle cx="1785.3" cy="252.2" r="1.0"/>
<circle cx="1754.7" cy="272.1" r="1.2"/>
<circle cx="1767.6" cy="254.9" r="1.2"/>
<circle cx="1788.6" cy="251.6" r="1.8"/>
<circle cx="1766.2" cy="254.2" r="1.5"/>
<circle cx="1780.5" cy="251.0" r="1.4"/>
<circle cx="1780.6" cy="250.0" r="1.7"/>
<circle cx="1773.7" cy="250.0" r="0.9"/>
<circle cx="1790.0" cy="251.9" r="1.2"/>
<circle cx="1760.4" cy="263.4" r="1.8"/>
<circle cx="1772.3" cy="253.2" r="1.4"/>
<circle cx="1754.0" cy="270.1" r="1.0"/>
<circle cx="1752.6" cy="268.4" r="1.6"/>
<circle cx="1756.9" cy="267.3" r="0.9"/>
<circle cx="1777.0" cy="250.4" r="1.0"/>
<circle cx="1787.5" cy="252.5" r="1.8"/>
<circle cx="1757.6" cy="263.1" r="1.8"/>
<circle cx="1766.0" cy="252.7" r="1.0"/>
<circle cx="1756.7" cy="270.5" r="1.4"/>
<circle cx="1769.6" cy="253.3" r="1.1"/>
<circle cx="1763.5" cy="256.5" r="0.8"/>
<circle cx="1761.7" cy="259.3" r="1.4"/>
<circle cx="1762.5" cy="260.1" r="1.1"/>
<circle cx="1772.3" cy="252.9" r="0.9"/>
<circle cx="1784.9" cy="248.3" r="1.2"/>
<circle cx="1786.1" cy="251.4" r="0.9"/>
<circle cx="1763.6" cy="255.4" r="1.0"/>
<circle cx="1781.5" cy="250.1" r="1.5"/>
<circle cx="1761.7" cy="256.8" r="1.7"/>
<circle cx="1758.4" cy="263.3" r="1.3"/>
<circle cx="1789.8" cy="249.0" r="1.5"/>
<circle cx="1779.3" cy="249.9" r="0.8"/>
<circle cx="1770.1" cy="252.9" r="1.1"/>
<circle cx="1766.1" cy="256.4" r="0.9"/>
<circle cx="1762.1" cy="258.9" r="1.8"/>
<circle cx="1776.2" cy="251.0" r="1.4"/>
<circle cx="1790.1" cy="252.9" r="1.2"/>
<circle cx="1777.2" cy="249.0" r="0.9"/>
<circle cx="1789.5" cy="251.8" r="1.2"/>
<circle cx="1759.2" cy="259.4" r="1.2"/>
<circle cx="1764.8" cy="254.2" r="1.0"/>
<circle cx="1789.0" cy="249.3" r="1.5"/>
<circle cx="1756.9" cy="267.5" r="1.0"/>
<circle cx="1771.1" cy="251.6" r="1.8"/>
<circle cx="1787.3" cy="250.6" r="1.5"/>
<circle cx="1755.1" cy="271.7" r="1.6"/>
<circle cx="1761.7" cy="261.8" r="1.5"/>
<circle cx="1780.7" cy="250.3" r="1.4"/>
<circle cx="1757.8" cy="270.4" r="0.8"/>
<circle cx="1774.2" cy="250.4" r="0.9"/>
<circle cx="1761.8" cy="254.9" r="1.7"/>
<circle cx="1757.7" cy="262.3" r="1.8"/>
<circle cx="1757.5" cy="261.6" r="1.4"/>
<circle cx="1758.5" cy="263.6" r="1.1"/>
<circle cx="1779.9" cy="249.1" r="1.5"/>
<circle cx="1781.7" cy="249.7" r="1.2"/>
<circle cx="1752.1" cy="273.0" r="1.4"/>
<circle cx="1775.3" cy="250.3" r="1.1"/>
<circle cx="1774.4" cy="250.6" r="1.3"/>
<circle cx="1783.9" cy="250.8" r="1.1"/>
<circle cx="1771.0" cy="252.5" r="0.9"/>
<circle cx="1770.3" cy="249.9" r="0.9"/>
<circle cx="1777.8" cy="253.2" r="0.8"/>
<circle cx="1782.3" cy="253.3" r="0.7"/>
<circle cx="1772.2" cy="252.6" r="0.9"/>
<circle cx="1782.6" cy="254.8" r="1.3"/>
<circle cx="1770.6" cy="249.9" r="1.3"/>
<circle cx="1781.4" cy="252.0" r="0.7"/>
<circle cx="1781.8" cy="253.5" r="1.0"/>
<circle cx="1780.5" cy="252.2" r="0.9"/>
<circle cx="1774.6" cy="254.5" r="0.7"/>
<circle cx="1771.0" cy="252.5" r="0.8"/>
<circle cx="1883.2" cy="259.8" r="1.1"/>
<circle cx="1900.4" cy="261.3" r="0.8"/>
<circle cx="1913.7" cy="253.4" r="1.3"/>
<circle cx="1902.4" cy="259.4" r="1.4"/>
<circle cx="1881.2" cy="257.7" r="1.1"/>
<circle cx="1896.9" cy="266.0" r="1.1"/>
<circle cx="1882.1" cy="258.6" r="1.4"/>
<circle cx="1898.9" cy="263.4" r="1.4"/>
<circle cx="1895.1" cy="271.5" r="1.0"/>
<circle cx="1915.5" cy="254.2" r="0.7"/>
<circle cx="1887.1" cy="266.6" r="1.3"/>
<circle cx="1897.6" cy="265.7" r="1.1"/>
<circle cx="1910.2" cy="257.4" r="1.1"/>
<circle cx="1906.0" cy="260.8" r="1.0"/>
<circle cx="1878.3" cy="259.7" r="1.1"/>
<circle cx="1907.1" cy="257.2" r="0.7"/>
<circle cx="1889.1" cy="268.9" r="1.2"/>
<circle cx="1881.3" cy="259.4" r="1.1"/>
<circle cx="1911.9" cy="254.1" r="0.9"/>
<circle cx="1889.3" cy="271.4" r="1.3"/>
<circle cx="1898.0" cy="263.9" r="1.0"/>
<circle cx="1890.8" cy="271.9" r="1.1"/>
<circle cx="1877.7" cy="258.6" r="1.3"/>
<circle cx="1903.6" cy="262.1" r="1.0"/>
<circle cx="1886.2" cy="269.3" r="1.2"/>
<circle cx="1897.3" cy="266.9" r="0.9"/>
<circle cx="1903.7" cy="260.5" r="0.7"/>
<circle cx="1888.3" cy="267.4" r="1.1"/>
<circle cx="1888.1" cy="268.9" r="1.3"/>
<circle cx="1911.0" cy="256.0" r="0.9"/>
<circle cx="1906.6" cy="260.8" r="0.9"/>
<circle cx="1910.5" cy="255.8" r="0.9"/>
<circle cx="1897.0" cy="266.1" r="0.9"/>
<circle cx="1899.3" cy="261.4" r="0.9"/>
<circle cx="1892.7" cy="270.6" r="1.2"/>
<circle cx="1886.9" cy="264.8" r="0.9"/>
<circle cx="1879.0" cy="259.5" r="1.0"/>
<circle cx="1881.1" cy="260.4" r="0.7"/>
<circle cx="1902.5" cy="260.6" r="1.1"/>
<circle cx="1914.7" cy="252.8" r="1.2"/>
<circle cx="1886.6" cy="267.9" r="1.2"/>
<circle cx="1890.1" cy="271.4" r="1.3"/>
<circle cx="1876.5" cy="257.3" r="0.9"/>
<circle cx="1896.5" cy="266.1" r="1.1"/>
<circle cx="1882.0" cy="256.9" r="1.0"/>
<circle cx="1881.3" cy="257.2" r="0.8"/>
<circle cx="1898.9" cy="264.6" r="0.8"/>
<circle cx="1892.7" cy="269.7" r="1.3"/>
<circle cx="1882.9" cy="257.7" r="0.8"/>
<circle cx="1884.0" cy="258.5" r="0.9"/>
<circle cx="1896.8" cy="268.0" r="1.2"/>
<circle cx="1875.0" cy="256.3" r="1.4"/>
<circle cx="1887.8" cy="265.1" r="1.1"/>
<circle cx="1912.5" cy="255.7" r="0.8"/>
<circle cx="1912.0" cy="255.4" r="1.3"/>
<circle cx="1901.9" cy="259.9" r="1.0"/>
<circle cx="1899.8" cy="263.0" r="1.3"/>
<circle cx="1876.7" cy="257.9" r="1.0"/>
<circle cx="1907.1" cy="258.0" r="0.9"/>
<circle cx="1880.1" cy="260.4" r="0.9"/>
<circle cx="1747.4" cy="303.3" r="1.0"/>
<circle cx="1736.2" cy="316.6" r="0.8"/>
<circle cx="1741.4" cy="295.2" r="0.8"/>
<circle cx="1742.5" cy="294.6" r="0.7"/>
<circle cx="1744.8" cy="285.8" r="0.8"/>
<circle cx="1737.6" cy="318.4" r="0.9"/>
<circle cx="1742.1" cy="320.4" r="0.8"/>
<circle cx="1737.0" cy="314.6" r="0.9"/>
<circle cx="1747.0" cy="302.7" r="0.7"/>
<circle cx="1739.5" cy="318.8" r="1.2"/>
<circle cx="1746.2" cy="330.3" r="0.8"/>
<circle cx="1747.4" cy="303.0" r="0.8"/>
<circle cx="1735.8" cy="315.9" r="1.1"/>
<circle cx="1736.8" cy="316.1" r="1.1"/>
<circle cx="1748.0" cy="331.1" r="0.9"/>
<circle cx="1740.4" cy="320.1" r="1.0"/>
<circle cx="1744.1" cy="305.6" r="0.7"/>
<circle cx="1745.2" cy="303.0" r="0.7"/>
<circle cx="1743.1" cy="306.2" r="1.0"/>
<circle cx="1743.0" cy="289.4" r="0.9"/>
<circle cx="1740.8" cy="319.1" r="1.0"/>
<circle cx="1742.5" cy="290.5" r="1.1"/>
<circle cx="1750.1" cy="335.1" r="0.8"/>
<circle cx="1741.1" cy="318.3" r="0.8"/>
<circle cx="1748.5" cy="332.8" r="1.1"/>
<circle cx="1743.6" cy="299.6" r="0.8"/>
<circle cx="1741.6" cy="292.9" r="0.6"/>
<circle cx="1743.7" cy="324.7" r="0.9"/>
<circle cx="1746.7" cy="327.6" r="0.7"/>
<circle cx="1742.0" cy="323.0" r="0.8"/>
<circle cx="1741.6" cy="299.0" r="1.1"/>
<circle cx="1746.6" cy="328.2" r="0.7"/>
<circle cx="1745.3" cy="301.6" r="1.1"/>
<circle cx="1750.4" cy="336.8" r="1.2"/>
<circle cx="1742.6" cy="308.1" r="0.7"/>
<circle cx="1737.4" cy="316.5" r="1.1"/>
<circle cx="1744.2" cy="288.2" r="1.1"/>
<circle cx="1742.0" cy="292.6" r="1.1"/>
<circle cx="1740.5" cy="319.4" r="0.7"/>
<circle cx="1736.6" cy="316.1" r="1.2"/>
<circle cx="1662.7" cy="362.6" r="0.8"/>
<circle cx="1695.4" cy="354.9" r="1.0"/>
<circle cx="1734.2" cy="348.0" r="0.7"/>
<circle cx="1744.6" cy="340.1" r="0.8"/>
<circle cx="1722.3" cy="349.2" r="0.9"/>
<circle cx="1740.0" cy="342.2" r="0.6"/>
<circle cx="1732.6" cy="347.5" r="0.8"/>
<circle cx="1674.6" cy="357.6" r="1.1"/>
<circle cx="1687.6" cy="355.4" r="1.0"/>
<circle cx="1703.1" cy="354.4" r="1.2"/>
<circle cx="1727.9" cy="349.9" r="0.9"/>
<circle cx="1667.0" cy="360.5" r="0.8"/>
<circle cx="1681.7" cy="354.9" r="0.7"/>
<circle cx="1729.1" cy="348.9" r="1.0"/>
<circle cx="1739.4" cy="344.6" r="0.7"/>
<circle cx="1702.6" cy="354.1" r="0.9"/>
<circle cx="1663.2" cy="361.9" r="0.9"/>
<circle cx="1713.8" cy="352.8" r="0.8"/>
<circle cx="1687.2" cy="353.8" r="0.8"/>
<circle cx="1716.5" cy="352.2" r="1.2"/>
<circle cx="1666.0" cy="361.8" r="0.9"/>
<circle cx="1698.5" cy="353.6" r="0.8"/>
<circle cx="1717.2" cy="351.6" r="0.6"/>
<circle cx="1689.9" cy="354.4" r="0.7"/>
<circle cx="1721.9" cy="349.8" r="1.1"/>
<circle cx="1736.1" cy="347.4" r="1.0"/>
<circle cx="1743.3" cy="342.3" r="0.9"/>
<circle cx="1672.4" cy="357.6" r="0.8"/>
<circle cx="1675.5" cy="356.0" r="0.7"/>
<circle cx="1734.9" cy="347.7" r="0.9"/>
<circle cx="1716.0" cy="351.8" r="1.0"/>
<circle cx="1733.1" cy="347.1" r="0.7"/>
<circle cx="1719.9" cy="350.3" r="1.0"/>
<circle cx="1701.8" cy="354.2" r="0.7"/>
<circle cx="1683.8" cy="355.6" r="1.2"/>
<circle cx="1702.7" cy="353.5" r="0.9"/>
<circle cx="1721.4" cy="349.6" r="1.0"/>
<circle cx="1676.7" cy="358.0" r="1.1"/>
<circle cx="1714.4" cy="351.1" r="1.1"/>
<circle cx="1685.3" cy="354.9" r="0.8"/>
<circle cx="1677.7" cy="356.9" r="1.2"/>
<circle cx="1679.1" cy="355.2" r="1.2"/>
<circle cx="1667.3" cy="359.6" r="1.1"/>
<circle cx="1680.7" cy="354.7" r="1.2"/>
<circle cx="1741.0" cy="342.0" r="1.1"/>
<circle cx="1664.3" cy="362.3" r="1.2"/>
<circle cx="1720.8" cy="349.7" r="1.1"/>
<circle cx="1738.6" cy="346.2" r="0.7"/>
<circle cx="1693.6" cy="356.5" r="0.9"/>
<circle cx="1707.6" cy="354.1" r="0.7"/>
<circle cx="1676.9" cy="357.7" r="1.2"/>
<circle cx="1706.1" cy="352.7" r="0.8"/>
<circle cx="1732.1" cy="348.6" r="0.6"/>
<circle cx="1696.6" cy="355.6" r="0.9"/>
<circle cx="1665.5" cy="359.6" r="0.9"/>
<circle cx="1728.2" cy="349.8" r="1.0"/>
<circle cx="1673.8" cy="357.6" r="0.8"/>
<circle cx="1719.9" cy="350.9" r="1.0"/>
<circle cx="1747.2" cy="341.1" r="1.2"/>
<circle cx="1701.0" cy="353.8" r="1.0"/>
<circle cx="1728.8" cy="344.7" r="1.1"/>
<circle cx="1725.4" cy="344.6" r="1.1"/>
<circle cx="1725.7" cy="344.9" r="1.0"/>
<circle cx="1726.5" cy="339.7" r="1.2"/>
<circle cx="1728.4" cy="344.6" r="1.1"/>
<circle cx="1728.3" cy="345.4" r="1.2"/>
<circle cx="1728.4" cy="341.3" r="1.3"/>
<circle cx="1728.6" cy="342.7" r="1.4"/>
<circle cx="1726.0" cy="339.9" r="1.4"/>
<circle cx="1729.0" cy="342.4" r="1.3"/>
<circle cx="1726.3" cy="344.0" r="1.0"/>
<circle cx="1725.5" cy="340.9" r="1.4"/>
<circle cx="1729.1" cy="340.6" r="1.1"/>
<circle cx="1728.4" cy="345.7" r="1.6"/>
<circle cx="1653.7" cy="374.8" r="1.1"/>
<circle cx="1662.6" cy="369.3" r="1.0"/>
<circle cx="1656.8" cy="372.0" r="0.9"/>
<circle cx="1697.4" cy="360.9" r="0.9"/>
<circle cx="1679.7" cy="366.2" r="0.8"/>
<circle cx="1654.0" cy="373.9" r="0.9"/>
<circle cx="1692.7" cy="362.9" r="0.8"/>
<circle cx="1677.3" cy="366.6" r="0.8"/>
<circle cx="1683.4" cy="366.0" r="0.9"/>
<circle cx="1650.4" cy="380.1" r="1.1"/>
<circle cx="1670.0" cy="368.5" r="0.7"/>
<circle cx="1649.0" cy="380.4" r="0.9"/>
<circle cx="1651.1" cy="378.5" r="0.8"/>
<circle cx="1656.2" cy="372.6" r="0.9"/>
<circle cx="1674.7" cy="367.0" r="1.1"/>
<circle cx="1694.6" cy="362.2" r="0.9"/>
<circle cx="1666.7" cy="369.1" r="1.0"/>
<circle cx="1692.1" cy="363.3" r="1.1"/>
<circle cx="1674.4" cy="366.2" r="0.8"/>
<circle cx="1680.1" cy="366.1" r="1.0"/>
<circle cx="1667.7" cy="369.0" r="0.9"/>
<circle cx="1649.9" cy="379.3" r="0.8"/>
<circle cx="1653.9" cy="375.0" r="1.0"/>
<circle cx="1651.1" cy="378.2" r="1.1"/>
<circle cx="1651.9" cy="377.6" r="0.9"/>
<circle cx="1650.9" cy="376.7" r="1.0"/>
<circle cx="1674.7" cy="366.2" r="0.9"/>
<circle cx="1698.7" cy="360.9" r="1.0"/>
<circle cx="1705.0" cy="359.0" r="0.8"/>
<circle cx="1691.9" cy="363.2" r="0.9"/>
<circle cx="1706.7" cy="362.1" r="0.8"/>
<circle cx="1697.9" cy="363.9" r="0.9"/>
<circle cx="1700.5" cy="362.3" r="1.1"/>
<circle cx="1700.5" cy="362.0" r="1.2"/>
<circle cx="1701.5" cy="361.7" r="1.1"/>
<circle cx="1703.2" cy="363.6" r="1.0"/>
<circle cx="1696.1" cy="363.7" r="1.0"/>
<circle cx="1704.1" cy="364.0" r="0.9"/>
<circle cx="1703.2" cy="363.2" r="1.0"/>
<circle cx="1705.0" cy="363.5" r="1.2"/>
<circle cx="1697.9" cy="362.2" r="0.9"/>
<circle cx="1697.0" cy="362.8" r="1.2"/>
<circle cx="1641.3" cy="420.8" r="0.9"/>
<circle cx="1642.1" cy="420.7" r="0.8"/>
<circle cx="1646.1" cy="412.8" r="0.8"/>
<circle cx="1631.2" cy="433.6" r="1.0"/>
<circle cx="1645.7" cy="415.7" r="0.6"/>
<circle cx="1648.0" cy="406.0" r="0.9"/>
<circle cx="1647.1" cy="411.5" r="0.9"/>
<circle cx="1649.7" cy="398.8" r="1.0"/>
<circle cx="1631.9" cy="435.9" r="0.7"/>
<circle cx="1628.5" cy="438.6" r="0.9"/>
<circle cx="1630.6" cy="437.9" r="0.8"/>
<circle cx="1649.7" cy="394.5" r="1.0"/>
<circle cx="1649.9" cy="391.9" r="0.8"/>
<circle cx="1651.1" cy="388.7" r="1.1"/>
<circle cx="1644.4" cy="419.0" r="0.7"/>
<circle cx="1649.8" cy="400.1" r="0.9"/>
<circle cx="1647.8" cy="409.3" r="1.2"/>
<circle cx="1630.8" cy="436.3" r="0.6"/>
<circle cx="1632.4" cy="432.7" r="0.9"/>
<circle cx="1627.8" cy="439.1" r="0.7"/>
<circle cx="1631.0" cy="435.6" r="1.2"/>
<circle cx="1647.8" cy="409.4" r="1.1"/>
<circle cx="1644.8" cy="416.4" r="1.1"/>
<circle cx="1647.5" cy="411.5" r="0.8"/>
<circle cx="1647.0" cy="408.6" r="1.2"/>
<circle cx="1642.3" cy="420.4" r="0.8"/>
<circle cx="1642.0" cy="419.6" r="1.1"/>
<circle cx="1650.5" cy="395.7" r="0.8"/>
<circle cx="1648.3" cy="403.3" r="1.2"/>
<circle cx="1649.5" cy="396.5" r="0.8"/>
<circle cx="1639.3" cy="423.7" r="0.6"/>
<circle cx="1636.2" cy="429.5" r="0.9"/>
<circle cx="1650.5" cy="392.3" r="0.8"/>
<circle cx="1651.2" cy="389.1" r="0.8"/>
<circle cx="1648.3" cy="399.4" r="0.7"/>
<circle cx="1626.7" cy="440.8" r="0.9"/>
<circle cx="1608.1" cy="487.5" r="1.2"/>
<circle cx="1613.0" cy="478.3" r="0.7"/>
<circle cx="1601.6" cy="500.6" r="1.0"/>
<circle cx="1607.5" cy="485.9" r="0.8"/>
<circle cx="1616.7" cy="468.7" r="0.9"/>
<circle cx="1604.5" cy="495.0" r="0.8"/>
<circle cx="1610.3" cy="483.3" r="0.7"/>
<circle cx="1609.5" cy="484.6" r="0.8"/>
<circle cx="1610.9" cy="483.2" r="1.3"/>
<circle cx="1598.6" cy="503.9" r="0.9"/>
<circle cx="1597.6" cy="505.3" r="1.1"/>
<circle cx="1619.7" cy="461.8" r="0.7"/>
<circle cx="1609.8" cy="483.4" r="1.0"/>
<circle cx="1618.5" cy="467.4" r="1.2"/>
<circle cx="1617.1" cy="471.5" r="0.9"/>
<circle cx="1618.7" cy="468.8" r="1.3"/>
<circle cx="1609.6" cy="487.4" r="1.1"/>
<circle cx="1615.0" cy="473.6" r="1.2"/>
<circle cx="1610.3" cy="485.6" r="1.1"/>
<circle cx="1617.7" cy="466.3" r="0.8"/>
<circle cx="1618.4" cy="465.6" r="0.7"/>
<circle cx="1601.1" cy="503.2" r="0.8"/>
<circle cx="1615.9" cy="471.9" r="1.2"/>
<circle cx="1619.7" cy="458.3" r="0.6"/>
<circle cx="1600.0" cy="502.5" r="0.9"/>
<circle cx="1608.9" cy="488.0" r="0.9"/>
<circle cx="1612.5" cy="479.5" r="0.8"/>
<circle cx="1602.3" cy="501.1" r="0.8"/>
<circle cx="1613.7" cy="475.0" r="0.6"/>
<circle cx="1617.4" cy="466.2" r="1.3"/>
<circle cx="1595.4" cy="520.7" r="1.0"/>
<circle cx="1601.1" cy="540.8" r="1.1"/>
<circle cx="1596.7" cy="527.5" r="1.1"/>
<circle cx="1595.1" cy="520.5" r="1.0"/>
<circle cx="1603.4" cy="546.9" r="0.6"/>
<circle cx="1595.2" cy="521.9" r="0.7"/>
<circle cx="1605.1" cy="547.9" r="0.8"/>
<circle cx="1608.4" cy="569.8" r="0.9"/>
<circle cx="1599.5" cy="578.5" r="0.6"/>
<circle cx="1595.6" cy="519.5" r="1.1"/>
<circle cx="1599.9" cy="536.8" r="0.8"/>
<circle cx="1608.0" cy="568.2" r="1.0"/>
<circle cx="1604.0" cy="548.4" r="0.8"/>
<circle cx="1604.4" cy="576.7" r="0.7"/>
<circle cx="1609.5" cy="562.0" r="0.8"/>
<circle cx="1600.7" cy="578.1" r="0.7"/>
<circle cx="1596.2" cy="521.9" r="0.6"/>
<circle cx="1607.3" cy="553.3" r="1.0"/>
<circle cx="1602.0" cy="576.6" r="0.7"/>
<circle cx="1602.4" cy="576.6" r="0.7"/>
<circle cx="1608.1" cy="563.9" r="0.7"/>
<circle cx="1607.0" cy="555.7" r="0.7"/>
<circle cx="1606.1" cy="575.7" r="0.9"/>
<circle cx="1608.3" cy="562.6" r="0.8"/>
<circle cx="1577.9" cy="564.5" r="0.8"/>
<circle cx="1567.5" cy="564.5" r="1.0"/>
<circle cx="1582.3" cy="566.7" r="0.8"/>
<circle cx="1581.7" cy="567.2" r="1.0"/>
<circle cx="1581.8" cy="568.0" r="0.7"/>
<circle cx="1575.7" cy="565.4" r="1.2"/>
<circle cx="1573.3" cy="566.9" r="1.1"/>
<circle cx="1582.7" cy="568.6" r="0.7"/>
<circle cx="1578.2" cy="565.3" r="0.8"/>
<circle cx="1567.2" cy="565.5" r="1.2"/>
<circle cx="1581.1" cy="566.4" r="0.9"/>
<circle cx="1578.7" cy="568.0" r="1.0"/>
<circle cx="1565.5" cy="566.6" r="0.7"/>
<circle cx="1578.7" cy="566.8" r="1.1"/>
<circle cx="1579.6" cy="543.1" r="0.9"/>
<circle cx="1571.4" cy="543.0" r="0.7"/>
<circle cx="1580.8" cy="542.3" r="0.9"/>
<circle cx="1588.2" cy="538.1" r="1.0"/>
<circle cx="1583.5" cy="541.6" r="0.8"/>
<circle cx="1579.3" cy="542.7" r="0.9"/>
<circle cx="1587.4" cy="538.6" r="1.0"/>
<circle cx="1583.0" cy="540.5" r="1.0"/>
<circle cx="1580.2" cy="543.0" r="1.0"/>
<circle cx="1574.8" cy="542.9" r="0.9"/>
<circle cx="1589.1" cy="537.4" r="0.9"/>
<circle cx="1588.3" cy="541.0" r="1.1"/>
<circle cx="1748.3" cy="351.5" r="0.7"/>
<circle cx="1740.9" cy="351.5" r="1.1"/>
<circle cx="1748.9" cy="352.2" r="0.6"/>
<circle cx="1742.3" cy="348.5" r="0.8"/>
<circle cx="1750.4" cy="346.9" r="0.6"/>
<circle cx="1750.2" cy="347.5" r="1.0"/>
<circle cx="1750.8" cy="351.8" r="0.9"/>
<circle cx="1739.3" cy="350.4" r="0.8"/>
<circle cx="1751.5" cy="348.1" r="0.7"/>
<circle cx="1750.8" cy="352.0" r="0.7"/>
<circle cx="1751.0" cy="350.8" r="0.9"/>
<circle cx="1747.0" cy="353.5" r="0.7"/>
<circle cx="1747.8" cy="352.2" r="0.9"/>
<circle cx="1747.8" cy="352.3" r="1.0"/>
</g>
<g fill="#000">
<circle cx="1719.2" cy="358.4" r="1.5"/>
<circle cx="1879.7" cy="271" r="1.6"/>
<circle cx="1880.3" cy="268" r="1.0"/>
<circle cx="1793.5" cy="252.4" r="0.9"/><circle cx="1797.5" cy="254.4" r="1.0"/><circle cx="1800" cy="252.5" r="0.8"/>
<circle cx="1747.3" cy="289.3" r="1.1"/>
</g>
<polyline points="1605.2,420 1604.9,417 1608.2,412 1609.6,410" fill="none" stroke="#000" stroke-width="1.5"/>
<g fill="none" stroke="#000" stroke-width="1.35" stroke-linejoin="round">
<polyline points="1666.6,248.9 1668.1,256.1 1667.6,265.2 1671.1,266.7 1671.6,298.5"/>
<polyline points="1705.5,248.9 1698.4,263.2 1695.4,277.3 1692.3,292.5 1694.3,299.0"/>
<polyline points="1736.3,248.9 1737.3,271.3 1743.8,285.4"/>
<polyline points="1671.6,298.5 1726.7,300.1 1731.7,295.5 1740.8,292.5"/>
<polyline points="1671.6,298.5 1664.5,324.8 1665.5,330.0 1664.3,359.7 1658.6,361.6 1659.9,363.5"/>
<polyline points="1664.5,324.8 1685.3,326.3 1725.7,327.0"/>
<polyline points="1713.5,327.0 1713.5,330.0 1713.9,351.8"/>
<polyline points="1725.7,327.0 1727.0,333.0 1729.0,338.0"/>
<polyline points="1563.5,327.3 1611.5,327.3 1616.6,331.9 1620.7,337.6 1622.0,345.2 1629.5,350.8"/>
<polyline points="1629.5,352.1 1652.9,366.0"/>
<polyline points="1629.5,352.1 1623.2,359.1 1618.2,366.6 1619.4,371.7 1616.3,378.0 1619.4,384.3 1624.5,390.6 1629.5,397.0 1619.4,403.9"/>
<polyline points="1563.5,413.4 1599.2,413.4"/>
<polyline points="1599.2,413.4 1602.4,409.8 1605.5,409.0"/>
<polyline points="1599.2,413.4 1599.2,420.0 1601.1,459.8 1618.2,460.2"/>
<polyline points="1601.7,476.8 1609.3,477.5"/>
<polyline points="1563.5,528.3 1597.0,528.3"/>
</g>
<polyline points="1790,248.9 1874.6,248.9" fill="none" stroke="#000" stroke-width="1.6"/>
<polyline points="1918.2,248.9 1966.5,248.9 1966.5,584.1 1588.6,584.1" fill="none" stroke="#000" stroke-width="1.6"/>
<circle cx="1727.1" cy="534.9" r="4.1" fill="#ff0000" stroke="#000" stroke-width="1.1"/>
<circle cx="1727.7" cy="536.0" r="4.1" fill="#ff0000" stroke="#000" stroke-width="1.1"/>
<circle cx="1728.4" cy="537.3" r="4.1" fill="#ff0000" stroke="#000" stroke-width="1.1"/>
</g>
<g stroke="#000" fill="none">
<line x1="1564.9" y1="248.6" x2="1564.9" y2="245.5" stroke-width="1.7"/>
<line x1="1564.9" y1="584.1" x2="1564.9" y2="587.2" stroke-width="1.7"/>
<line x1="1579.2" y1="248.6" x2="1579.2" y2="245.5" stroke-width="1.7"/>
<line x1="1579.2" y1="584.1" x2="1579.2" y2="587.2" stroke-width="1.7"/>
<line x1="1593.5" y1="248.6" x2="1593.5" y2="239.7" stroke-width="2.9"/>
<line x1="1593.5" y1="584.1" x2="1593.5" y2="593" stroke-width="2.9"/>
<line x1="1607.8" y1="248.6" x2="1607.8" y2="245.5" stroke-width="1.7"/>
<line x1="1607.8" y1="584.1" x2="1607.8" y2="587.2" stroke-width="1.7"/>
<line x1="1622.1" y1="248.6" x2="1622.1" y2="245.5" stroke-width="1.7"/>
<line x1="1622.1" y1="584.1" x2="1622.1" y2="587.2" stroke-width="1.7"/>
<line x1="1636.4" y1="248.6" x2="1636.4" y2="245.5" stroke-width="1.7"/>
<line x1="1636.4" y1="584.1" x2="1636.4" y2="587.2" stroke-width="1.7"/>
<line x1="1650.7" y1="248.6" x2="1650.7" y2="239.7" stroke-width="2.9"/>
<line x1="1650.7" y1="584.1" x2="1650.7" y2="593" stroke-width="2.9"/>
<line x1="1665" y1="248.6" x2="1665" y2="245.5" stroke-width="1.7"/>
<line x1="1665" y1="584.1" x2="1665" y2="587.2" stroke-width="1.7"/>
<line x1="1679.3" y1="248.6" x2="1679.3" y2="245.5" stroke-width="1.7"/>
<line x1="1679.3" y1="584.1" x2="1679.3" y2="587.2" stroke-width="1.7"/>
<line x1="1693.6" y1="248.6" x2="1693.6" y2="245.5" stroke-width="1.7"/>
<line x1="1693.6" y1="584.1" x2="1693.6" y2="587.2" stroke-width="1.7"/>
<line x1="1707.9" y1="248.6" x2="1707.9" y2="239.7" stroke-width="2.9"/>
<line x1="1707.9" y1="584.1" x2="1707.9" y2="593" stroke-width="2.9"/>
<line x1="1722.2" y1="248.6" x2="1722.2" y2="245.5" stroke-width="1.7"/>
<line x1="1722.2" y1="584.1" x2="1722.2" y2="587.2" stroke-width="1.7"/>
<line x1="1736.5" y1="248.6" x2="1736.5" y2="245.5" stroke-width="1.7"/>
<line x1="1736.5" y1="584.1" x2="1736.5" y2="587.2" stroke-width="1.7"/>
<line x1="1750.8" y1="248.6" x2="1750.8" y2="245.5" stroke-width="1.7"/>
<line x1="1750.8" y1="584.1" x2="1750.8" y2="587.2" stroke-width="1.7"/>
<line x1="1765.1" y1="248.6" x2="1765.1" y2="239.7" stroke-width="2.9"/>
<line x1="1765.1" y1="584.1" x2="1765.1" y2="593" stroke-width="2.9"/>
<line x1="1779.4" y1="248.6" x2="1779.4" y2="245.5" stroke-width="1.7"/>
<line x1="1779.4" y1="584.1" x2="1779.4" y2="587.2" stroke-width="1.7"/>
<line x1="1793.7" y1="248.6" x2="1793.7" y2="245.5" stroke-width="1.7"/>
<line x1="1793.7" y1="584.1" x2="1793.7" y2="587.2" stroke-width="1.7"/>
<line x1="1808" y1="248.6" x2="1808" y2="245.5" stroke-width="1.7"/>
<line x1="1808" y1="584.1" x2="1808" y2="587.2" stroke-width="1.7"/>
<line x1="1822.3" y1="248.6" x2="1822.3" y2="239.7" stroke-width="2.9"/>
<line x1="1822.3" y1="584.1" x2="1822.3" y2="593" stroke-width="2.9"/>
<line x1="1836.6" y1="248.6" x2="1836.6" y2="245.5" stroke-width="1.7"/>
<line x1="1836.6" y1="584.1" x2="1836.6" y2="587.2" stroke-width="1.7"/>
<line x1="1850.9" y1="248.6" x2="1850.9" y2="245.5" stroke-width="1.7"/>
<line x1="1850.9" y1="584.1" x2="1850.9" y2="587.2" stroke-width="1.7"/>
<line x1="1865.2" y1="248.6" x2="1865.2" y2="245.5" stroke-width="1.7"/>
<line x1="1865.2" y1="584.1" x2="1865.2" y2="587.2" stroke-width="1.7"/>
<line x1="1879.5" y1="248.6" x2="1879.5" y2="239.7" stroke-width="2.9"/>
<line x1="1879.5" y1="584.1" x2="1879.5" y2="593" stroke-width="2.9"/>
<line x1="1893.8" y1="248.6" x2="1893.8" y2="245.5" stroke-width="1.7"/>
<line x1="1893.8" y1="584.1" x2="1893.8" y2="587.2" stroke-width="1.7"/>
<line x1="1908.1" y1="248.6" x2="1908.1" y2="245.5" stroke-width="1.7"/>
<line x1="1908.1" y1="584.1" x2="1908.1" y2="587.2" stroke-width="1.7"/>
<line x1="1922.4" y1="248.6" x2="1922.4" y2="245.5" stroke-width="1.7"/>
<line x1="1922.4" y1="584.1" x2="1922.4" y2="587.2" stroke-width="1.7"/>
<line x1="1936.7" y1="248.6" x2="1936.7" y2="239.7" stroke-width="2.9"/>
<line x1="1936.7" y1="584.1" x2="1936.7" y2="593" stroke-width="2.9"/>
<line x1="1951" y1="248.6" x2="1951" y2="245.5" stroke-width="1.7"/>
<line x1="1951" y1="584.1" x2="1951" y2="587.2" stroke-width="1.7"/>
<line x1="1965.3" y1="248.6" x2="1965.3" y2="245.5" stroke-width="1.7"/>
<line x1="1965.3" y1="584.1" x2="1965.3" y2="587.2" stroke-width="1.7"/>
<line x1="1563.5" y1="583.89" x2="1560.4" y2="583.89" stroke-width="1.7"/>
<line x1="1966.5" y1="583.89" x2="1969.6" y2="583.89" stroke-width="1.7"/>
<line x1="1563.5" y1="566.38" x2="1560.4" y2="566.38" stroke-width="1.7"/>
<line x1="1966.5" y1="566.38" x2="1969.6" y2="566.38" stroke-width="1.7"/>
<line x1="1563.5" y1="548.76" x2="1554.6" y2="548.76" stroke-width="2.9"/>
<line x1="1966.5" y1="548.76" x2="1975.4" y2="548.76" stroke-width="2.9"/>
<line x1="1563.5" y1="531.03" x2="1560.4" y2="531.03" stroke-width="1.7"/>
<line x1="1966.5" y1="531.03" x2="1969.6" y2="531.03" stroke-width="1.7"/>
<line x1="1563.5" y1="513.18" x2="1560.4" y2="513.18" stroke-width="1.7"/>
<line x1="1966.5" y1="513.18" x2="1969.6" y2="513.18" stroke-width="1.7"/>
<line x1="1563.5" y1="495.22" x2="1560.4" y2="495.22" stroke-width="1.7"/>
<line x1="1966.5" y1="495.22" x2="1969.6" y2="495.22" stroke-width="1.7"/>
<line x1="1563.5" y1="477.13" x2="1554.6" y2="477.13" stroke-width="2.9"/>
<line x1="1966.5" y1="477.13" x2="1975.4" y2="477.13" stroke-width="2.9"/>
<line x1="1563.5" y1="458.92" x2="1560.4" y2="458.92" stroke-width="1.7"/>
<line x1="1966.5" y1="458.92" x2="1969.6" y2="458.92" stroke-width="1.7"/>
<line x1="1563.5" y1="440.59" x2="1560.4" y2="440.59" stroke-width="1.7"/>
<line x1="1966.5" y1="440.59" x2="1969.6" y2="440.59" stroke-width="1.7"/>
<line x1="1563.5" y1="422.12" x2="1560.4" y2="422.12" stroke-width="1.7"/>
<line x1="1966.5" y1="422.12" x2="1969.6" y2="422.12" stroke-width="1.7"/>
<line x1="1563.5" y1="403.52" x2="1554.6" y2="403.52" stroke-width="2.9"/>
<line x1="1966.5" y1="403.52" x2="1975.4" y2="403.52" stroke-width="2.9"/>
<line x1="1563.5" y1="384.79" x2="1560.4" y2="384.79" stroke-width="1.7"/>
<line x1="1966.5" y1="384.79" x2="1969.6" y2="384.79" stroke-width="1.7"/>
<line x1="1563.5" y1="365.91" x2="1560.4" y2="365.91" stroke-width="1.7"/>
<line x1="1966.5" y1="365.91" x2="1969.6" y2="365.91" stroke-width="1.7"/>
<line x1="1563.5" y1="346.89" x2="1560.4" y2="346.89" stroke-width="1.7"/>
<line x1="1966.5" y1="346.89" x2="1969.6" y2="346.89" stroke-width="1.7"/>
<line x1="1563.5" y1="327.72" x2="1554.6" y2="327.72" stroke-width="2.9"/>
<line x1="1966.5" y1="327.72" x2="1975.4" y2="327.72" stroke-width="2.9"/>
<line x1="1563.5" y1="308.4" x2="1560.4" y2="308.4" stroke-width="1.7"/>
<line x1="1966.5" y1="308.4" x2="1969.6" y2="308.4" stroke-width="1.7"/>
<line x1="1563.5" y1="288.93" x2="1560.4" y2="288.93" stroke-width="1.7"/>
<line x1="1966.5" y1="288.93" x2="1969.6" y2="288.93" stroke-width="1.7"/>
<line x1="1563.5" y1="269.3" x2="1560.4" y2="269.3" stroke-width="1.7"/>
<line x1="1966.5" y1="269.3" x2="1969.6" y2="269.3" stroke-width="1.7"/>
<line x1="1563.5" y1="249.5" x2="1554.6" y2="249.5" stroke-width="2.9"/>
<line x1="1966.5" y1="249.5" x2="1975.4" y2="249.5" stroke-width="2.9"/>
</g>
<g font-family="'DejaVu Sans','Liberation Sans',sans-serif" font-size="22.22" fill="#000">
<text x="1549" y="258.65" text-anchor="end">44°N</text>
<text x="1549" y="336.87" text-anchor="end">42°N</text>
<text x="1549" y="412.67" text-anchor="end">40°N</text>
<text x="1549" y="486.28" text-anchor="end">38°N</text>
<text x="1549" y="557.91" text-anchor="end">36°N</text>
<text transform="translate(1591.1,629.6) rotate(-45)" text-anchor="middle" y="8.1">76°W</text>
<text transform="translate(1648.3,629.6) rotate(-45)" text-anchor="middle" y="8.1">74°W</text>
<text transform="translate(1705.5,629.6) rotate(-45)" text-anchor="middle" y="8.1">72°W</text>
<text transform="translate(1762.7,629.6) rotate(-45)" text-anchor="middle" y="8.1">70°W</text>
<text transform="translate(1819.9,629.6) rotate(-45)" text-anchor="middle" y="8.1">68°W</text>
<text transform="translate(1877.1,629.6) rotate(-45)" text-anchor="middle" y="8.1">66°W</text>
<text transform="translate(1934.3,629.6) rotate(-45)" text-anchor="middle" y="8.1">64°W</text>
</g>
<rect x="1635.1" y="657.9" width="260.8" height="142.7" rx="4.4" ry="4.4" fill="#fff" fill-opacity="0.8" stroke="#cccccc" stroke-width="1.4"/>
<g font-family="'DejaVu Sans','Liberation Sans',sans-serif" font-size="22.22" fill="#000" letter-spacing="0.12">
<line x1="1643.4" y1="677.3" x2="1690.6" y2="677.3" stroke="#0000ff" stroke-width="2.1"/>
<circle cx="1666.5" cy="677.3" r="5.8" fill="#0000ff"/>
<text x="1707.6" y="685.9">sp071</text>
<line x1="1643.4" y1="711.6" x2="1690.6" y2="711.6" stroke="#ff0000" stroke-width="2.1"/>
<circle cx="1666.5" cy="711.6" r="5.8" fill="#ff0000"/>
<text x="1707.6" y="719.5">RTOFS</text>
<line x1="1643.4" y1="745.5" x2="1690.6" y2="745.5" stroke="#ffa500" stroke-width="2.1"/>
<circle cx="1666.5" cy="745.5" r="5.8" fill="#ffa500"/>
<text x="1707.6" y="753.7">RTOFS (Parallel)</text>
<line x1="1643.4" y1="780.1" x2="1690.6" y2="780.1" stroke="#ff00ff" stroke-width="2.1"/>
<circle cx="1666.5" cy="780.1" r="5.8" fill="#ff00ff"/>
<text x="1707.6" y="787.6">CMEMS</text>
</g>
</svg></body></html>
